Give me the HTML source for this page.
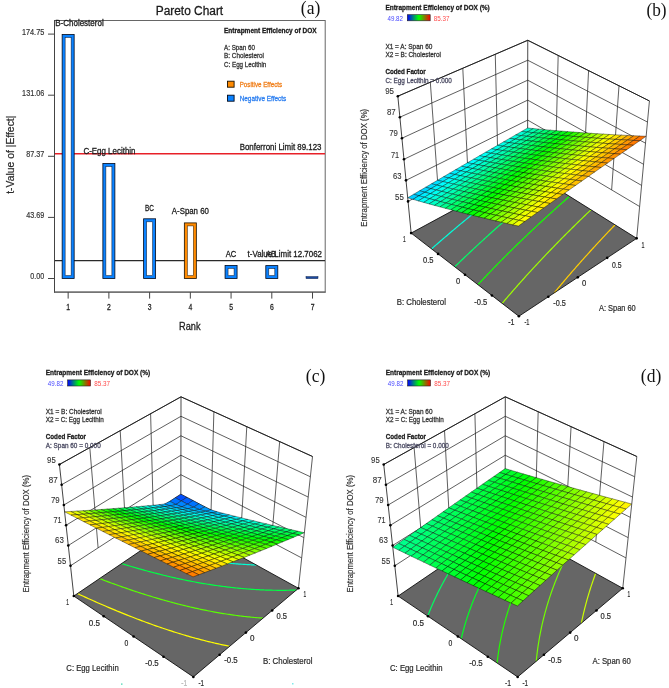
<!DOCTYPE html><html><head><meta charset="utf-8"><style>html,body{margin:0;padding:0;background:#fff;}svg{display:block} text{font-variant-ligatures:none;font-kerning:normal}</style></head><body><svg width="669" height="688" viewBox="0 0 669 688" font-family="'Liberation Sans', 'DejaVu Sans', sans-serif">
<defs><linearGradient id="cb" x1="0" x2="1" y1="0" y2="0"><stop offset="0" stop-color="#0000ff"/><stop offset="0.5" stop-color="#00ff00"/><stop offset="1" stop-color="#ff0000"/></linearGradient></defs>
<rect width="669" height="688" fill="#fff"/>
<line x1="437.94" y1="186.04" x2="430.31" y2="82.22" stroke="#1a1a1a" stroke-width="0.7"/>
<line x1="611.63" y1="189.91" x2="619.01" y2="85.78" stroke="#1a1a1a" stroke-width="0.7"/>
<line x1="467.84" y1="170.7" x2="462.79" y2="68.24" stroke="#1a1a1a" stroke-width="0.7"/>
<line x1="583.63" y1="173.28" x2="588.59" y2="70.62" stroke="#1a1a1a" stroke-width="0.7"/>
<line x1="497.74" y1="155.37" x2="495.28" y2="54.26" stroke="#1a1a1a" stroke-width="0.7"/>
<line x1="555.63" y1="156.66" x2="558.18" y2="55.45" stroke="#1a1a1a" stroke-width="0.7"/>
<line x1="527.63" y1="140.03" x2="527.76" y2="40.29" stroke="#1a1a1a" stroke-width="0.8"/>
<line x1="408.05" y1="201.38" x2="527.63" y2="140.03" stroke="#1a1a1a" stroke-width="0.7"/>
<line x1="527.63" y1="140.03" x2="639.63" y2="206.53" stroke="#1a1a1a" stroke-width="0.7"/>
<line x1="406" y1="180.34" x2="527.66" y2="120.08" stroke="#1a1a1a" stroke-width="0.7"/>
<line x1="527.66" y1="120.08" x2="641.59" y2="185.42" stroke="#1a1a1a" stroke-width="0.7"/>
<line x1="403.96" y1="159.31" x2="527.68" y2="100.13" stroke="#1a1a1a" stroke-width="0.7"/>
<line x1="527.68" y1="100.13" x2="643.55" y2="164.3" stroke="#1a1a1a" stroke-width="0.7"/>
<line x1="401.92" y1="138.27" x2="527.71" y2="80.18" stroke="#1a1a1a" stroke-width="0.7"/>
<line x1="527.71" y1="80.18" x2="645.51" y2="143.18" stroke="#1a1a1a" stroke-width="0.7"/>
<line x1="399.87" y1="117.23" x2="527.73" y2="60.23" stroke="#1a1a1a" stroke-width="0.7"/>
<line x1="527.73" y1="60.23" x2="647.47" y2="122.06" stroke="#1a1a1a" stroke-width="0.7"/>
<line x1="397.83" y1="96.2" x2="527.76" y2="40.29" stroke="#1a1a1a" stroke-width="0.7"/>
<line x1="527.76" y1="40.29" x2="649.43" y2="100.94" stroke="#1a1a1a" stroke-width="0.7"/>
<polygon points="411.13,233.09 518.86,316.28 636.68,238.37 527.59,170.11" fill="#666666"/>
<path d="M431.57,248.87 L432.58,247.99 L433.53,247.15 L434.48,246.32 L435.5,245.42 L436.39,244.64 L437.47,243.7 L438.31,242.96 L439.44,241.98 L440.25,241.28 L441.42,240.27 L442.21,239.59 L443.4,238.57 L444.19,237.89 L445.38,236.87 L446.17,236.19 L447.36,235.17 L448.15,234.49 L449.34,233.48 L450.16,232.78 L451.33,231.79 L452.18,231.07 L453.32,230.11 L454.22,229.35 L455.31,228.43 L456.27,227.62 L457.31,226.75 L458.34,225.89 L459.3,225.08 L460.42,224.15 L461.3,223.41 L462.5,222.42 L463.3,221.75 L464.5,220.76 L465.31,220.09 L466.51,219.1 L467.31,218.44 L468.51,217.45 L469.32,216.79 L470.52,215.8 L471.33,215.15 L472.53,214.16 L473.34,213.5 L474.55,212.52 L475.4,211.83 L476.56,210.89 L477.61,210.04 L478.58,209.26 L479.79,208.28 L480.6,207.63 L481.81,206.65 L482.62,206.01 L483.83,205.03 L484.64,204.39 L485.86,203.42 L486.67,202.77 L487.88,201.8 L488.86,201.03 L489.91,200.2 L491.13,199.23 L491.94,198.59 L493.16,197.63 L493.97,196.99 L495.19,196.03 L496.01,195.39 L497.23,194.43 L498.17,193.7 L499.27,192.84 L500.49,191.89 L501.31,191.25 L502.53,190.3 L503.35,189.67 L504.57,188.72 L505.39,188.09 L506.62,187.14 L507.75,186.27 L508.66,185.56 L509.89,184.62 L510.71,183.99 L511.94,183.05 L512.76,182.42 L513.99,181.48 L515.12,180.62 L516.04,179.92 L517.28,178.98 L518.1,178.36 L519.33,177.43 L520.15,176.8 L521.39,175.87 L522.62,174.94 L523.45,174.32 L524.68,173.39 L525.51,172.77 L526.74,171.85 L527.78,171.07 L528.39,170.61" fill="none" stroke="#00ffda" stroke-width="1.2"/>
<path d="M454.77,266.79 L455.53,266.05 L456.67,264.94 L457.44,264.21 L458.35,263.32 L459.34,262.36 L460.11,261.63 L461.25,260.53 L462.02,259.79 L463.17,258.7 L463.93,257.97 L464.89,257.05 L465.85,256.14 L466.62,255.42 L467.77,254.32 L468.54,253.6 L469.69,252.51 L470.46,251.79 L471.6,250.72 L472.39,249.98 L473.3,249.13 L474.32,248.18 L475.09,247.46 L476.25,246.39 L477.02,245.67 L478.18,244.6 L478.95,243.88 L480.12,242.81 L480.89,242.1 L481.98,241.1 L482.83,240.32 L483.75,239.48 L484.77,238.55 L485.55,237.84 L486.72,236.78 L487.5,236.07 L488.67,235.01 L489.45,234.31 L490.62,233.25 L491.4,232.55 L492.57,231.5 L493.35,230.8 L494.53,229.75 L495.31,229.05 L496.45,228.03 L497.27,227.31 L498.31,226.38 L499.23,225.57 L500.19,224.72 L501.19,223.83 L502.07,223.06 L503.16,222.11 L503.97,221.39 L505.12,220.38 L505.91,219.69 L507.09,218.66 L507.88,217.97 L509.07,216.94 L509.86,216.26 L511.04,215.23 L511.83,214.55 L513.02,213.52 L513.81,212.84 L515,211.82 L515.79,211.14 L516.98,210.12 L517.77,209.44 L518.96,208.43 L519.76,207.75 L520.95,206.73 L521.74,206.06 L522.94,205.05 L523.73,204.37 L524.93,203.37 L525.72,202.69 L526.92,201.69 L527.74,201 L528.91,200.01 L529.81,199.26 L530.91,198.34 L531.89,197.53 L532.91,196.68 L533.98,195.78 L534.91,195.01 L536.09,194.04 L536.91,193.36 L538.11,192.36 L538.92,191.7 L540.12,190.71 L540.92,190.05 L542.13,189.06 L542.93,188.4 L544.14,187.42 L544.94,186.76 L546.15,185.78 L546.96,185.12 L548.16,184.14 L548.97,183.49" fill="none" stroke="#00ff65" stroke-width="1.2"/>
<path d="M477.92,284.67 L479.02,283.49 L479.76,282.7 L480.5,281.91 L481.61,280.74 L482.35,279.95 L483.17,279.08 L484.19,278 L484.93,277.22 L485.98,276.12 L486.79,275.27 L487.53,274.5 L488.64,273.34 L489.39,272.56 L490.25,271.66 L491.25,270.63 L491.99,269.86 L493.11,268.7 L493.86,267.94 L494.6,267.17 L495.72,266.02 L496.47,265.25 L497.54,264.17 L498.34,263.35 L499.09,262.58 L500.22,261.44 L500.97,260.68 L502.01,259.63 L502.85,258.79 L503.6,258.03 L504.73,256.9 L505.49,256.14 L506.56,255.07 L507.37,254.26 L508.13,253.51 L509.26,252.38 L510.02,251.63 L511.15,250.51 L511.91,249.77 L512.76,248.93 L513.8,247.9 L514.56,247.16 L515.7,246.04 L516.46,245.3 L517.5,244.29 L518.36,243.45 L519.13,242.71 L520.27,241.6 L521.03,240.87 L522.18,239.76 L522.94,239.03 L523.95,238.06 L524.85,237.19 L525.62,236.46 L526.77,235.37 L527.53,234.64 L528.68,233.54 L529.45,232.81 L530.56,231.76 L531.37,231 L532.23,230.18 L533.29,229.19 L534.06,228.46 L535.22,227.38 L535.99,226.66 L537.15,225.58 L537.92,224.86 L539.04,223.81 L539.85,223.06 L540.77,222.21 L541.78,221.27 L542.56,220.56 L543.72,219.48 L544.49,218.77 L545.66,217.7 L546.43,216.99 L547.6,215.93 L548.38,215.22 L549.54,214.15 L550.32,213.45 L551.35,212.51 L552.27,211.68 L553.15,210.88 L554.22,209.92 L555,209.22 L556.17,208.16 L556.95,207.46 L558.12,206.41 L558.9,205.71 L560.08,204.66 L560.86,203.96 L562.03,202.92 L562.82,202.22 L563.99,201.18 L564.78,200.48 L565.96,199.44 L566.74,198.75 L567.92,197.71 L568.71,197.02 L569.5,196.33" fill="none" stroke="#13ff00" stroke-width="1.2"/>
<path d="M502.14,303.37 L503.05,302.3 L503.92,301.28 L504.63,300.44 L505.43,299.51 L506.41,298.36 L507.13,297.53 L507.84,296.7 L508.91,295.45 L509.63,294.62 L510.34,293.8 L511.42,292.56 L512.13,291.74 L512.85,290.91 L513.93,289.68 L514.65,288.86 L515.37,288.04 L516.44,286.82 L517.17,286 L517.89,285.18 L518.96,283.98 L519.7,283.15 L520.42,282.34 L521.51,281.12 L522.23,280.31 L522.96,279.5 L524.05,278.29 L524.78,277.48 L525.5,276.68 L526.59,275.47 L527.32,274.67 L528.05,273.87 L529.15,272.67 L529.88,271.87 L530.64,271.04 L531.7,269.88 L532.44,269.08 L533.31,268.13 L534.27,267.1 L535,266.31 L536.02,265.22 L536.84,264.33 L537.58,263.54 L538.68,262.36 L539.42,261.57 L540.15,260.79 L541.26,259.61 L542,258.83 L542.9,257.88 L543.85,256.87 L544.59,256.09 L545.7,254.92 L546.44,254.15 L547.18,253.37 L548.3,252.21 L549.04,251.43 L549.97,250.46 L550.9,249.5 L551.64,248.73 L552.76,247.57 L553.51,246.8 L554.31,245.98 L555.37,244.88 L556.12,244.12 L557.24,242.97 L557.99,242.21 L558.74,241.44 L559.87,240.3 L560.62,239.54 L561.7,238.44 L562.49,237.64 L563.25,236.88 L564.37,235.75 L565.13,234.99 L566.23,233.89 L567.01,233.11 L567.77,232.35 L568.9,231.22 L569.65,230.47 L570.79,229.35 L571.54,228.6 L572.39,227.77 L573.44,226.73 L574.19,225.99 L575.33,224.87 L576.09,224.12 L577.1,223.14 L577.99,222.27 L578.75,221.53 L579.89,220.42 L580.65,219.68 L581.8,218.57 L582.56,217.83 L583.5,216.92 L584.47,215.99 L585.23,215.26 L586.38,214.16 L587.14,213.42 L588.29,212.33 L589.06,211.6 L590.05,210.65 L590.97,209.77 L590.97,209.77" fill="none" stroke="#9fff00" stroke-width="1.2"/>
<path d="M554.19,292.92 L554.9,292.05 L555.61,291.2 L556.46,290.16 L557.37,289.08 L558.07,288.23 L558.78,287.38 L559.84,286.12 L560.54,285.27 L561.25,284.43 L562.25,283.24 L563.02,282.33 L563.73,281.49 L564.61,280.46 L565.51,279.4 L566.22,278.56 L566.99,277.67 L568,276.48 L568.72,275.65 L569.43,274.82 L570.5,273.58 L571.22,272.75 L571.93,271.92 L573.01,270.68 L573.73,269.86 L574.44,269.04 L575.51,267.82 L576.24,266.98 L576.96,266.16 L578,264.98 L578.76,264.12 L579.48,263.3 L580.52,262.14 L581.29,261.27 L582.01,260.45 L583.06,259.28 L583.82,258.43 L584.55,257.62 L585.63,256.42 L586.36,255.6 L587.09,254.79 L588.18,253.59 L588.91,252.78 L589.63,251.98 L590.73,250.78 L591.46,249.98 L592.19,249.18 L593.28,247.98 L594.02,247.18 L594.82,246.31 L595.85,245.19 L596.58,244.4 L597.51,243.4 L598.41,242.42 L599.15,241.63 L600.22,240.48 L600.99,239.66 L601.72,238.87 L602.83,237.69 L603.57,236.9 L604.34,236.08 L605.41,234.94 L606.15,234.16 L607.13,233.13 L608,232.21 L608.74,231.43 L609.85,230.26 L610.59,229.49 L611.36,228.68 L612.45,227.55 L613.19,226.77 L614.22,225.71 L615.05,224.84 L615.05,224.84" fill="none" stroke="#ffcf00" stroke-width="1.2"/>
<polyline points="527.59,170.11 411.13,233.09 518.86,316.28 636.68,238.37 527.59,170.11" fill="none" stroke="#111" stroke-width="0.9"/>
<g stroke="#000" stroke-opacity="0.78" stroke-width="0.5" stroke-linejoin="round">
<polygon points="527.26,132.09 533.32,128.58 527.65,128.01 521.61,131.48" fill="#00ffd2"/>
<polygon points="521.21,135.61 527.26,132.09 521.61,131.48 515.57,134.95" fill="#00ffd7"/>
<polygon points="532.94,132.69 539.02,129.13 533.32,128.58 527.26,132.09" fill="#00ffb3"/>
<polygon points="515.16,139.13 521.21,135.61 515.57,134.95 509.54,138.42" fill="#00ffdc"/>
<polygon points="538.65,133.27 544.75,129.66 539.02,129.13 532.94,132.69" fill="#00ff94"/>
<polygon points="526.87,136.26 532.94,132.69 527.26,132.09 521.21,135.61" fill="#00ffb8"/>
<polygon points="509.11,142.65 515.16,139.13 509.54,138.42 503.51,141.89" fill="#00ffe1"/>
<polygon points="520.8,139.82 526.87,136.26 521.21,135.61 515.16,139.13" fill="#00ffbd"/>
<polygon points="532.56,136.89 538.65,133.27 532.94,132.69 526.87,136.26" fill="#00ff99"/>
<polygon points="544.39,133.84 550.51,130.18 544.75,129.66 538.65,133.27" fill="#00ff74"/>
<polygon points="526.47,140.5 532.56,136.89 526.87,136.26 520.8,139.82" fill="#00ff9f"/>
<polygon points="503.07,146.18 509.11,142.65 503.51,141.89 497.49,145.37" fill="#00ffe6"/>
<polygon points="514.74,143.4 520.8,139.82 515.16,139.13 509.11,142.65" fill="#00ffc3"/>
<polygon points="538.27,137.5 544.39,133.84 538.65,133.27 532.56,136.89" fill="#00ff7a"/>
<polygon points="550.15,134.39 556.29,130.68 550.51,130.18 544.39,133.84" fill="#00ff55"/>
<polygon points="497.03,149.71 503.07,146.18 497.49,145.37 491.47,148.85" fill="#00ffeb"/>
<polygon points="520.38,144.12 526.47,140.5 520.8,139.82 514.74,143.4" fill="#00ffa4"/>
<polygon points="532.16,141.17 538.27,137.5 532.56,136.89 526.47,140.5" fill="#00ff80"/>
<polygon points="555.93,134.92 562.09,131.16 556.29,130.68 550.15,134.39" fill="#00ff36"/>
<polygon points="508.68,146.97 514.74,143.4 509.11,142.65 503.07,146.18" fill="#00ffc8"/>
<polygon points="544.01,138.1 550.15,134.39 544.39,133.84 538.27,137.5" fill="#00ff5b"/>
<polygon points="491,153.24 497.03,149.71 491.47,148.85 485.46,152.33" fill="#00fff0"/>
<polygon points="502.62,150.55 508.68,146.97 503.07,146.18 497.03,149.71" fill="#00ffcd"/>
<polygon points="514.31,147.75 520.38,144.12 514.74,143.4 508.68,146.97" fill="#00ffa9"/>
<polygon points="526.06,144.83 532.16,141.17 526.47,140.5 520.38,144.12" fill="#00ff85"/>
<polygon points="537.88,141.81 544.01,138.1 538.27,137.5 532.16,141.17" fill="#00ff61"/>
<polygon points="549.78,138.68 555.93,134.92 550.15,134.39 544.01,138.1" fill="#00ff3c"/>
<polygon points="561.74,135.44 567.92,131.63 562.09,131.16 555.93,134.92" fill="#00ff17"/>
<polygon points="484.98,156.77 491,153.24 485.46,152.33 479.45,155.81" fill="#00fff5"/>
<polygon points="508.23,151.37 514.31,147.75 508.68,146.97 502.62,150.55" fill="#00ffaf"/>
<polygon points="543.63,142.45 549.78,138.68 544.01,138.1 537.88,141.81" fill="#00ff42"/>
<polygon points="567.58,135.94 573.78,132.09 567.92,131.63 561.74,135.44" fill="#09ff00"/>
<polygon points="496.57,154.12 502.62,150.55 497.03,149.71 491,153.24" fill="#00ffd2"/>
<polygon points="519.96,148.51 526.06,144.83 520.38,144.12 514.31,147.75" fill="#00ff8b"/>
<polygon points="531.76,145.53 537.88,141.81 532.16,141.17 526.06,144.83" fill="#00ff67"/>
<polygon points="555.57,139.25 561.74,135.44 555.93,134.92 549.78,138.68" fill="#00ff1d"/>
<polygon points="478.95,160.3 484.98,156.77 479.45,155.81 473.45,159.3" fill="#00fffa"/>
<polygon points="490.52,157.71 496.57,154.12 491,153.24 484.98,156.77" fill="#00ffd8"/>
<polygon points="502.16,155 508.23,151.37 502.62,150.55 496.57,154.12" fill="#00ffb4"/>
<polygon points="513.87,152.18 519.96,148.51 514.31,147.75 508.23,151.37" fill="#00ff91"/>
<polygon points="537.49,146.21 543.63,142.45 537.88,141.81 531.76,145.53" fill="#00ff48"/>
<polygon points="549.4,143.06 555.57,139.25 549.78,138.68 543.63,142.45" fill="#00ff23"/>
<polygon points="561.39,139.8 567.58,135.94 561.74,135.44 555.57,139.25" fill="#02ff00"/>
<polygon points="573.45,136.43 579.67,132.53 573.78,132.09 567.58,135.94" fill="#2dff00"/>
<polygon points="525.64,149.25 531.76,145.53 526.06,144.83 519.96,148.51" fill="#00ff6d"/>
<polygon points="496.1,158.63 502.16,155 496.57,154.12 490.52,157.71" fill="#00ffba"/>
<polygon points="555.2,143.66 561.39,139.8 555.57,139.25 549.4,143.06" fill="#00ff05"/>
<polygon points="472.94,163.84 478.95,160.3 473.45,159.3 467.45,162.79" fill="#00feff"/>
<polygon points="484.48,161.29 490.52,157.71 484.98,156.77 478.95,160.3" fill="#00ffdd"/>
<polygon points="507.78,155.86 513.87,152.18 508.23,151.37 502.16,155" fill="#00ff96"/>
<polygon points="519.53,152.97 525.64,149.25 519.96,148.51 513.87,152.18" fill="#00ff73"/>
<polygon points="531.35,149.98 537.49,146.21 531.76,145.53 525.64,149.25" fill="#00ff4e"/>
<polygon points="543.24,146.88 549.4,143.06 543.63,142.45 537.49,146.21" fill="#00ff2a"/>
<polygon points="567.23,140.34 573.45,136.43 567.58,135.94 561.39,139.8" fill="#25ff00"/>
<polygon points="579.34,136.9 585.58,132.95 579.67,132.53 573.45,136.43" fill="#50ff00"/>
<polygon points="490.04,162.26 496.1,158.63 490.52,157.71 484.48,161.29" fill="#00ffbf"/>
<polygon points="501.7,159.54 507.78,155.86 502.16,155 496.1,158.63" fill="#00ff9c"/>
<polygon points="525.22,153.75 531.35,149.98 525.64,149.25 519.53,152.97" fill="#00ff54"/>
<polygon points="549.01,147.53 555.2,143.66 549.4,143.06 543.24,146.88" fill="#00ff0b"/>
<polygon points="561.02,144.25 567.23,140.34 561.39,139.8 555.2,143.66" fill="#1eff00"/>
<polygon points="466.92,167.38 472.94,163.84 467.45,162.79 461.45,166.28" fill="#00f9ff"/>
<polygon points="585.26,137.36 591.52,133.35 585.58,132.95 579.34,136.9" fill="#74ff00"/>
<polygon points="478.45,164.88 484.48,161.29 478.95,160.3 472.94,163.84" fill="#00ffe2"/>
<polygon points="513.42,156.7 519.53,152.97 513.87,152.18 507.78,155.86" fill="#00ff78"/>
<polygon points="537.08,150.69 543.24,146.88 537.49,146.21 531.35,149.98" fill="#00ff30"/>
<polygon points="573.1,140.86 579.34,136.9 573.45,136.43 567.23,140.34" fill="#48ff00"/>
<polygon points="460.91,170.92 466.92,167.38 461.45,166.28 455.46,169.77" fill="#00f4ff"/>
<polygon points="483.98,165.9 490.04,162.26 484.48,161.29 478.45,164.88" fill="#00ffc5"/>
<polygon points="495.62,163.22 501.7,159.54 496.1,158.63 490.04,162.26" fill="#00ffa2"/>
<polygon points="507.32,160.43 513.42,156.7 507.78,155.86 501.7,159.54" fill="#00ff7e"/>
<polygon points="519.09,157.53 525.22,153.75 519.53,152.97 513.42,156.7" fill="#00ff5a"/>
<polygon points="530.93,154.52 537.08,150.69 531.35,149.98 525.22,153.75" fill="#00ff36"/>
<polygon points="542.84,151.39 549.01,147.53 543.24,146.88 537.08,150.69" fill="#00ff12"/>
<polygon points="554.82,148.16 561.02,144.25 555.2,143.66 549.01,147.53" fill="#16ff00"/>
<polygon points="566.87,144.82 573.1,140.86 567.23,140.34 561.02,144.25" fill="#41ff00"/>
<polygon points="591.2,137.79 597.48,133.74 591.52,133.35 585.26,137.36" fill="#97ff00"/>
<polygon points="472.42,168.46 478.45,164.88 472.94,163.84 466.92,167.38" fill="#00ffe7"/>
<polygon points="579,141.36 585.26,137.36 579.34,136.9 573.1,140.86" fill="#6cff00"/>
<polygon points="512.97,161.31 519.09,157.53 513.42,156.7 507.32,160.43" fill="#00ff60"/>
<polygon points="536.67,155.26 542.84,151.39 537.08,150.69 530.93,154.52" fill="#00ff18"/>
<polygon points="454.91,174.47 460.91,170.92 455.46,169.77 449.48,173.27" fill="#00efff"/>
<polygon points="477.94,169.53 483.98,165.9 478.45,164.88 472.42,168.46" fill="#00ffca"/>
<polygon points="572.75,145.37 579,141.36 573.1,140.86 566.87,144.82" fill="#64ff00"/>
<polygon points="597.17,138.22 603.48,134.12 597.48,133.74 591.2,137.79" fill="#baff00"/>
<polygon points="466.39,172.06 472.42,168.46 466.92,167.38 460.91,170.92" fill="#00ffed"/>
<polygon points="489.55,166.9 495.62,163.22 490.04,162.26 483.98,165.9" fill="#00ffa7"/>
<polygon points="501.22,164.16 507.32,160.43 501.7,159.54 495.62,163.22" fill="#00ff84"/>
<polygon points="524.78,158.34 530.93,154.52 525.22,153.75 519.09,157.53" fill="#00ff3c"/>
<polygon points="548.62,152.08 554.82,148.16 549.01,147.53 542.84,151.39" fill="#0fff00"/>
<polygon points="560.65,148.78 566.87,144.82 561.02,144.25 554.82,148.16" fill="#39ff00"/>
<polygon points="584.92,141.85 591.2,137.79 585.26,137.36 579,141.36" fill="#8fff00"/>
<polygon points="448.91,178.01 454.91,174.47 449.48,173.27 443.49,176.77" fill="#00eaff"/>
<polygon points="471.89,173.18 477.94,169.53 472.42,168.46 466.39,172.06" fill="#00ffd0"/>
<polygon points="506.85,165.09 512.97,161.31 507.32,160.43 501.22,164.16" fill="#00ff66"/>
<polygon points="518.64,162.17 524.78,158.34 519.09,157.53 512.97,161.31" fill="#00ff43"/>
<polygon points="530.5,159.14 536.67,155.26 530.93,154.52 524.78,158.34" fill="#00ff1e"/>
<polygon points="542.43,156 548.62,152.08 542.84,151.39 536.67,155.26" fill="#07ff00"/>
<polygon points="578.65,145.91 584.92,141.85 579,141.36 572.75,145.37" fill="#87ff00"/>
<polygon points="603.16,138.63 609.49,134.48 603.48,134.12 597.17,138.22" fill="#deff00"/>
<polygon points="460.37,175.65 466.39,172.06 460.91,170.92 454.91,174.47" fill="#00fff2"/>
<polygon points="483.48,170.59 489.55,166.9 483.98,165.9 477.94,169.53" fill="#00ffad"/>
<polygon points="566.5,149.38 572.75,145.37 566.87,144.82 560.65,148.78" fill="#5cff00"/>
<polygon points="590.87,142.32 597.17,138.22 591.2,137.79 584.92,141.85" fill="#b2ff00"/>
<polygon points="495.13,167.89 501.22,164.16 495.62,163.22 489.55,166.9" fill="#00ff8a"/>
<polygon points="554.43,152.75 560.65,148.78 554.82,148.16 548.62,152.08" fill="#31ff00"/>
<polygon points="524.34,163.01 530.5,159.14 524.78,158.34 518.64,162.17" fill="#00ff25"/>
<polygon points="465.85,176.82 471.89,173.18 466.39,172.06 460.37,175.65" fill="#00ffd5"/>
<polygon points="584.57,146.43 590.87,142.32 584.92,141.85 578.65,145.91" fill="#aaff00"/>
<polygon points="442.92,181.56 448.91,178.01 443.49,176.77 437.52,180.27" fill="#00e5ff"/>
<polygon points="454.35,179.25 460.37,175.65 454.91,174.47 448.91,178.01" fill="#00fff7"/>
<polygon points="477.42,174.28 483.48,170.59 477.94,169.53 471.89,173.18" fill="#00ffb3"/>
<polygon points="500.74,168.87 506.85,165.09 501.22,164.16 495.13,167.89" fill="#00ff6c"/>
<polygon points="512.51,166 518.64,162.17 512.97,161.31 506.85,165.09" fill="#00ff49"/>
<polygon points="536.24,159.92 542.43,156 536.67,155.26 530.5,159.14" fill="#00ff00"/>
<polygon points="548.22,156.71 554.43,152.75 548.62,152.08 542.43,156" fill="#29ff00"/>
<polygon points="572.38,149.97 578.65,145.91 572.75,145.37 566.5,149.38" fill="#7eff00"/>
<polygon points="596.84,142.78 603.16,138.63 597.17,138.22 590.87,142.32" fill="#d5ff00"/>
<polygon points="609.19,139.02 615.54,134.82 609.49,134.48 603.16,138.63" fill="#fffd00"/>
<polygon points="489.05,171.63 495.13,167.89 489.55,166.9 483.48,170.59" fill="#00ff90"/>
<polygon points="560.26,153.4 566.5,149.38 560.65,148.78 554.43,152.75" fill="#54ff00"/>
<polygon points="459.82,180.46 465.85,176.82 460.37,175.65 454.35,179.25" fill="#00ffdb"/>
<polygon points="518.19,166.89 524.34,163.01 518.64,162.17 512.51,166" fill="#00ff2b"/>
<polygon points="530.06,163.85 536.24,159.92 530.5,159.14 524.34,163.01" fill="#00ff07"/>
<polygon points="590.53,146.94 596.84,142.78 590.87,142.32 584.57,146.43" fill="#ccff00"/>
<polygon points="436.93,185.11 442.92,181.56 437.52,180.27 431.54,183.77" fill="#00e0ff"/>
<polygon points="471.36,177.97 477.42,174.28 471.89,173.18 465.85,176.82" fill="#00ffb8"/>
<polygon points="494.64,172.66 500.74,168.87 495.13,167.89 489.05,171.63" fill="#00ff72"/>
<polygon points="554.03,157.42 560.26,153.4 554.43,152.75 548.22,156.71" fill="#4cff00"/>
<polygon points="578.29,150.54 584.57,146.43 578.65,145.91 572.38,149.97" fill="#a1ff00"/>
<polygon points="615.23,139.39 621.61,135.14 615.54,134.82 609.19,139.02" fill="#ffe100"/>
<polygon points="448.34,182.84 454.35,179.25 448.91,178.01 442.92,181.56" fill="#00fffc"/>
<polygon points="482.96,175.37 489.05,171.63 483.48,170.59 477.42,174.28" fill="#00ff96"/>
<polygon points="506.38,169.83 512.51,166 506.85,165.09 500.74,168.87" fill="#00ff4f"/>
<polygon points="542.01,160.69 548.22,156.71 542.43,156 536.24,159.92" fill="#22ff00"/>
<polygon points="566.12,154.04 572.38,149.97 566.5,149.38 560.26,153.4" fill="#76ff00"/>
<polygon points="602.84,143.22 609.19,139.02 603.16,138.63 596.84,142.78" fill="#f8ff00"/>
<polygon points="430.94,188.67 436.93,185.11 431.54,183.77 425.58,187.27" fill="#00dbff"/>
<polygon points="453.79,184.11 459.82,180.46 454.35,179.25 448.34,182.84" fill="#00ffe0"/>
<polygon points="465.31,181.67 471.36,177.97 465.85,176.82 459.82,180.46" fill="#00ffbe"/>
<polygon points="488.54,176.45 494.64,172.66 489.05,171.63 482.96,175.37" fill="#00ff79"/>
<polygon points="512.04,170.78 518.19,166.89 512.51,166 506.38,169.83" fill="#00ff32"/>
<polygon points="523.89,167.78 530.06,163.85 524.34,163.01 518.19,166.89" fill="#00ff0e"/>
<polygon points="535.81,164.66 542.01,160.69 536.24,159.92 530.06,163.85" fill="#1aff00"/>
<polygon points="559.87,158.1 566.12,154.04 560.26,153.4 554.03,157.42" fill="#6eff00"/>
<polygon points="584.22,151.1 590.53,146.94 584.57,146.43 578.29,150.54" fill="#c4ff00"/>
<polygon points="596.5,147.43 602.84,143.22 596.84,142.78 590.53,146.94" fill="#efff00"/>
<polygon points="621.31,139.75 627.7,135.45 621.61,135.14 615.23,139.39" fill="#ffc600"/>
<polygon points="442.33,186.45 448.34,182.84 442.92,181.56 436.93,185.11" fill="#00fcff"/>
<polygon points="476.89,179.11 482.96,175.37 477.42,174.28 471.36,177.97" fill="#00ff9b"/>
<polygon points="500.25,173.67 506.38,169.83 500.74,168.87 494.64,172.66" fill="#00ff55"/>
<polygon points="547.8,161.44 554.03,157.42 548.22,156.71 542.01,160.69" fill="#44ff00"/>
<polygon points="572.01,154.66 578.29,150.54 572.38,149.97 566.12,154.04" fill="#99ff00"/>
<polygon points="608.87,143.65 615.23,139.39 609.19,139.02 602.84,143.22" fill="#ffe900"/>
<polygon points="447.76,187.76 453.79,184.11 448.34,182.84 442.33,186.45" fill="#00ffe5"/>
<polygon points="482.44,180.24 488.54,176.45 482.96,175.37 476.89,179.11" fill="#00ff7f"/>
<polygon points="505.89,174.66 512.04,170.78 506.38,169.83 500.25,173.67" fill="#00ff38"/>
<polygon points="541.58,165.47 547.8,161.44 542.01,160.69 535.81,164.66" fill="#3cff00"/>
<polygon points="565.73,158.78 572.01,154.66 566.12,154.04 559.87,158.1" fill="#90ff00"/>
<polygon points="602.51,147.9 608.87,143.65 602.84,143.22 596.5,147.43" fill="#fff000"/>
<polygon points="424.96,192.23 430.94,188.67 425.58,187.27 419.61,190.78" fill="#00d6ff"/>
<polygon points="436.33,190.05 442.33,186.45 436.93,185.11 430.94,188.67" fill="#00f7ff"/>
<polygon points="459.26,185.37 465.31,181.67 459.82,180.46 453.79,184.11" fill="#00ffc4"/>
<polygon points="470.82,182.86 476.89,179.11 471.36,177.97 465.31,181.67" fill="#00ffa1"/>
<polygon points="494.14,177.51 500.25,173.67 494.64,172.66 488.54,176.45" fill="#00ff5c"/>
<polygon points="517.72,171.71 523.89,167.78 518.19,166.89 512.04,170.78" fill="#00ff14"/>
<polygon points="529.62,168.64 535.81,164.66 530.06,163.85 523.89,167.78" fill="#12ff00"/>
<polygon points="553.62,162.18 559.87,158.1 554.03,157.42 547.8,161.44" fill="#66ff00"/>
<polygon points="577.92,155.26 584.22,151.1 578.29,150.54 572.01,154.66" fill="#bbff00"/>
<polygon points="590.18,151.64 596.5,147.43 590.53,146.94 584.22,151.1" fill="#e7ff00"/>
<polygon points="614.92,144.06 621.31,139.75 615.23,139.39 608.87,143.65" fill="#ffcd00"/>
<polygon points="627.41,140.1 633.82,135.75 627.7,135.45 621.31,139.75" fill="#ffaa00"/>
<polygon points="441.74,191.42 447.76,187.76 442.33,186.45 436.33,190.05" fill="#00ffeb"/>
<polygon points="476.36,184.03 482.44,180.24 476.89,179.11 470.82,182.86" fill="#00ff85"/>
<polygon points="499.76,178.55 505.89,174.66 500.25,173.67 494.14,177.51" fill="#00ff3e"/>
<polygon points="547.38,166.25 553.62,162.18 547.8,161.44 541.58,165.47" fill="#5eff00"/>
<polygon points="571.62,159.43 577.92,155.26 572.01,154.66 565.73,158.78" fill="#b3ff00"/>
<polygon points="608.54,148.36 614.92,144.06 608.87,143.65 602.51,147.9" fill="#ffd400"/>
<polygon points="418.99,195.78 424.96,192.23 419.61,190.78 413.65,194.29" fill="#00d1ff"/>
<polygon points="453.22,189.07 459.26,185.37 453.79,184.11 447.76,187.76" fill="#00ffc9"/>
<polygon points="488.02,181.35 494.14,177.51 488.54,176.45 482.44,180.24" fill="#00ff62"/>
<polygon points="511.56,175.64 517.72,171.71 512.04,170.78 505.89,174.66" fill="#00ff1b"/>
<polygon points="535.37,169.49 541.58,165.47 535.81,164.66 529.62,168.64" fill="#34ff00"/>
<polygon points="559.47,162.9 565.73,158.78 559.87,158.1 553.62,162.18" fill="#88ff00"/>
<polygon points="596.16,152.16 602.51,147.9 596.5,147.43 590.18,151.64" fill="#fff700"/>
<polygon points="633.53,140.43 639.97,136.03 633.82,135.75 627.41,140.1" fill="#ff8e00"/>
<polygon points="430.33,193.66 436.33,190.05 430.94,188.67 424.96,192.23" fill="#00f2ff"/>
<polygon points="464.75,186.61 470.82,182.86 465.31,181.67 459.26,185.37" fill="#00ffa7"/>
<polygon points="523.43,172.63 529.62,168.64 523.89,167.78 517.72,171.71" fill="#0aff00"/>
<polygon points="583.85,155.85 590.18,151.64 584.22,151.1 577.92,155.26" fill="#deff00"/>
<polygon points="621,144.45 627.41,140.1 621.31,139.75 614.92,144.06" fill="#ffb100"/>
<polygon points="493.63,182.44 499.76,178.55 494.14,177.51 488.02,181.35" fill="#00ff45"/>
<polygon points="553.21,167.02 559.47,162.9 553.62,162.18 547.38,166.25" fill="#80ff00"/>
<polygon points="413.01,199.35 418.99,195.78 413.65,194.29 407.7,197.8" fill="#00ccff"/>
<polygon points="435.73,195.07 441.74,191.42 436.33,190.05 430.33,193.66" fill="#00fff0"/>
<polygon points="447.18,192.77 453.22,189.07 447.76,187.76 441.74,191.42" fill="#00ffcf"/>
<polygon points="470.27,187.83 476.36,184.03 470.82,182.86 464.75,186.61" fill="#00ff8b"/>
<polygon points="481.92,185.19 488.02,181.35 482.44,180.24 476.36,184.03" fill="#00ff68"/>
<polygon points="505.4,179.58 511.56,175.64 505.89,174.66 499.76,178.55" fill="#00ff21"/>
<polygon points="541.15,170.33 547.38,166.25 541.58,165.47 535.37,169.49" fill="#55ff00"/>
<polygon points="565.34,163.6 571.62,159.43 565.73,158.78 559.47,162.9" fill="#aaff00"/>
<polygon points="577.54,160.07 583.85,155.85 577.92,155.26 571.62,159.43" fill="#d5ff00"/>
<polygon points="602.17,152.67 608.54,148.36 602.51,147.9 596.16,152.16" fill="#ffdc00"/>
<polygon points="614.6,148.81 621,144.45 614.92,144.06 608.54,148.36" fill="#ffb900"/>
<polygon points="639.69,140.74 646.15,136.29 639.97,136.03 633.53,140.43" fill="#ff7200"/>
<polygon points="424.34,197.27 430.33,193.66 424.96,192.23 418.99,195.78" fill="#00edff"/>
<polygon points="458.7,190.36 464.75,186.61 459.26,185.37 453.22,189.07" fill="#00ffad"/>
<polygon points="517.25,176.61 523.43,172.63 517.72,171.71 511.56,175.64" fill="#03ff00"/>
<polygon points="529.16,173.53 535.37,169.49 529.62,168.64 523.43,172.63" fill="#2cff00"/>
<polygon points="589.81,156.43 596.16,152.16 590.18,151.64 583.85,155.85" fill="#fffe00"/>
<polygon points="627.1,144.83 633.53,140.43 627.41,140.1 621,144.45" fill="#ff9600"/>
<polygon points="487.5,186.34 493.63,182.44 488.02,181.35 481.92,185.19" fill="#00ff4b"/>
<polygon points="559.05,167.78 565.34,163.6 559.47,162.9 553.21,167.02" fill="#a1ff00"/>
<polygon points="429.72,198.73 435.73,195.07 430.33,193.66 424.34,197.27" fill="#00fff6"/>
<polygon points="464.2,191.63 470.27,187.83 464.75,186.61 458.7,190.36" fill="#00ff91"/>
<polygon points="499.25,183.53 505.4,179.58 499.76,178.55 493.63,182.44" fill="#00ff28"/>
<polygon points="546.95,171.15 553.21,167.02 547.38,166.25 541.15,170.33" fill="#77ff00"/>
<polygon points="583.48,160.7 589.81,156.43 583.85,155.85 577.54,160.07" fill="#f7ff00"/>
<polygon points="620.68,149.24 627.1,144.83 621,144.45 614.6,148.81" fill="#ff9d00"/>
<polygon points="418.35,200.88 424.34,197.27 418.99,195.78 413.01,199.35" fill="#00e7ff"/>
<polygon points="441.15,196.48 447.18,192.77 441.74,191.42 435.73,195.07" fill="#00ffd4"/>
<polygon points="452.64,194.11 458.7,190.36 453.22,189.07 447.18,192.77" fill="#00ffb3"/>
<polygon points="475.82,189.04 481.92,185.19 476.36,184.03 470.27,187.83" fill="#00ff6e"/>
<polygon points="511.08,180.6 517.25,176.61 511.56,175.64 505.4,179.58" fill="#00ff04"/>
<polygon points="522.96,177.56 529.16,173.53 523.43,172.63 517.25,176.61" fill="#24ff00"/>
<polygon points="534.92,174.41 541.15,170.33 535.37,169.49 529.16,173.53" fill="#4dff00"/>
<polygon points="571.23,164.29 577.54,160.07 571.62,159.43 565.34,163.6" fill="#ccff00"/>
<polygon points="595.8,156.99 602.17,152.67 596.16,152.16 589.81,156.43" fill="#ffe300"/>
<polygon points="608.2,153.17 614.6,148.81 608.54,148.36 602.17,152.67" fill="#ffc000"/>
<polygon points="633.23,145.19 639.69,140.74 633.53,140.43 627.1,144.83" fill="#ff7a00"/>
<polygon points="423.72,202.4 429.72,198.73 424.34,197.27 418.35,200.88" fill="#00fffb"/>
<polygon points="458.13,195.44 464.2,191.63 458.7,190.36 452.64,194.11" fill="#00ff97"/>
<polygon points="481.38,190.24 487.5,186.34 481.92,185.19 475.82,189.04" fill="#00ff52"/>
<polygon points="493.11,187.47 499.25,183.53 493.63,182.44 487.5,186.34" fill="#00ff2f"/>
<polygon points="552.78,171.96 559.05,167.78 553.21,167.02 546.95,171.15" fill="#99ff00"/>
<polygon points="564.93,168.52 571.23,164.29 565.34,163.6 559.05,167.78" fill="#c3ff00"/>
<polygon points="589.44,161.31 595.8,156.99 589.81,156.43 583.48,160.7" fill="#ffea00"/>
<polygon points="626.78,149.65 633.23,145.19 627.1,144.83 620.68,149.24" fill="#ff8200"/>
<polygon points="435.12,200.19 441.15,196.48 435.73,195.07 429.72,198.73" fill="#00ffda"/>
<polygon points="469.72,192.89 475.82,189.04 470.27,187.83 464.2,191.63" fill="#00ff74"/>
<polygon points="504.91,184.59 511.08,180.6 505.4,179.58 499.25,183.53" fill="#00ff0b"/>
<polygon points="516.77,181.6 522.96,177.56 517.25,176.61 511.08,180.6" fill="#1cff00"/>
<polygon points="528.7,178.5 534.92,174.41 529.16,173.53 522.96,177.56" fill="#45ff00"/>
<polygon points="540.71,175.28 546.95,171.15 541.15,170.33 534.92,174.41" fill="#6fff00"/>
<polygon points="577.15,164.97 583.48,160.7 577.54,160.07 571.23,164.29" fill="#eeff00"/>
<polygon points="614.26,153.65 620.68,149.24 614.6,148.81 608.2,153.17" fill="#ffa500"/>
<polygon points="446.59,197.87 452.64,194.11 447.18,192.77 441.15,196.48" fill="#00ffb9"/>
<polygon points="601.81,157.53 608.2,153.17 602.17,152.67 595.8,156.99" fill="#ffc800"/>
<polygon points="475.27,194.14 481.38,190.24 475.82,189.04 469.72,192.89" fill="#00ff58"/>
<polygon points="570.83,169.25 577.15,164.97 571.23,164.29 564.93,168.52" fill="#e5ff00"/>
<polygon points="429.1,203.9 435.12,200.19 429.72,198.73 423.72,202.4" fill="#00ffe0"/>
<polygon points="452.06,199.24 458.13,195.44 452.64,194.11 446.59,197.87" fill="#00ff9d"/>
<polygon points="463.63,196.75 469.72,192.89 464.2,191.63 458.13,195.44" fill="#00ff7b"/>
<polygon points="486.97,191.42 493.11,187.47 487.5,186.34 481.38,190.24" fill="#00ff35"/>
<polygon points="498.74,188.59 504.91,184.59 499.25,183.53 493.11,187.47" fill="#00ff12"/>
<polygon points="510.58,185.64 516.77,181.6 511.08,180.6 504.91,184.59" fill="#14ff00"/>
<polygon points="522.49,182.59 528.7,178.5 522.96,177.56 516.77,181.6" fill="#3dff00"/>
<polygon points="534.47,179.42 540.71,175.28 534.92,174.41 528.7,178.5" fill="#66ff00"/>
<polygon points="546.51,176.14 552.78,171.96 546.95,171.15 540.71,175.28" fill="#90ff00"/>
<polygon points="558.63,172.75 564.93,168.52 559.05,167.78 552.78,171.96" fill="#baff00"/>
<polygon points="583.09,165.63 589.44,161.31 583.48,160.7 577.15,164.97" fill="#fff100"/>
<polygon points="595.43,161.9 601.81,157.53 595.8,156.99 589.44,161.31" fill="#ffcf00"/>
<polygon points="620.35,154.11 626.78,149.65 620.68,149.24 614.26,153.65" fill="#ff8a00"/>
<polygon points="440.55,201.63 446.59,197.87 441.15,196.48 435.12,200.19" fill="#00ffbe"/>
<polygon points="607.85,158.06 614.26,153.65 608.2,153.17 601.81,157.53" fill="#ffad00"/>
<polygon points="469.16,198.04 475.27,194.14 469.72,192.89 463.63,196.75" fill="#00ff5f"/>
<polygon points="576.75,169.96 583.09,165.63 577.15,164.97 570.83,169.25" fill="#fff900"/>
<polygon points="446,203.05 452.06,199.24 446.59,197.87 440.55,201.63" fill="#00ffa3"/>
<polygon points="480.84,195.37 486.97,191.42 481.38,190.24 475.27,194.14" fill="#00ff3c"/>
<polygon points="504.4,189.69 510.58,185.64 504.91,184.59 498.74,188.59" fill="#0cff00"/>
<polygon points="516.28,186.68 522.49,182.59 516.77,181.6 510.58,185.64" fill="#35ff00"/>
<polygon points="528.23,183.56 534.47,179.42 528.7,178.5 522.49,182.59" fill="#5eff00"/>
<polygon points="540.25,180.33 546.51,176.14 540.71,175.28 534.47,179.42" fill="#88ff00"/>
<polygon points="564.51,173.53 570.83,169.25 564.93,168.52 558.63,172.75" fill="#dcff00"/>
<polygon points="601.45,162.48 607.85,158.06 601.81,157.53 595.43,161.9" fill="#ffb400"/>
<polygon points="434.51,205.39 440.55,201.63 435.12,200.19 429.1,203.9" fill="#00ffc4"/>
<polygon points="457.55,200.6 463.63,196.75 458.13,195.44 452.06,199.24" fill="#00ff81"/>
<polygon points="492.59,192.59 498.74,188.59 493.11,187.47 486.97,191.42" fill="#00ff19"/>
<polygon points="552.35,176.98 558.63,172.75 552.78,171.96 546.51,176.14" fill="#b2ff00"/>
<polygon points="589.06,166.28 595.43,161.9 589.44,161.31 583.09,165.63" fill="#ffd700"/>
<polygon points="613.92,158.58 620.35,154.11 614.26,153.65 607.85,158.06" fill="#ff9100"/>
<polygon points="439.94,206.87 446,203.05 440.55,201.63 434.51,205.39" fill="#00ffa9"/>
<polygon points="463.06,201.95 469.16,198.04 463.63,196.75 457.55,200.6" fill="#00ff65"/>
<polygon points="474.72,199.33 480.84,195.37 475.27,194.14 469.16,198.04" fill="#00ff43"/>
<polygon points="510.08,190.78 516.28,186.68 510.58,185.64 504.4,189.69" fill="#2dff00"/>
<polygon points="522.01,187.7 528.23,183.56 522.49,182.59 516.28,186.68" fill="#56ff00"/>
<polygon points="534,184.52 540.25,180.33 534.47,179.42 528.23,183.56" fill="#7fff00"/>
<polygon points="570.41,174.29 576.75,169.96 570.83,169.25 564.51,173.53" fill="#feff00"/>
<polygon points="582.7,170.65 589.06,166.28 583.09,165.63 576.75,169.96" fill="#ffde00"/>
<polygon points="607.49,163.05 613.92,158.58 607.85,158.06 601.45,162.48" fill="#ff9900"/>
<polygon points="451.47,204.46 457.55,200.6 452.06,199.24 446,203.05" fill="#00ff87"/>
<polygon points="486.44,196.59 492.59,192.59 486.97,191.42 480.84,195.37" fill="#00ff20"/>
<polygon points="498.23,193.74 504.4,189.69 498.74,188.59 492.59,192.59" fill="#04ff00"/>
<polygon points="546.07,181.22 552.35,176.98 546.51,176.14 540.25,180.33" fill="#a9ff00"/>
<polygon points="558.2,177.81 564.51,173.53 558.63,172.75 552.35,176.98" fill="#d3ff00"/>
<polygon points="595.06,166.91 601.45,162.48 595.43,161.9 589.06,166.28" fill="#ffbc00"/>
<polygon points="456.97,205.86 463.06,201.95 457.55,200.6 451.47,204.46" fill="#00ff6b"/>
<polygon points="515.79,191.85 522.01,187.7 516.28,186.68 510.08,190.78" fill="#4dff00"/>
<polygon points="527.76,188.71 534,184.52 528.23,183.56 522.01,187.7" fill="#76ff00"/>
<polygon points="588.67,171.33 595.06,166.91 589.06,166.28 582.7,170.65" fill="#ffc400"/>
<polygon points="445.4,208.33 451.47,204.46 446,203.05 439.94,206.87" fill="#00ff8d"/>
<polygon points="468.6,203.28 474.72,199.33 469.16,198.04 463.06,201.95" fill="#00ff49"/>
<polygon points="480.3,200.59 486.44,196.59 480.84,195.37 474.72,199.33" fill="#00ff26"/>
<polygon points="492.06,197.79 498.23,193.74 492.59,192.59 486.44,196.59" fill="#00ff03"/>
<polygon points="503.89,194.88 510.08,190.78 504.4,189.69 498.23,193.74" fill="#24ff00"/>
<polygon points="539.79,185.46 546.07,181.22 540.25,180.33 534,184.52" fill="#a0ff00"/>
<polygon points="551.9,182.1 558.2,177.81 552.35,176.98 546.07,181.22" fill="#caff00"/>
<polygon points="564.09,178.62 570.41,174.29 564.51,173.53 558.2,177.81" fill="#f4ff00"/>
<polygon points="576.34,175.03 582.7,170.65 576.75,169.96 570.41,174.29" fill="#ffe600"/>
<polygon points="601.08,167.52 607.49,163.05 601.45,162.48 595.06,166.91" fill="#ffa100"/>
<polygon points="450.88,209.78 456.97,205.86 451.47,204.46 445.4,208.33" fill="#00ff72"/>
<polygon points="521.52,192.91 527.76,188.71 522.01,187.7 515.79,191.85" fill="#6eff00"/>
<polygon points="594.67,172 601.08,167.52 595.06,166.91 588.67,171.33" fill="#ffa900"/>
<polygon points="462.48,207.25 468.6,203.28 463.06,201.95 456.97,205.86" fill="#00ff50"/>
<polygon points="485.9,201.85 492.06,197.79 486.44,196.59 480.3,200.59" fill="#00ff0a"/>
<polygon points="497.7,198.98 503.89,194.88 498.23,193.74 492.06,197.79" fill="#1cff00"/>
<polygon points="509.58,196 515.79,191.85 510.08,190.78 503.89,194.88" fill="#45ff00"/>
<polygon points="533.53,189.71 539.79,185.46 534,184.52 527.76,188.71" fill="#97ff00"/>
<polygon points="545.61,186.39 551.9,182.1 546.07,181.22 539.79,185.46" fill="#c1ff00"/>
<polygon points="557.77,182.96 564.09,178.62 558.2,177.81 551.9,182.1" fill="#ebff00"/>
<polygon points="582.29,175.77 588.67,171.33 582.7,170.65 576.34,175.03" fill="#ffcb00"/>
<polygon points="474.16,204.6 480.3,200.59 474.72,199.33 468.6,203.28" fill="#00ff2d"/>
<polygon points="569.99,179.42 576.34,175.03 570.41,174.29 564.09,178.62" fill="#ffed00"/>
<polygon points="456.38,211.21 462.48,207.25 456.97,205.86 450.88,209.78" fill="#00ff56"/>
<polygon points="491.52,203.09 497.7,198.98 492.06,197.79 485.9,201.85" fill="#14ff00"/>
<polygon points="503.37,200.16 509.58,196 503.89,194.88 497.7,198.98" fill="#3cff00"/>
<polygon points="515.29,197.11 521.52,192.91 515.79,191.85 509.58,196" fill="#65ff00"/>
<polygon points="527.27,193.95 533.53,189.71 527.76,188.71 521.52,192.91" fill="#8eff00"/>
<polygon points="539.33,190.68 545.61,186.39 539.79,185.46 533.53,189.71" fill="#b8ff00"/>
<polygon points="551.45,187.3 557.77,182.96 551.9,182.1 545.61,186.39" fill="#e2ff00"/>
<polygon points="588.27,176.48 594.67,172 588.67,171.33 582.29,175.77" fill="#ffb100"/>
<polygon points="468.03,208.61 474.16,204.6 468.6,203.28 462.48,207.25" fill="#00ff34"/>
<polygon points="479.74,205.91 485.9,201.85 480.3,200.59 474.16,204.6" fill="#00ff11"/>
<polygon points="563.65,183.81 569.99,179.42 564.09,178.62 557.77,182.96" fill="#fff500"/>
<polygon points="575.92,180.2 582.29,175.77 576.34,175.03 569.99,179.42" fill="#ffd300"/>
<polygon points="497.17,204.31 503.37,200.16 497.7,198.98 491.52,203.09" fill="#34ff00"/>
<polygon points="509.06,201.32 515.29,197.11 509.58,196 503.37,200.16" fill="#5cff00"/>
<polygon points="533.05,194.98 539.33,190.68 533.53,189.71 527.27,193.95" fill="#afff00"/>
<polygon points="545.15,191.65 551.45,187.3 545.61,186.39 539.33,190.68" fill="#d9ff00"/>
<polygon points="461.9,212.63 468.03,208.61 462.48,207.25 456.38,211.21" fill="#00ff3b"/>
<polygon points="473.59,209.97 479.74,205.91 474.16,204.6 468.03,208.61" fill="#00ff18"/>
<polygon points="485.35,207.2 491.52,203.09 485.9,201.85 479.74,205.91" fill="#0cff00"/>
<polygon points="521.02,198.21 527.27,193.95 521.52,192.91 515.29,197.11" fill="#85ff00"/>
<polygon points="557.32,188.2 563.65,183.81 557.77,182.96 551.45,187.3" fill="#fffc00"/>
<polygon points="569.56,184.64 575.92,180.2 569.99,179.42 563.65,183.81" fill="#ffda00"/>
<polygon points="581.88,180.97 588.27,176.48 582.29,175.77 575.92,180.2" fill="#ffb900"/>
<polygon points="502.84,205.52 509.06,201.32 503.37,200.16 497.17,204.31" fill="#54ff00"/>
<polygon points="538.85,196 545.15,191.65 539.33,190.68 533.05,194.98" fill="#cfff00"/>
<polygon points="467.45,214.04 473.59,209.97 468.03,208.61 461.9,212.63" fill="#00ff1f"/>
<polygon points="479.18,211.31 485.35,207.2 479.74,205.91 473.59,209.97" fill="#04ff00"/>
<polygon points="490.98,208.47 497.17,204.31 491.52,203.09 485.35,207.2" fill="#2cff00"/>
<polygon points="514.77,202.46 521.02,198.21 515.29,197.11 509.06,201.32" fill="#7dff00"/>
<polygon points="526.78,199.29 533.05,194.98 527.27,193.95 521.02,198.21" fill="#a6ff00"/>
<polygon points="550.99,192.6 557.32,188.2 551.45,187.3 545.15,191.65" fill="#f9ff00"/>
<polygon points="563.21,189.09 569.56,184.64 563.65,183.81 557.32,188.2" fill="#ffe200"/>
<polygon points="575.5,185.46 581.88,180.97 575.92,180.2 569.56,184.64" fill="#ffc000"/>
<polygon points="473.02,215.43 479.18,211.31 473.59,209.97 467.45,214.04" fill="#00ff04"/>
<polygon points="484.79,212.64 490.98,208.47 485.35,207.2 479.18,211.31" fill="#23ff00"/>
<polygon points="496.63,209.74 502.84,205.52 497.17,204.31 490.98,208.47" fill="#4bff00"/>
<polygon points="508.54,206.72 514.77,202.46 509.06,201.32 502.84,205.52" fill="#74ff00"/>
<polygon points="520.51,203.59 526.78,199.29 521.02,198.21 514.77,202.46" fill="#9dff00"/>
<polygon points="532.56,200.35 538.85,196 533.05,194.98 526.78,199.29" fill="#c6ff00"/>
<polygon points="544.67,197 550.99,192.6 545.15,191.65 538.85,196" fill="#f0ff00"/>
<polygon points="556.86,193.53 563.21,189.09 557.32,188.2 550.99,192.6" fill="#ffea00"/>
<polygon points="569.12,189.95 575.5,185.46 569.56,184.64 563.21,189.09" fill="#ffc800"/>
<polygon points="478.61,216.81 484.79,212.64 479.18,211.31 473.02,215.43" fill="#1bff00"/>
<polygon points="490.43,213.95 496.63,209.74 490.98,208.47 484.79,212.64" fill="#43ff00"/>
<polygon points="514.26,207.9 520.51,203.59 514.77,202.46 508.54,206.72" fill="#94ff00"/>
<polygon points="526.28,204.71 532.56,200.35 526.78,199.29 520.51,203.59" fill="#bdff00"/>
<polygon points="550.52,197.99 556.86,193.53 550.99,192.6 544.67,197" fill="#fff100"/>
<polygon points="562.76,194.45 569.12,189.95 563.21,189.09 556.86,193.53" fill="#ffd000"/>
<polygon points="502.31,210.98 508.54,206.72 502.84,205.52 496.63,209.74" fill="#6bff00"/>
<polygon points="538.36,201.4 544.67,197 538.85,196 532.56,200.35" fill="#e6ff00"/>
<polygon points="484.23,218.17 490.43,213.95 484.79,212.64 478.61,216.81" fill="#3aff00"/>
<polygon points="496.08,215.25 502.31,210.98 496.63,209.74 490.43,213.95" fill="#62ff00"/>
<polygon points="508.01,212.22 514.26,207.9 508.54,206.72 502.31,210.98" fill="#8aff00"/>
<polygon points="520,209.07 526.28,204.71 520.51,203.59 514.26,207.9" fill="#b3ff00"/>
<polygon points="532.06,205.81 538.36,201.4 532.56,200.35 526.28,204.71" fill="#ddff00"/>
<polygon points="544.19,202.44 550.52,197.99 544.67,197 538.36,201.4" fill="#fff900"/>
<polygon points="556.4,198.96 562.76,194.45 556.86,193.53 550.52,197.99" fill="#ffd800"/>
<polygon points="489.87,219.52 496.08,215.25 490.43,213.95 484.23,218.17" fill="#59ff00"/>
<polygon points="501.77,216.54 508.01,212.22 502.31,210.98 496.08,215.25" fill="#81ff00"/>
<polygon points="513.73,213.44 520,209.07 514.26,207.9 508.01,212.22" fill="#aaff00"/>
<polygon points="525.77,210.23 532.06,205.81 526.28,204.71 520,209.07" fill="#d3ff00"/>
<polygon points="537.87,206.9 544.19,202.44 538.36,201.4 532.06,205.81" fill="#fdff00"/>
<polygon points="550.05,203.46 556.4,198.96 550.52,197.99 544.19,202.44" fill="#ffe000"/>
<polygon points="495.53,220.86 501.77,216.54 496.08,215.25 489.87,219.52" fill="#78ff00"/>
<polygon points="507.47,217.81 513.73,213.44 508.01,212.22 501.77,216.54" fill="#a1ff00"/>
<polygon points="519.48,214.64 525.77,210.23 520,209.07 513.73,213.44" fill="#caff00"/>
<polygon points="531.56,211.37 537.87,206.9 532.06,205.81 525.77,210.23" fill="#f3ff00"/>
<polygon points="543.7,207.98 550.05,203.46 544.19,202.44 537.87,206.9" fill="#ffe700"/>
<polygon points="501.22,222.18 507.47,217.81 501.77,216.54 495.53,220.86" fill="#98ff00"/>
<polygon points="537.37,212.49 543.7,207.98 537.87,206.9 531.56,211.37" fill="#ffef00"/>
<polygon points="513.2,219.06 519.48,214.64 513.73,213.44 507.47,217.81" fill="#c0ff00"/>
<polygon points="525.25,215.84 531.56,211.37 525.77,210.23 519.48,214.64" fill="#e9ff00"/>
<polygon points="506.92,223.49 513.2,219.06 507.47,217.81 501.22,222.18" fill="#b7ff00"/>
<polygon points="518.95,220.31 525.25,215.84 519.48,214.64 513.2,219.06" fill="#e0ff00"/>
<polygon points="531.04,217.01 537.37,212.49 531.56,211.37 525.25,215.84" fill="#fff700"/>
<polygon points="512.66,224.78 518.95,220.31 513.2,219.06 506.92,223.49" fill="#d6ff00"/>
<polygon points="524.72,221.54 531.04,217.01 525.25,215.84 518.95,220.31" fill="#ffff00"/>
<polygon points="518.41,226.07 524.72,221.54 518.95,220.31 512.66,224.78" fill="#f5ff00"/>
</g>
<line x1="411.13" y1="233.09" x2="397.83" y2="96.2" stroke="#222" stroke-width="0.85"/>
<line x1="636.68" y1="238.37" x2="649.43" y2="100.94" stroke="#333" stroke-width="0.8"/>
<line x1="397.83" y1="96.2" x2="527.76" y2="40.29" stroke="#1a1a1a" stroke-width="0.9"/>
<line x1="527.76" y1="40.29" x2="649.43" y2="100.94" stroke="#1a1a1a" stroke-width="0.9"/>
<circle cx="408.05" cy="201.38" r="1.3" fill="#000"/>
<circle cx="406" cy="180.34" r="1.3" fill="#000"/>
<circle cx="403.96" cy="159.31" r="1.3" fill="#000"/>
<circle cx="401.92" cy="138.27" r="1.3" fill="#000"/>
<circle cx="399.87" cy="117.23" r="1.3" fill="#000"/>
<circle cx="397.83" cy="96.2" r="1.3" fill="#000"/>
<circle cx="411.13" cy="233.09" r="1.3" fill="#000"/>
<circle cx="438.06" cy="253.89" r="1.3" fill="#000"/>
<circle cx="464.99" cy="274.68" r="1.3" fill="#000"/>
<circle cx="491.92" cy="295.48" r="1.3" fill="#000"/>
<circle cx="518.86" cy="316.28" r="1.3" fill="#000"/>
<circle cx="548.31" cy="296.8" r="1.3" fill="#000"/>
<circle cx="577.77" cy="277.33" r="1.3" fill="#000"/>
<circle cx="607.22" cy="257.85" r="1.3" fill="#000"/>
<circle cx="636.68" cy="238.37" r="1.3" fill="#000"/>
<line x1="98.1" y1="547.87" x2="89.81" y2="447.57" stroke="#1a1a1a" stroke-width="0.7"/>
<line x1="271.48" y1="542" x2="279.65" y2="441.57" stroke="#1a1a1a" stroke-width="0.7"/>
<line x1="125.69" y1="529.98" x2="120.21" y2="430.65" stroke="#1a1a1a" stroke-width="0.7"/>
<line x1="241.28" y1="526.06" x2="246.77" y2="426.65" stroke="#1a1a1a" stroke-width="0.7"/>
<line x1="153.28" y1="512.09" x2="150.6" y2="413.74" stroke="#1a1a1a" stroke-width="0.7"/>
<line x1="211.07" y1="510.13" x2="213.88" y2="411.73" stroke="#1a1a1a" stroke-width="0.7"/>
<line x1="180.86" y1="494.2" x2="181" y2="396.82" stroke="#1a1a1a" stroke-width="0.8"/>
<line x1="70.51" y1="565.76" x2="180.86" y2="494.2" stroke="#1a1a1a" stroke-width="0.7"/>
<line x1="180.86" y1="494.2" x2="301.69" y2="557.93" stroke="#1a1a1a" stroke-width="0.7"/>
<line x1="68.29" y1="545.5" x2="180.89" y2="474.73" stroke="#1a1a1a" stroke-width="0.7"/>
<line x1="180.89" y1="474.73" x2="303.86" y2="537.64" stroke="#1a1a1a" stroke-width="0.7"/>
<line x1="66.07" y1="525.25" x2="180.92" y2="455.25" stroke="#1a1a1a" stroke-width="0.7"/>
<line x1="180.92" y1="455.25" x2="306.03" y2="517.35" stroke="#1a1a1a" stroke-width="0.7"/>
<line x1="63.86" y1="505" x2="180.94" y2="435.77" stroke="#1a1a1a" stroke-width="0.7"/>
<line x1="180.94" y1="435.77" x2="308.2" y2="497.06" stroke="#1a1a1a" stroke-width="0.7"/>
<line x1="61.64" y1="484.74" x2="180.97" y2="416.29" stroke="#1a1a1a" stroke-width="0.7"/>
<line x1="180.97" y1="416.29" x2="310.37" y2="476.78" stroke="#1a1a1a" stroke-width="0.7"/>
<line x1="59.42" y1="464.49" x2="181" y2="396.82" stroke="#1a1a1a" stroke-width="0.7"/>
<line x1="181" y1="396.82" x2="312.53" y2="456.49" stroke="#1a1a1a" stroke-width="0.7"/>
<polygon points="73.82,596.05 193.37,676.93 298.45,588.26 180.83,523.33" fill="#666666"/>
<path d="M167.34,532.49 L168.76,532.75 L170.19,533 L171.62,533.25 L173.06,533.5 L174.49,533.74 L175.93,533.99 L177.37,534.23 L178.81,534.46 L180.26,534.7 L181.7,534.93 L183.15,535.15 L184.52,535.36 L185.88,535.57 L187.23,535.77 L188.59,535.96 L189.94,536.16 L191.28,536.35 L192.65,536.54 L194.13,536.74 L195.61,536.94 L197.09,537.13 L198.57,537.32 L200.06,537.51 L201.54,537.69 L203.02,537.88 L204.44,538.05 L205.72,538.2 L207.01,538.34 L208.29,538.49 L208.29,538.49" fill="none" stroke="#0097ff" stroke-width="1.2"/>
<path d="M143.71,548.55 L145.07,548.88 L146.44,549.21 L147.8,549.54 L149.17,549.86 L150.54,550.18 L152.1,550.55 L153.67,550.91 L155.24,551.27 L156.73,551.6 L158.11,551.91 L159.49,552.22 L160.88,552.52 L162.26,552.82 L163.65,553.12 L165.05,553.41 L166.44,553.7 L167.84,553.99 L169.24,554.28 L170.64,554.56 L172.05,554.84 L173.47,555.12 L174.94,555.41 L176.41,555.69 L177.87,555.97 L179.32,556.24 L180.77,556.51 L182.21,556.77 L183.64,557.03 L185.07,557.28 L186.49,557.53 L187.9,557.77 L189.31,558.01 L190.71,558.24 L192.11,558.47 L193.5,558.7 L194.88,558.92 L196.32,559.14 L197.78,559.37 L199.23,559.59 L200.69,559.81 L202.15,560.02 L203.62,560.23 L205.09,560.44 L206.56,560.64 L208.03,560.84 L209.51,561.03 L210.99,561.23 L212.34,561.4 L213.65,561.56 L214.95,561.72 L216.24,561.87 L217.7,562.04 L219.19,562.21 L220.7,562.38 L222.2,562.54 L223.71,562.7 L225.16,562.85 L226.42,562.97 L227.67,563.1 L229.02,563.22 L230.55,563.36 L232.08,563.5 L233.61,563.63 L235.07,563.75 L236.29,563.85 L237.5,563.94 L239,564.05 L240.55,564.16 L242.11,564.27 L243.5,564.36 L244.69,564.44 L246.01,564.52 L247.58,564.61 L249.15,564.69 L250.56,564.76 L251.72,564.82 L253.1,564.88 L254.69,564.95 L256.28,565.01 L256.33,565.01" fill="none" stroke="#00ffd5" stroke-width="1.2"/>
<path d="M121.63,563.56 L123.07,564 L124.88,564.56 L126.18,564.96 L127.49,565.36 L128.8,565.75 L130.42,566.24 L132.07,566.73 L133.39,567.11 L134.7,567.5 L136.02,567.88 L137.59,568.33 L139.32,568.83 L140.65,569.2 L141.97,569.57 L143.3,569.94 L144.63,570.31 L146.31,570.77 L147.96,571.22 L149.3,571.58 L150.64,571.94 L151.98,572.29 L153.32,572.64 L154.77,573.02 L156.43,573.45 L158.04,573.86 L159.39,574.2 L160.75,574.54 L162.11,574.87 L163.47,575.21 L164.83,575.54 L166.21,575.87 L167.8,576.25 L169.39,576.62 L170.97,576.99 L172.36,577.3 L173.74,577.62 L175.12,577.93 L176.5,578.23 L177.89,578.54 L179.27,578.84 L180.66,579.14 L182.05,579.43 L183.45,579.72 L184.85,580.01 L186.31,580.31 L187.8,580.61 L189.29,580.9 L190.76,581.19 L192.23,581.48 L193.69,581.75 L195.14,582.03 L196.59,582.29 L198.03,582.55 L199.46,582.81 L200.88,583.06 L202.3,583.31 L203.71,583.55 L205.11,583.78 L206.51,584.01 L207.9,584.24 L209.29,584.46 L210.66,584.67 L212.03,584.89 L213.4,585.09 L214.86,585.31 L216.32,585.52 L217.78,585.73 L219.25,585.93 L220.73,586.13 L222.2,586.33 L223.68,586.52 L225.17,586.71 L226.65,586.9 L228,587.06 L229.29,587.21 L230.58,587.36 L231.89,587.51 L233.39,587.67 L234.9,587.83 L236.41,587.99 L237.93,588.14 L239.43,588.29 L240.68,588.4 L241.92,588.52 L243.26,588.64 L244.79,588.77 L246.33,588.89 L247.87,589.01 L249.24,589.11 L250.45,589.2 L251.75,589.29 L253.3,589.39 L254.86,589.49 L256.39,589.58 L257.57,589.65 L258.79,589.71 L260.36,589.79 L261.95,589.87 L263.38,589.93 L264.53,589.98 L265.92,590.03 L267.52,590.08 L269.08,590.13 L270.21,590.16 L271.54,590.19 L273.16,590.23 L274.68,590.25 L275.79,590.27 L277.22,590.28 L278.85,590.3 L280.18,590.3 L281.32,590.3 L282.96,590.3 L284.51,590.29 L285.59,590.28 L287.11,590.26 L288.78,590.23 L289.84,590.21 L291.29,590.18 L292.97,590.14 L294.05,590.11 L295.51,590.06 L296.36,590.03" fill="none" stroke="#00ff43" stroke-width="1.2"/>
<path d="M99.54,578.57 L100.78,579.04 L102.47,579.68 L103.88,580.22 L105.13,580.69 L106.88,581.35 L108.24,581.85 L109.49,582.32 L111.22,582.96 L112.62,583.47 L113.87,583.93 L115.49,584.51 L117.01,585.06 L118.27,585.51 L119.69,586.02 L121.42,586.63 L122.68,587.08 L123.95,587.52 L125.85,588.18 L127.12,588.62 L128.39,589.05 L129.9,589.57 L131.58,590.13 L132.86,590.56 L134.13,590.99 L135.84,591.56 L137.34,592.05 L138.62,592.47 L139.91,592.89 L141.64,593.45 L143.14,593.92 L144.43,594.33 L145.73,594.74 L147.32,595.24 L148.97,595.75 L150.27,596.15 L151.58,596.55 L152.88,596.95 L154.69,597.49 L156.16,597.93 L157.47,598.31 L158.79,598.7 L160.1,599.08 L161.87,599.59 L163.4,600.03 L164.73,600.4 L166.06,600.77 L167.38,601.14 L168.84,601.54 L170.56,602.01 L172.05,602.41 L173.39,602.77 L174.74,603.12 L176.08,603.47 L177.43,603.82 L178.96,604.22 L180.61,604.63 L182.16,605.02 L183.51,605.36 L184.87,605.69 L186.24,606.02 L187.6,606.34 L188.97,606.67 L190.34,606.99 L191.86,607.34 L193.42,607.7 L194.98,608.05 L196.53,608.39 L197.93,608.69 L199.32,608.99 L200.71,609.29 L202.1,609.58 L203.5,609.87 L204.9,610.16 L206.3,610.44 L207.71,610.72 L209.12,610.99 L210.53,611.27 L211.95,611.53 L213.36,611.8 L214.79,612.06 L216.21,612.31 L217.64,612.57 L219.07,612.82 L220.51,613.06 L221.95,613.3 L223.39,613.54 L224.83,613.77 L226.28,614 L227.74,614.22 L229.19,614.44 L230.65,614.66 L232.12,614.87 L233.58,615.08 L235.06,615.28 L236.49,615.47 L237.81,615.65 L239.13,615.81 L240.43,615.98 L241.73,616.14 L243.22,616.31 L244.72,616.48 L246.22,616.65 L247.73,616.81 L249.24,616.97 L250.66,617.11 L251.91,617.24 L253.15,617.35 L254.56,617.48 L256.09,617.62 L257.62,617.74 L259.16,617.87 L260.5,617.97 L261.71,618.06 L263.03,618.15 L263.03,618.15" fill="none" stroke="#5aff00" stroke-width="1.2"/>
<path d="M77.46,593.57 L79.23,594.39 L80.4,594.94 L82.17,595.75 L83.36,596.29 L85.13,597.1 L86.31,597.64 L88.09,598.44 L89.28,598.98 L91.06,599.78 L92.25,600.31 L93.82,601.01 L95.23,601.64 L96.51,602.2 L98.21,602.95 L99.41,603.47 L101.2,604.26 L102.4,604.78 L104.2,605.56 L105.41,606.07 L106.96,606.74 L108.42,607.36 L109.62,607.87 L111.44,608.63 L112.65,609.14 L114.46,609.9 L115.68,610.41 L116.96,610.94 L118.71,611.66 L119.93,612.16 L121.76,612.9 L122.98,613.4 L124.21,613.89 L126.04,614.63 L127.27,615.12 L128.87,615.75 L130.34,616.33 L131.57,616.81 L133.42,617.53 L134.66,618.01 L135.89,618.49 L137.75,619.2 L138.99,619.67 L140.24,620.14 L142.1,620.84 L143.35,621.31 L144.6,621.77 L146.47,622.46 L147.73,622.92 L148.98,623.37 L150.86,624.05 L152.12,624.5 L153.38,624.95 L155.13,625.57 L156.54,626.07 L157.81,626.51 L159.22,626.99 L160.99,627.6 L162.26,628.03 L163.54,628.46 L165.22,629.03 L166.73,629.53 L168.02,629.95 L169.3,630.37 L171.06,630.94 L172.52,631.41 L173.81,631.83 L175.11,632.24 L176.75,632.75 L178.35,633.25 L179.66,633.65 L180.96,634.05 L182.29,634.45 L184.11,634.99 L185.55,635.41 L186.86,635.8 L188.18,636.18 L189.5,636.56 L191.24,637.05 L192.81,637.5 L194.14,637.87 L195.47,638.23 L196.8,638.59 L198.14,638.95 L199.83,639.4 L201.49,639.84 L202.84,640.19 L204.19,640.53 L205.54,640.87 L206.9,641.21 L208.25,641.55 L209.72,641.9 L211.32,642.29 L212.92,642.67 L214.4,643.01 L215.78,643.33 L217.16,643.64 L218.54,643.95 L219.92,644.25 L221.31,644.55 L222.7,644.85 L224.09,645.14 L225.49,645.43 L226.89,645.71 L228.3,646 L229.71,646.27" fill="none" stroke="#fffe00" stroke-width="1.2"/>
<polyline points="180.83,523.33 73.82,596.05 193.37,676.93 298.45,588.26 180.83,523.33" fill="none" stroke="#111" stroke-width="0.9"/>
<g stroke="#000" stroke-opacity="0.78" stroke-width="0.5" stroke-linejoin="round">
<polygon points="181.39,501.01 186.91,497.39 180.86,494.2 175.35,497.78" fill="#004eff"/>
<polygon points="175.88,504.47 181.39,501.01 175.35,497.78 169.83,501.34" fill="#0071ff"/>
<polygon points="187.44,504.21 192.95,500.58 186.91,497.39 181.39,501.01" fill="#0061ff"/>
<polygon points="170.34,505.99 175.88,504.47 169.83,501.34 164.3,504.03" fill="#0094ff"/>
<polygon points="193.49,507.25 198.99,503.76 192.95,500.58 187.44,504.21" fill="#0074ff"/>
<polygon points="181.93,506.95 187.44,504.21 181.39,501.01 175.88,504.47" fill="#0084ff"/>
<polygon points="164.77,506.64 170.34,505.99 164.3,504.03 158.71,504.73" fill="#00b8ff"/>
<polygon points="176.4,507.83 181.93,506.95 175.88,504.47 170.34,505.99" fill="#00a6ff"/>
<polygon points="188,508.82 193.49,507.25 187.44,504.21 181.93,506.95" fill="#0096ff"/>
<polygon points="199.55,509.55 205.03,506.92 198.99,503.76 193.49,507.25" fill="#0087ff"/>
<polygon points="182.48,509.64 188,508.82 181.93,506.95 176.4,507.83" fill="#00b8ff"/>
<polygon points="159.16,507.25 164.77,506.64 158.71,504.73 153.09,505.26" fill="#00dbff"/>
<polygon points="170.84,508.54 176.4,507.83 170.34,505.99 164.77,506.64" fill="#00c9ff"/>
<polygon points="194.08,510.56 199.55,509.55 193.49,507.25 188,508.82" fill="#00a8ff"/>
<polygon points="205.64,511.28 211.08,509.78 205.03,506.92 199.55,509.55" fill="#009aff"/>
<polygon points="153.52,507.86 159.16,507.25 153.09,505.26 147.43,505.78" fill="#00feff"/>
<polygon points="176.93,510.44 182.48,509.64 176.4,507.83 170.84,508.54" fill="#00daff"/>
<polygon points="188.57,511.45 194.08,510.56 188,508.82 182.48,509.64" fill="#00c9ff"/>
<polygon points="211.74,512.91 217.17,511.78 211.08,509.78 205.64,511.28" fill="#00acff"/>
<polygon points="165.25,509.24 170.84,508.54 164.77,506.64 159.16,507.25" fill="#00ebff"/>
<polygon points="200.18,512.27 205.64,511.28 199.55,509.55 194.08,510.56" fill="#00baff"/>
<polygon points="147.84,508.45 153.52,507.86 147.43,505.78 141.74,506.29" fill="#00ffdd"/>
<polygon points="159.62,509.93 165.25,509.24 159.16,507.25 153.52,507.86" fill="#00fff0"/>
<polygon points="171.35,511.22 176.93,510.44 170.84,508.54 165.25,509.24" fill="#00fcff"/>
<polygon points="183.04,512.33 188.57,511.45 182.48,509.64 176.93,510.44" fill="#00ebff"/>
<polygon points="194.68,513.25 200.18,512.27 194.08,510.56 188.57,511.45" fill="#00dbff"/>
<polygon points="206.29,513.98 211.74,512.91 205.64,511.28 200.18,512.27" fill="#00ccff"/>
<polygon points="217.87,514.53 223.28,513.36 217.17,511.78 211.74,512.91" fill="#00bfff"/>
<polygon points="142.14,509.03 147.84,508.45 141.74,506.29 136.02,506.79" fill="#00ffba"/>
<polygon points="165.74,512 171.35,511.22 165.25,509.24 159.62,509.93" fill="#00ffe1"/>
<polygon points="200.81,515.04 206.29,513.98 200.18,512.27 194.68,513.25" fill="#00edff"/>
<polygon points="224.01,516.14 229.41,514.89 223.28,513.36 217.87,514.53" fill="#00d2ff"/>
<polygon points="153.96,510.61 159.62,509.93 153.52,507.86 147.84,508.45" fill="#00ffce"/>
<polygon points="177.47,513.2 183.04,512.33 176.93,510.44 171.35,511.22" fill="#00fff2"/>
<polygon points="189.16,514.21 194.68,513.25 188.57,511.45 183.04,512.33" fill="#00fcff"/>
<polygon points="212.42,515.69 217.87,514.53 211.74,512.91 206.29,513.98" fill="#00dfff"/>
<polygon points="136.39,509.6 142.14,509.03 136.02,506.79 130.25,507.27" fill="#00ff97"/>
<polygon points="148.27,511.27 153.96,510.61 147.84,508.45 142.14,509.03" fill="#00ffab"/>
<polygon points="160.09,512.76 165.74,512 159.62,509.93 153.96,510.61" fill="#00ffbf"/>
<polygon points="171.87,514.06 177.47,513.2 171.35,511.22 165.74,512" fill="#00ffd1"/>
<polygon points="195.3,516.09 200.81,515.04 194.68,513.25 189.16,514.21" fill="#00fff1"/>
<polygon points="206.95,516.83 212.42,515.69 206.29,513.98 200.81,515.04" fill="#00feff"/>
<polygon points="218.57,517.38 224.01,516.14 217.87,514.53 212.42,515.69" fill="#00f1ff"/>
<polygon points="230.16,517.75 235.56,516.41 229.41,514.89 224.01,516.14" fill="#00e5ff"/>
<polygon points="183.6,515.17 189.16,514.21 183.04,512.33 177.47,513.2" fill="#00ffe2"/>
<polygon points="154.41,513.51 160.09,512.76 153.96,510.61 148.27,511.27" fill="#00ff9d"/>
<polygon points="213.11,518.61 218.57,517.38 212.42,515.69 206.95,516.83" fill="#00ffee"/>
<polygon points="130.61,510.16 136.39,509.6 130.25,507.27 124.46,507.74" fill="#00ff74"/>
<polygon points="142.54,511.93 148.27,511.27 142.14,509.03 136.39,509.6" fill="#00ff89"/>
<polygon points="166.24,514.9 171.87,514.06 165.74,512 160.09,512.76" fill="#00ffb0"/>
<polygon points="178.02,516.11 183.6,515.17 177.47,513.2 171.87,514.06" fill="#00ffc1"/>
<polygon points="189.75,517.13 195.3,516.09 189.16,514.21 183.6,515.17" fill="#00ffd1"/>
<polygon points="201.45,517.97 206.95,516.83 200.81,515.04 195.3,516.09" fill="#00ffe0"/>
<polygon points="224.74,519.07 230.16,517.75 224.01,516.14 218.57,517.38" fill="#00fffb"/>
<polygon points="236.34,519.35 241.73,517.93 235.56,516.41 230.16,517.75" fill="#00f8ff"/>
<polygon points="148.7,514.25 154.41,513.51 148.27,511.27 142.54,511.93" fill="#00ff7b"/>
<polygon points="160.57,515.74 166.24,514.9 160.09,512.76 154.41,513.51" fill="#00ff8e"/>
<polygon points="184.18,518.16 189.75,517.13 183.6,515.17 178.02,516.11" fill="#00ffb1"/>
<polygon points="207.61,519.83 213.11,518.61 206.95,516.83 201.45,517.97" fill="#00ffcf"/>
<polygon points="219.28,520.39 224.74,519.07 218.57,517.38 213.11,518.61" fill="#00ffdd"/>
<polygon points="124.8,510.7 130.61,510.16 124.46,507.74 118.63,508.2" fill="#00ff50"/>
<polygon points="242.53,520.94 247.91,519.43 241.73,517.93 236.34,519.35" fill="#00fff3"/>
<polygon points="136.78,512.57 142.54,511.93 136.39,509.6 130.61,510.16" fill="#00ff66"/>
<polygon points="172.4,517.04 178.02,516.11 171.87,514.06 166.24,514.9" fill="#00ffa0"/>
<polygon points="195.91,519.09 201.45,517.97 195.3,516.09 189.75,517.13" fill="#00ffc1"/>
<polygon points="230.92,520.76 236.34,519.35 230.16,517.75 224.74,519.07" fill="#00ffe9"/>
<polygon points="118.96,511.24 124.8,510.7 118.63,508.2 112.77,508.65" fill="#00ff2d"/>
<polygon points="142.96,514.98 148.7,514.25 142.54,511.93 136.78,512.57" fill="#00ff59"/>
<polygon points="154.88,516.56 160.57,515.74 154.41,513.51 148.7,514.25" fill="#00ff6d"/>
<polygon points="166.75,517.97 172.4,517.04 166.24,514.9 160.57,515.74" fill="#00ff80"/>
<polygon points="178.57,519.18 184.18,518.16 178.02,516.11 172.4,517.04" fill="#00ff91"/>
<polygon points="190.35,520.2 195.91,519.09 189.75,517.13 184.18,518.16" fill="#00ffa2"/>
<polygon points="202.09,521.04 207.61,519.83 201.45,517.97 195.91,519.09" fill="#00ffb1"/>
<polygon points="213.8,521.7 219.28,520.39 213.11,518.61 207.61,519.83" fill="#00ffbe"/>
<polygon points="225.47,522.16 230.92,520.76 224.74,519.07 219.28,520.39" fill="#00ffcb"/>
<polygon points="248.74,522.52 254.12,520.93 247.91,519.43 242.53,520.94" fill="#00ffe1"/>
<polygon points="130.98,513.2 136.78,512.57 130.61,510.16 124.8,510.7" fill="#00ff44"/>
<polygon points="237.12,522.44 242.53,520.94 236.34,519.35 230.92,520.76" fill="#00ffd6"/>
<polygon points="172.93,520.19 178.57,519.18 172.4,517.04 166.75,517.97" fill="#00ff71"/>
<polygon points="196.54,522.24 202.09,521.04 195.91,519.09 190.35,520.2" fill="#00ff92"/>
<polygon points="113.08,511.76 118.96,511.24 112.77,508.65 106.87,509.09" fill="#00ff0a"/>
<polygon points="137.18,515.69 142.96,514.98 136.78,512.57 130.98,513.2" fill="#00ff37"/>
<polygon points="231.68,523.92 237.12,522.44 230.92,520.76 225.47,522.16" fill="#00ffb9"/>
<polygon points="254.96,524.1 260.34,522.43 254.12,520.93 248.74,522.52" fill="#00ffce"/>
<polygon points="125.16,513.82 130.98,513.2 124.8,510.7 118.96,511.24" fill="#00ff21"/>
<polygon points="149.15,517.38 154.88,516.56 148.7,514.25 142.96,514.98" fill="#00ff4c"/>
<polygon points="161.06,518.88 166.75,517.97 160.57,515.74 154.88,516.56" fill="#00ff5f"/>
<polygon points="184.76,521.31 190.35,520.2 184.18,518.16 178.57,519.18" fill="#00ff82"/>
<polygon points="208.28,522.99 213.8,521.7 207.61,519.83 202.09,521.04" fill="#00ffa0"/>
<polygon points="220,523.55 225.47,522.16 219.28,520.39 213.8,521.7" fill="#00ffad"/>
<polygon points="243.33,524.11 248.74,522.52 242.53,520.94 237.12,522.44" fill="#00ffc4"/>
<polygon points="107.16,512.27 113.08,511.76 106.87,509.09 100.93,509.51" fill="#1cff00"/>
<polygon points="131.37,516.4 137.18,515.69 130.98,513.2 125.16,513.82" fill="#00ff15"/>
<polygon points="167.26,521.18 172.93,520.19 166.75,517.97 161.06,518.88" fill="#00ff51"/>
<polygon points="179.13,522.4 184.76,521.31 178.57,519.18 172.93,520.19" fill="#00ff63"/>
<polygon points="190.96,523.43 196.54,522.24 190.35,520.2 184.76,521.31" fill="#00ff73"/>
<polygon points="202.74,524.28 208.28,522.99 202.09,521.04 196.54,522.24" fill="#00ff82"/>
<polygon points="237.9,525.68 243.33,524.11 237.12,522.44 231.68,523.92" fill="#00ffa8"/>
<polygon points="261.21,525.68 266.58,523.91 260.34,522.43 254.96,524.1" fill="#00ffbb"/>
<polygon points="119.3,514.43 125.16,513.82 118.96,511.24 113.08,511.76" fill="#01ff00"/>
<polygon points="143.39,518.18 149.15,517.38 142.96,514.98 137.18,515.69" fill="#00ff2a"/>
<polygon points="226.21,525.4 231.68,523.92 225.47,522.16 220,523.55" fill="#00ff9d"/>
<polygon points="249.56,525.77 254.96,524.1 248.74,522.52 243.33,524.11" fill="#00ffb2"/>
<polygon points="155.35,519.78 161.06,518.88 154.88,516.56 149.15,517.38" fill="#00ff3e"/>
<polygon points="214.49,524.93 220,523.55 213.8,521.7 208.28,522.99" fill="#00ff90"/>
<polygon points="185.34,524.61 190.96,523.43 184.76,521.31 179.13,522.4" fill="#00ff54"/>
<polygon points="125.53,517.09 131.37,516.4 125.16,513.82 119.3,514.43" fill="#0eff00"/>
<polygon points="244.14,527.43 249.56,525.77 243.33,524.11 237.9,525.68" fill="#00ff96"/>
<polygon points="101.21,512.77 107.16,512.27 100.93,509.51 94.96,509.93" fill="#44ff00"/>
<polygon points="113.4,515.02 119.3,514.43 113.08,511.76 107.16,512.27" fill="#29ff00"/>
<polygon points="137.59,518.97 143.39,518.18 137.18,515.69 131.37,516.4" fill="#00ff09"/>
<polygon points="161.56,522.17 167.26,521.18 161.06,518.88 155.35,519.78" fill="#00ff31"/>
<polygon points="173.48,523.48 179.13,522.4 172.93,520.19 167.26,521.18" fill="#00ff43"/>
<polygon points="197.17,525.55 202.74,524.28 196.54,522.24 190.96,523.43" fill="#00ff64"/>
<polygon points="208.96,526.3 214.49,524.93 208.28,522.99 202.74,524.28" fill="#00ff72"/>
<polygon points="232.44,527.24 237.9,525.68 231.68,523.92 226.21,525.4" fill="#00ff8c"/>
<polygon points="255.81,527.43 261.21,525.68 254.96,524.1 249.56,525.77" fill="#00ffa0"/>
<polygon points="267.47,527.24 272.83,525.39 266.58,523.91 261.21,525.68" fill="#00ffa8"/>
<polygon points="149.6,520.66 155.35,519.78 149.15,517.38 143.39,518.18" fill="#00ff1e"/>
<polygon points="220.71,526.87 226.21,525.4 220,523.55 214.49,524.93" fill="#00ff80"/>
<polygon points="119.65,517.77 125.53,517.09 119.3,514.43 113.4,515.02" fill="#35ff00"/>
<polygon points="179.7,525.78 185.34,524.61 179.13,522.4 173.48,523.48" fill="#00ff35"/>
<polygon points="191.57,526.82 197.17,525.55 190.96,523.43 185.34,524.61" fill="#00ff46"/>
<polygon points="250.39,529.18 255.81,527.43 249.56,525.77 244.14,527.43" fill="#00ff85"/>
<polygon points="95.23,513.26 101.21,512.77 94.96,509.93 88.96,510.33" fill="#6cff00"/>
<polygon points="131.77,519.75 137.59,518.97 131.37,516.4 125.53,517.09" fill="#1bff00"/>
<polygon points="155.83,523.14 161.56,522.17 155.35,519.78 149.6,520.66" fill="#00ff11"/>
<polygon points="215.19,528.33 220.71,526.87 214.49,524.93 208.96,526.3" fill="#00ff63"/>
<polygon points="238.68,529.08 244.14,527.43 237.9,525.68 232.44,527.24" fill="#00ff7b"/>
<polygon points="273.75,528.8 279.11,526.87 272.83,525.39 267.47,527.24" fill="#00ff95"/>
<polygon points="107.47,515.61 113.4,515.02 107.16,512.27 101.21,512.77" fill="#50ff00"/>
<polygon points="143.83,521.54 149.6,520.66 143.39,518.18 137.59,518.97" fill="#03ff00"/>
<polygon points="167.79,524.56 173.48,523.48 167.26,521.18 161.56,522.17" fill="#00ff24"/>
<polygon points="203.4,527.67 208.96,526.3 202.74,524.28 197.17,525.55" fill="#00ff55"/>
<polygon points="226.95,528.8 232.44,527.24 226.21,525.4 220.71,526.87" fill="#00ff6f"/>
<polygon points="262.08,529.08 267.47,527.24 261.21,525.68 255.81,527.43" fill="#00ff8e"/>
<polygon points="89.21,513.73 95.23,513.26 88.96,510.33 82.92,510.71" fill="#94ff00"/>
<polygon points="113.74,518.45 119.65,517.77 113.4,515.02 107.47,515.61" fill="#5cff00"/>
<polygon points="125.91,520.52 131.77,519.75 125.53,517.09 119.65,517.77" fill="#41ff00"/>
<polygon points="150.07,524.11 155.83,523.14 149.6,520.66 143.83,521.54" fill="#11ff00"/>
<polygon points="174.03,526.94 179.7,525.78 173.48,523.48 167.79,524.56" fill="#00ff17"/>
<polygon points="185.94,528.07 191.57,526.82 185.34,524.61 179.7,525.78" fill="#00ff28"/>
<polygon points="197.81,529.02 203.4,527.67 197.17,525.55 191.57,526.82" fill="#00ff37"/>
<polygon points="221.44,530.34 226.95,528.8 220.71,526.87 215.19,528.33" fill="#00ff53"/>
<polygon points="244.95,530.91 250.39,529.18 244.14,527.43 238.68,529.08" fill="#00ff6a"/>
<polygon points="256.66,530.92 262.08,529.08 255.81,527.43 250.39,529.18" fill="#00ff73"/>
<polygon points="280.04,530.36 285.4,528.33 279.11,526.87 273.75,528.8" fill="#00ff82"/>
<polygon points="101.51,516.18 107.47,515.61 101.21,512.77 95.23,513.26" fill="#77ff00"/>
<polygon points="138.02,522.41 143.83,521.54 137.59,518.97 131.77,519.75" fill="#28ff00"/>
<polygon points="162.07,525.62 167.79,524.56 161.56,522.17 155.83,523.14" fill="#00ff04"/>
<polygon points="209.64,529.77 215.19,528.33 208.96,526.3 203.4,527.67" fill="#00ff46"/>
<polygon points="233.2,530.72 238.68,529.08 232.44,527.24 226.95,528.8" fill="#00ff5f"/>
<polygon points="268.36,530.73 273.75,528.8 267.47,527.24 262.08,529.08" fill="#00ff7b"/>
<polygon points="107.8,519.11 113.74,518.45 107.47,515.61 101.51,516.18" fill="#82ff00"/>
<polygon points="144.28,525.06 150.07,524.11 143.83,521.54 138.02,522.41" fill="#35ff00"/>
<polygon points="168.33,528.09 174.03,526.94 167.79,524.56 162.07,525.62" fill="#09ff00"/>
<polygon points="204.06,531.21 209.64,529.77 203.4,527.67 197.81,529.02" fill="#00ff29"/>
<polygon points="227.7,532.35 233.2,530.72 226.95,528.8 221.44,530.34" fill="#00ff43"/>
<polygon points="262.95,532.65 268.36,530.73 262.08,529.08 256.66,530.92" fill="#00ff61"/>
<polygon points="83.16,514.19 89.21,513.73 82.92,510.71 76.85,511.09" fill="#bcff00"/>
<polygon points="95.52,516.74 101.51,516.18 95.23,513.26 89.21,513.73" fill="#9eff00"/>
<polygon points="120.02,521.28 125.91,520.52 119.65,517.77 113.74,518.45" fill="#67ff00"/>
<polygon points="132.18,523.26 138.02,522.41 131.77,519.75 125.91,520.52" fill="#4eff00"/>
<polygon points="156.33,526.67 162.07,525.62 155.83,523.14 150.07,524.11" fill="#1fff00"/>
<polygon points="180.28,529.32 185.94,528.07 179.7,525.78 174.03,526.94" fill="#00ff09"/>
<polygon points="192.19,530.36 197.81,529.02 191.57,526.82 185.94,528.07" fill="#00ff1a"/>
<polygon points="215.89,531.88 221.44,530.34 215.19,528.33 209.64,529.77" fill="#00ff37"/>
<polygon points="239.47,532.64 244.95,530.91 238.68,529.08 233.2,530.72" fill="#00ff4e"/>
<polygon points="251.22,532.74 256.66,530.92 250.39,529.18 244.95,530.91" fill="#00ff59"/>
<polygon points="274.66,532.37 280.04,530.36 273.75,528.8 268.36,530.73" fill="#00ff69"/>
<polygon points="286.36,531.9 291.71,529.79 285.4,528.33 280.04,530.36" fill="#00ff6f"/>
<polygon points="101.82,519.75 107.8,519.11 101.51,516.18 95.52,516.74" fill="#a9ff00"/>
<polygon points="138.45,526 144.28,525.06 138.02,522.41 132.18,523.26" fill="#5aff00"/>
<polygon points="162.59,529.23 168.33,528.09 162.07,525.62 156.33,526.67" fill="#2cff00"/>
<polygon points="210.32,533.4 215.89,531.88 209.64,529.77 204.06,531.21" fill="#00ff1a"/>
<polygon points="233.97,534.36 239.47,532.64 233.2,530.72 227.7,532.35" fill="#00ff33"/>
<polygon points="269.25,534.38 274.66,532.37 268.36,530.73 262.95,532.65" fill="#00ff50"/>
<polygon points="77.08,514.65 83.16,514.19 76.85,511.09 70.74,511.46" fill="#e4ff00"/>
<polygon points="114.09,522.03 120.02,521.28 113.74,518.45 107.8,519.11" fill="#8dff00"/>
<polygon points="150.55,527.71 156.33,526.67 150.07,524.11 144.28,525.06" fill="#42ff00"/>
<polygon points="174.59,530.55 180.28,529.32 174.03,526.94 168.33,528.09" fill="#18ff00"/>
<polygon points="198.45,532.64 204.06,531.21 197.81,529.02 192.19,530.36" fill="#00ff0c"/>
<polygon points="222.16,533.98 227.7,532.35 221.44,530.34 215.89,531.88" fill="#00ff27"/>
<polygon points="257.51,534.56 262.95,532.65 256.66,530.92 251.22,532.74" fill="#00ff48"/>
<polygon points="292.69,533.44 298.04,531.25 291.71,529.79 286.36,531.9" fill="#00ff5d"/>
<polygon points="89.49,517.29 95.52,516.74 89.21,513.73 83.16,514.19" fill="#c6ff00"/>
<polygon points="126.3,524.11 132.18,523.26 125.91,520.52 120.02,521.28" fill="#73ff00"/>
<polygon points="186.54,531.69 192.19,530.36 185.94,528.07 180.28,529.32" fill="#04ff00"/>
<polygon points="245.75,534.56 251.22,532.74 244.95,530.91 239.47,532.64" fill="#00ff3e"/>
<polygon points="280.98,534.01 286.36,531.9 280.04,530.36 274.66,532.37" fill="#00ff57"/>
<polygon points="156.83,530.35 162.59,529.23 156.33,526.67 150.55,527.71" fill="#4fff00"/>
<polygon points="216.6,535.59 222.16,533.98 215.89,531.88 210.32,533.4" fill="#00ff0c"/>
<polygon points="70.96,515.08 77.08,514.65 70.74,511.46 64.6,511.81" fill="#fff500"/>
<polygon points="95.82,520.39 101.82,519.75 95.52,516.74 89.49,517.29" fill="#cfff00"/>
<polygon points="108.14,522.76 114.09,522.03 107.8,519.11 101.82,519.75" fill="#b3ff00"/>
<polygon points="132.6,526.93 138.45,526 132.18,523.26 126.3,524.11" fill="#7eff00"/>
<polygon points="144.74,528.74 150.55,527.71 144.28,525.06 138.45,526" fill="#66ff00"/>
<polygon points="168.87,531.78 174.59,530.55 168.33,528.09 162.59,529.23" fill="#3aff00"/>
<polygon points="204.73,534.92 210.32,533.4 204.06,531.21 198.45,532.64" fill="#02ff00"/>
<polygon points="228.45,536.07 233.97,534.36 227.7,532.35 222.16,533.98" fill="#00ff18"/>
<polygon points="240.26,536.36 245.75,534.56 239.47,532.64 233.97,534.36" fill="#00ff24"/>
<polygon points="263.82,536.38 269.25,534.38 262.95,532.65 257.51,534.56" fill="#00ff37"/>
<polygon points="275.57,536.1 280.98,534.01 274.66,532.37 269.25,534.38" fill="#00ff3e"/>
<polygon points="299.03,534.98 304.39,532.69 298.04,531.25 292.69,533.44" fill="#00ff4a"/>
<polygon points="83.42,517.83 89.49,517.29 83.16,514.19 77.08,514.65" fill="#edff00"/>
<polygon points="120.4,524.94 126.3,524.11 120.02,521.28 114.09,522.03" fill="#98ff00"/>
<polygon points="180.86,533.01 186.54,531.69 180.28,529.32 174.59,530.55" fill="#26ff00"/>
<polygon points="192.82,534.06 198.45,532.64 192.19,530.36 186.54,531.69" fill="#14ff00"/>
<polygon points="252.05,536.46 257.51,534.56 251.22,532.74 245.75,534.56" fill="#00ff2e"/>
<polygon points="287.31,535.63 292.69,533.44 286.36,531.9 280.98,534.01" fill="#00ff45"/>
<polygon points="151.04,531.47 156.83,530.35 150.55,527.71 144.74,528.74" fill="#72ff00"/>
<polygon points="222.89,537.77 228.45,536.07 222.16,533.98 216.6,535.59" fill="#03ff00"/>
<polygon points="89.78,521.02 95.82,520.39 89.49,517.29 83.42,517.83" fill="#f6ff00"/>
<polygon points="126.71,527.86 132.6,526.93 126.3,524.11 120.4,524.94" fill="#a3ff00"/>
<polygon points="163.12,532.99 168.87,531.78 162.59,529.23 156.83,530.35" fill="#5cff00"/>
<polygon points="211.02,537.19 216.6,535.59 210.32,533.4 204.73,534.92" fill="#12ff00"/>
<polygon points="246.57,538.36 252.05,536.46 245.75,534.56 240.26,536.36" fill="#00ff14"/>
<polygon points="281.91,537.81 287.31,535.63 280.98,534.01 275.57,536.1" fill="#00ff2d"/>
<polygon points="77.33,518.36 83.42,517.83 77.08,514.65 70.96,515.08" fill="#ffee00"/>
<polygon points="102.15,523.49 108.14,522.76 101.82,519.75 95.82,520.39" fill="#d9ff00"/>
<polygon points="114.46,525.77 120.4,524.94 114.09,522.03 108.14,522.76" fill="#bdff00"/>
<polygon points="138.9,529.76 144.74,528.74 138.45,526 132.6,526.93" fill="#8aff00"/>
<polygon points="175.16,534.33 180.86,533.01 174.59,530.55 168.87,531.78" fill="#48ff00"/>
<polygon points="187.15,535.47 192.82,534.06 186.54,531.69 180.86,533.01" fill="#34ff00"/>
<polygon points="199.1,536.43 204.73,534.92 198.45,532.64 192.82,534.06" fill="#23ff00"/>
<polygon points="234.74,538.16 240.26,536.36 233.97,534.36 228.45,536.07" fill="#00ff09"/>
<polygon points="258.36,538.36 263.82,536.38 257.51,534.56 252.05,536.46" fill="#00ff1d"/>
<polygon points="270.14,538.18 275.57,536.1 269.25,534.38 263.82,536.38" fill="#00ff26"/>
<polygon points="293.66,537.25 299.03,534.98 292.69,533.44 287.31,535.63" fill="#00ff32"/>
<polygon points="83.7,521.63 89.78,521.02 83.42,517.83 77.33,518.36" fill="#ffe800"/>
<polygon points="120.8,528.77 126.71,527.86 120.4,524.94 114.46,525.77" fill="#c7ff00"/>
<polygon points="145.22,532.58 151.04,531.47 144.74,528.74 138.9,529.76" fill="#95ff00"/>
<polygon points="157.35,534.2 163.12,532.99 156.83,530.35 151.04,531.47" fill="#7fff00"/>
<polygon points="217.32,539.46 222.89,537.77 216.6,535.59 211.02,537.19" fill="#22ff00"/>
<polygon points="229.2,539.95 234.74,538.16 228.45,536.07 222.89,537.77" fill="#14ff00"/>
<polygon points="252.88,540.35 258.36,538.36 252.05,536.46 246.57,538.36" fill="#00ff04"/>
<polygon points="288.26,539.52 293.66,537.25 287.31,535.63 281.91,537.81" fill="#00ff1b"/>
<polygon points="96.13,524.2 102.15,523.49 95.82,520.39 89.78,521.02" fill="#feff00"/>
<polygon points="133.04,530.77 138.9,529.76 132.6,526.93 126.71,527.86" fill="#adff00"/>
<polygon points="169.43,535.63 175.16,534.33 168.87,531.78 163.12,532.99" fill="#69ff00"/>
<polygon points="181.46,536.87 187.15,535.47 180.86,533.01 175.16,534.33" fill="#55ff00"/>
<polygon points="193.45,537.92 199.1,536.43 192.82,534.06 187.15,535.47" fill="#43ff00"/>
<polygon points="205.4,538.79 211.02,537.19 204.73,534.92 199.1,536.43" fill="#32ff00"/>
<polygon points="241.05,540.24 246.57,538.36 240.26,536.36 234.74,538.16" fill="#07ff00"/>
<polygon points="276.48,539.99 281.91,537.81 275.57,536.1 270.14,538.18" fill="#00ff15"/>
<polygon points="108.5,526.58 114.46,525.77 108.14,522.76 102.15,523.49" fill="#e2ff00"/>
<polygon points="264.69,540.26 270.14,538.18 263.82,536.38 258.36,538.36" fill="#00ff0d"/>
<polygon points="139.37,533.67 145.22,532.58 138.9,529.76 133.04,530.77" fill="#b8ff00"/>
<polygon points="235.52,542.12 241.05,540.24 234.74,538.16 229.2,539.95" fill="#24ff00"/>
<polygon points="90.08,524.9 96.13,524.2 89.78,521.02 83.7,521.63" fill="#ffe200"/>
<polygon points="114.85,529.67 120.8,528.77 114.46,525.77 108.5,526.58" fill="#ebff00"/>
<polygon points="127.14,531.76 133.04,530.77 126.71,527.86 120.8,528.77" fill="#d1ff00"/>
<polygon points="151.54,535.39 157.35,534.2 151.04,531.47 145.22,532.58" fill="#a1ff00"/>
<polygon points="163.67,536.92 169.43,535.63 163.12,532.99 157.35,534.2" fill="#8bff00"/>
<polygon points="175.74,538.26 181.46,536.87 175.16,534.33 169.43,535.63" fill="#76ff00"/>
<polygon points="187.77,539.41 193.45,537.92 187.15,535.47 181.46,536.87" fill="#63ff00"/>
<polygon points="199.76,540.37 205.4,538.79 199.1,536.43 193.45,537.92" fill="#51ff00"/>
<polygon points="211.71,541.14 217.32,539.46 211.02,537.19 205.4,538.79" fill="#41ff00"/>
<polygon points="223.63,541.72 229.2,539.95 222.89,537.77 217.32,539.46" fill="#32ff00"/>
<polygon points="247.38,542.32 252.88,540.35 246.57,538.36 241.05,540.24" fill="#18ff00"/>
<polygon points="259.22,542.33 264.69,540.26 258.36,538.36 252.88,540.35" fill="#0dff00"/>
<polygon points="282.84,541.78 288.26,539.52 281.91,537.81 276.48,539.99" fill="#00ff04"/>
<polygon points="102.5,527.38 108.5,526.58 102.15,523.49 96.13,524.2" fill="#fff900"/>
<polygon points="271.03,542.15 276.48,539.99 270.14,538.18 264.69,540.26" fill="#04ff00"/>
<polygon points="133.49,534.76 139.37,533.67 133.04,530.77 127.14,531.76" fill="#dbff00"/>
<polygon points="241.85,544.28 247.38,542.32 241.05,540.24 235.52,542.12" fill="#35ff00"/>
<polygon points="108.87,530.56 114.85,529.67 108.5,526.58 102.5,527.38" fill="#fff200"/>
<polygon points="145.71,536.58 151.54,535.39 145.22,532.58 139.37,533.67" fill="#c3ff00"/>
<polygon points="169.99,539.64 175.74,538.26 169.43,535.63 163.67,536.92" fill="#97ff00"/>
<polygon points="182.06,540.89 187.77,539.41 181.46,536.87 175.74,538.26" fill="#83ff00"/>
<polygon points="194.09,541.95 199.76,540.37 193.45,537.92 187.77,539.41" fill="#71ff00"/>
<polygon points="206.08,542.82 211.71,541.14 205.4,538.79 199.76,540.37" fill="#60ff00"/>
<polygon points="229.96,543.98 235.52,542.12 229.2,539.95 223.63,541.72" fill="#42ff00"/>
<polygon points="265.56,544.31 271.03,542.15 264.69,540.26 259.22,542.33" fill="#1fff00"/>
<polygon points="96.47,528.17 102.5,527.38 96.13,524.2 90.08,524.9" fill="#ffdb00"/>
<polygon points="121.21,532.75 127.14,531.76 120.8,528.77 114.85,529.67" fill="#f5ff00"/>
<polygon points="157.87,538.2 163.67,536.92 157.35,534.2 151.54,535.39" fill="#acff00"/>
<polygon points="218.03,543.5 223.63,541.72 217.32,539.46 211.71,541.14" fill="#50ff00"/>
<polygon points="253.72,544.39 259.22,542.33 252.88,540.35 247.38,542.32" fill="#29ff00"/>
<polygon points="277.39,544.04 282.84,541.78 276.48,539.99 271.03,542.15" fill="#16ff00"/>
<polygon points="102.86,531.43 108.87,530.56 102.5,527.38 96.47,528.17" fill="#ffd500"/>
<polygon points="127.58,535.84 133.49,534.76 127.14,531.76 121.21,532.75" fill="#feff00"/>
<polygon points="139.84,537.75 145.71,536.58 139.37,533.67 133.49,534.76" fill="#e5ff00"/>
<polygon points="176.33,542.36 182.06,540.89 175.74,538.26 169.99,539.64" fill="#a3ff00"/>
<polygon points="188.4,543.52 194.09,541.95 187.77,539.41 182.06,540.89" fill="#90ff00"/>
<polygon points="200.42,544.48 206.08,542.82 199.76,540.37 194.09,541.95" fill="#7eff00"/>
<polygon points="236.3,546.24 241.85,544.28 235.52,542.12 229.96,543.98" fill="#51ff00"/>
<polygon points="248.19,546.44 253.72,544.39 247.38,542.32 241.85,544.28" fill="#45ff00"/>
<polygon points="271.92,546.28 277.39,544.04 271.03,542.15 265.56,544.31" fill="#31ff00"/>
<polygon points="115.25,533.73 121.21,532.75 114.85,529.67 108.87,530.56" fill="#ffeb00"/>
<polygon points="152.06,539.48 157.87,538.2 151.54,535.39 145.71,536.58" fill="#ceff00"/>
<polygon points="164.22,541.01 169.99,539.64 163.67,536.92 157.87,538.2" fill="#b8ff00"/>
<polygon points="212.41,545.26 218.03,543.5 211.71,541.14 206.08,542.82" fill="#6eff00"/>
<polygon points="224.37,545.84 229.96,543.98 223.63,541.72 218.03,543.5" fill="#5fff00"/>
<polygon points="260.07,546.46 265.56,544.31 259.22,542.33 253.72,544.39" fill="#3aff00"/>
<polygon points="121.64,536.9 127.58,535.84 121.21,532.75 115.25,533.73" fill="#ffe400"/>
<polygon points="182.68,545.07 188.4,543.52 182.06,540.89 176.33,542.36" fill="#b0ff00"/>
<polygon points="194.74,546.14 200.42,544.48 194.09,541.95 188.4,543.52" fill="#9dff00"/>
<polygon points="254.55,548.6 260.07,546.46 253.72,544.39 248.19,546.44" fill="#56ff00"/>
<polygon points="109.26,534.7 115.25,533.73 108.87,530.56 102.86,531.43" fill="#ffcf00"/>
<polygon points="133.95,538.92 139.84,537.75 133.49,534.76 127.58,535.84" fill="#fff800"/>
<polygon points="146.21,540.74 152.06,539.48 145.71,536.58 139.84,537.75" fill="#f0ff00"/>
<polygon points="158.41,542.37 164.22,541.01 157.87,538.2 152.06,539.48" fill="#d9ff00"/>
<polygon points="170.57,543.82 176.33,542.36 169.99,539.64 164.22,541.01" fill="#c4ff00"/>
<polygon points="206.77,547.01 212.41,545.26 206.08,542.82 200.42,544.48" fill="#8cff00"/>
<polygon points="218.76,547.69 224.37,545.84 218.03,543.5 212.41,545.26" fill="#7cff00"/>
<polygon points="230.72,548.18 236.3,546.24 229.96,543.98 224.37,545.84" fill="#6eff00"/>
<polygon points="242.65,548.49 248.19,546.44 241.85,544.28 236.3,546.24" fill="#61ff00"/>
<polygon points="266.44,548.52 271.92,546.28 265.56,544.31 260.07,546.46" fill="#4cff00"/>
<polygon points="115.66,537.96 121.64,536.9 115.25,533.73 109.26,534.7" fill="#ffc900"/>
<polygon points="189.03,547.78 194.74,546.14 188.4,543.52 182.68,545.07" fill="#bcff00"/>
<polygon points="260.92,550.75 266.44,548.52 260.07,546.46 254.55,548.6" fill="#66ff00"/>
<polygon points="128.03,540.07 133.95,538.92 127.58,535.84 121.64,536.9" fill="#ffdd00"/>
<polygon points="152.58,543.73 158.41,542.37 152.06,539.48 146.21,540.74" fill="#faff00"/>
<polygon points="164.78,545.27 170.57,543.82 164.22,541.01 158.41,542.37" fill="#e4ff00"/>
<polygon points="176.93,546.62 182.68,545.07 176.33,542.36 170.57,543.82" fill="#cfff00"/>
<polygon points="201.1,548.75 206.77,547.01 200.42,544.48 194.74,546.14" fill="#aaff00"/>
<polygon points="213.12,549.53 218.76,547.69 212.41,545.26 206.77,547.01" fill="#9aff00"/>
<polygon points="225.11,550.12 230.72,548.18 224.37,545.84 218.76,547.69" fill="#8bff00"/>
<polygon points="249.01,550.73 254.55,548.6 248.19,546.44 242.65,548.49" fill="#71ff00"/>
<polygon points="140.33,541.99 146.21,540.74 139.84,537.75 133.95,538.92" fill="#fff100"/>
<polygon points="237.08,550.52 242.65,548.49 236.3,546.24 230.72,548.18" fill="#7dff00"/>
<polygon points="122.08,541.21 128.03,540.07 121.64,536.9 115.66,537.96" fill="#ffc200"/>
<polygon points="158.96,546.71 164.78,545.27 158.41,542.37 152.58,543.73" fill="#fffb00"/>
<polygon points="171.15,548.16 176.93,546.62 170.57,543.82 164.78,545.27" fill="#efff00"/>
<polygon points="183.3,549.42 189.03,547.78 182.68,545.07 176.93,546.62" fill="#dbff00"/>
<polygon points="195.4,550.49 201.1,548.75 194.74,546.14 189.03,547.78" fill="#c8ff00"/>
<polygon points="207.46,551.37 213.12,549.53 206.77,547.01 201.1,548.75" fill="#b7ff00"/>
<polygon points="219.49,552.05 225.11,550.12 218.76,547.69 213.12,549.53" fill="#a7ff00"/>
<polygon points="255.39,552.97 260.92,550.75 254.55,548.6 249.01,550.73" fill="#81ff00"/>
<polygon points="134.43,543.24 140.33,541.99 133.95,538.92 128.03,540.07" fill="#ffd600"/>
<polygon points="146.72,545.07 152.58,543.73 146.21,540.74 140.33,541.99" fill="#ffe900"/>
<polygon points="231.48,552.55 237.08,550.52 230.72,548.18 225.11,550.12" fill="#99ff00"/>
<polygon points="243.45,552.85 249.01,550.73 242.65,548.49 237.08,550.52" fill="#8cff00"/>
<polygon points="165.35,549.69 171.15,548.16 164.78,545.27 158.96,546.71" fill="#fff300"/>
<polygon points="177.54,551.05 183.3,549.42 176.93,546.62 171.15,548.16" fill="#f9ff00"/>
<polygon points="201.78,553.19 207.46,551.37 201.1,548.75 195.4,550.49" fill="#d4ff00"/>
<polygon points="213.84,553.97 219.49,552.05 213.12,549.53 207.46,551.37" fill="#c4ff00"/>
<polygon points="128.49,544.47 134.43,543.24 128.03,540.07 122.08,541.21" fill="#ffbc00"/>
<polygon points="140.83,546.4 146.72,545.07 140.33,541.99 134.43,543.24" fill="#ffcf00"/>
<polygon points="153.12,548.14 158.96,546.71 152.58,543.73 146.72,545.07" fill="#ffe200"/>
<polygon points="189.68,552.21 195.4,550.49 189.03,547.78 183.3,549.42" fill="#e6ff00"/>
<polygon points="225.86,554.57 231.48,552.55 225.11,550.12 219.49,552.05" fill="#b5ff00"/>
<polygon points="237.86,554.97 243.45,552.85 237.08,550.52 231.48,552.55" fill="#a7ff00"/>
<polygon points="249.83,555.18 255.39,552.97 249.01,550.73 243.45,552.85" fill="#9bff00"/>
<polygon points="171.75,552.67 177.54,551.05 171.15,548.16 165.35,549.69" fill="#ffeb00"/>
<polygon points="208.16,555.89 213.84,553.97 207.46,551.37 201.78,553.19" fill="#e1ff00"/>
<polygon points="134.92,547.72 140.83,546.4 134.43,543.24 128.49,544.47" fill="#ffb600"/>
<polygon points="147.25,549.56 153.12,548.14 146.72,545.07 140.83,546.4" fill="#ffc900"/>
<polygon points="159.52,551.21 165.35,549.69 158.96,546.71 153.12,548.14" fill="#ffda00"/>
<polygon points="183.93,553.93 189.68,552.21 183.3,549.42 177.54,551.05" fill="#fffb00"/>
<polygon points="196.06,555.01 201.78,553.19 195.4,550.49 189.68,552.21" fill="#f2ff00"/>
<polygon points="220.22,556.58 225.86,554.57 219.49,552.05 213.84,553.97" fill="#d1ff00"/>
<polygon points="232.25,557.08 237.86,554.97 231.48,552.55 225.86,554.57" fill="#c3ff00"/>
<polygon points="244.25,557.39 249.83,555.18 243.45,552.85 237.86,554.97" fill="#b6ff00"/>
<polygon points="141.35,550.97 147.25,549.56 140.83,546.4 134.92,547.72" fill="#ffaf00"/>
<polygon points="153.67,552.72 159.52,551.21 153.12,548.14 147.25,549.56" fill="#ffc200"/>
<polygon points="165.93,554.28 171.75,552.67 165.35,549.69 159.52,551.21" fill="#ffd300"/>
<polygon points="178.15,555.64 183.93,553.93 177.54,551.05 171.75,552.67" fill="#ffe300"/>
<polygon points="190.33,556.81 196.06,555.01 189.68,552.21 183.93,553.93" fill="#fff200"/>
<polygon points="202.46,557.79 208.16,555.89 201.78,553.19 196.06,555.01" fill="#fdff00"/>
<polygon points="214.56,558.58 220.22,556.58 213.84,553.97 208.16,555.89" fill="#edff00"/>
<polygon points="226.62,559.18 232.25,557.08 225.86,554.57 220.22,556.58" fill="#deff00"/>
<polygon points="238.65,559.59 244.25,557.39 237.86,554.97 232.25,557.08" fill="#d0ff00"/>
<polygon points="147.79,554.22 153.67,552.72 147.25,549.56 141.35,550.97" fill="#ffa900"/>
<polygon points="160.09,555.88 165.93,554.28 159.52,551.21 153.67,552.72" fill="#ffbb00"/>
<polygon points="184.57,558.61 190.33,556.81 183.93,553.93 178.15,555.64" fill="#ffdb00"/>
<polygon points="196.74,559.69 202.46,557.79 196.06,555.01 190.33,556.81" fill="#ffea00"/>
<polygon points="220.96,561.27 226.62,559.18 220.22,556.58 214.56,558.58" fill="#f9ff00"/>
<polygon points="233.02,561.78 238.65,559.59 232.25,557.08 226.62,559.18" fill="#ebff00"/>
<polygon points="172.35,557.34 178.15,555.64 171.75,552.67 165.93,554.28" fill="#ffcc00"/>
<polygon points="208.87,560.58 214.56,558.58 208.16,555.89 202.46,557.79" fill="#fff700"/>
<polygon points="154.23,557.47 160.09,555.88 153.67,552.72 147.79,554.22" fill="#ffa300"/>
<polygon points="166.53,559.03 172.35,557.34 165.93,554.28 160.09,555.88" fill="#ffb400"/>
<polygon points="178.78,560.4 184.57,558.61 178.15,555.64 172.35,557.34" fill="#ffc400"/>
<polygon points="190.99,561.58 196.74,559.69 190.33,556.81 184.57,558.61" fill="#ffd300"/>
<polygon points="203.15,562.56 208.87,560.58 202.46,557.79 196.74,559.69" fill="#ffe100"/>
<polygon points="215.28,563.36 220.96,561.27 214.56,558.58 208.87,560.58" fill="#ffee00"/>
<polygon points="227.38,563.96 233.02,561.78 226.62,559.18 220.96,561.27" fill="#fffa00"/>
<polygon points="160.68,560.71 166.53,559.03 160.09,555.88 154.23,557.47" fill="#ff9c00"/>
<polygon points="172.97,562.18 178.78,560.4 172.35,557.34 166.53,559.03" fill="#ffad00"/>
<polygon points="185.21,563.46 190.99,561.58 184.57,558.61 178.78,560.4" fill="#ffbd00"/>
<polygon points="197.42,564.54 203.15,562.56 196.74,559.69 190.99,561.58" fill="#ffcb00"/>
<polygon points="209.58,565.43 215.28,563.36 208.87,560.58 203.15,562.56" fill="#ffd900"/>
<polygon points="221.71,566.14 227.38,563.96 220.96,561.27 215.28,563.36" fill="#ffe500"/>
<polygon points="167.13,563.95 172.97,562.18 166.53,559.03 160.68,560.71" fill="#ff9600"/>
<polygon points="179.42,565.33 185.21,563.46 178.78,560.4 172.97,562.18" fill="#ffa600"/>
<polygon points="191.66,566.51 197.42,564.54 190.99,561.58 185.21,563.46" fill="#ffb500"/>
<polygon points="203.85,567.5 209.58,565.43 203.15,562.56 197.42,564.54" fill="#ffc300"/>
<polygon points="216.01,568.3 221.71,566.14 215.28,563.36 209.58,565.43" fill="#ffd000"/>
<polygon points="173.6,567.19 179.42,565.33 172.97,562.18 167.13,563.95" fill="#ff9000"/>
<polygon points="210.3,570.46 216.01,568.3 209.58,565.43 203.85,567.5" fill="#ffbb00"/>
<polygon points="185.87,568.47 191.66,566.51 185.21,563.46 179.42,565.33" fill="#ff9f00"/>
<polygon points="198.11,569.56 203.85,567.5 197.42,564.54 191.66,566.51" fill="#ffae00"/>
<polygon points="180.06,570.43 185.87,568.47 179.42,565.33 173.6,567.19" fill="#ff8900"/>
<polygon points="192.33,571.62 198.11,569.56 191.66,566.51 185.87,568.47" fill="#ff9800"/>
<polygon points="204.56,572.61 210.3,570.46 203.85,567.5 198.11,569.56" fill="#ffa600"/>
<polygon points="186.54,573.66 192.33,571.62 185.87,568.47 180.06,570.43" fill="#ff8300"/>
<polygon points="198.8,574.76 204.56,572.61 198.11,569.56 192.33,571.62" fill="#ff9200"/>
<polygon points="193.02,576.89 198.8,574.76 192.33,571.62 186.54,573.66" fill="#ff7d00"/>
</g>
<line x1="73.82" y1="596.05" x2="59.42" y2="464.49" stroke="#222" stroke-width="0.85"/>
<line x1="298.45" y1="588.26" x2="312.53" y2="456.49" stroke="#333" stroke-width="0.8"/>
<line x1="59.42" y1="464.49" x2="181" y2="396.82" stroke="#1a1a1a" stroke-width="0.9"/>
<line x1="181" y1="396.82" x2="312.53" y2="456.49" stroke="#1a1a1a" stroke-width="0.9"/>
<circle cx="70.51" cy="565.76" r="1.3" fill="#000"/>
<circle cx="68.29" cy="545.5" r="1.3" fill="#000"/>
<circle cx="66.07" cy="525.25" r="1.3" fill="#000"/>
<circle cx="63.86" cy="505" r="1.3" fill="#000"/>
<circle cx="61.64" cy="484.74" r="1.3" fill="#000"/>
<circle cx="59.42" cy="464.49" r="1.3" fill="#000"/>
<circle cx="73.82" cy="596.05" r="1.3" fill="#000"/>
<circle cx="103.71" cy="616.27" r="1.3" fill="#000"/>
<circle cx="133.6" cy="636.49" r="1.3" fill="#000"/>
<circle cx="163.49" cy="656.71" r="1.3" fill="#000"/>
<circle cx="193.37" cy="676.93" r="1.3" fill="#000"/>
<circle cx="219.64" cy="654.76" r="1.3" fill="#000"/>
<circle cx="245.91" cy="632.6" r="1.3" fill="#000"/>
<circle cx="272.18" cy="610.43" r="1.3" fill="#000"/>
<circle cx="298.45" cy="588.26" r="1.3" fill="#000"/>
<line x1="422.4" y1="547.87" x2="414.11" y2="447.57" stroke="#1a1a1a" stroke-width="0.7"/>
<line x1="595.78" y1="542" x2="603.95" y2="441.57" stroke="#1a1a1a" stroke-width="0.7"/>
<line x1="449.99" y1="529.98" x2="444.51" y2="430.65" stroke="#1a1a1a" stroke-width="0.7"/>
<line x1="565.58" y1="526.06" x2="571.07" y2="426.65" stroke="#1a1a1a" stroke-width="0.7"/>
<line x1="477.58" y1="512.09" x2="474.9" y2="413.74" stroke="#1a1a1a" stroke-width="0.7"/>
<line x1="535.37" y1="510.13" x2="538.18" y2="411.73" stroke="#1a1a1a" stroke-width="0.7"/>
<line x1="505.16" y1="494.2" x2="505.3" y2="396.82" stroke="#1a1a1a" stroke-width="0.8"/>
<line x1="394.81" y1="565.76" x2="505.16" y2="494.2" stroke="#1a1a1a" stroke-width="0.7"/>
<line x1="505.16" y1="494.2" x2="625.99" y2="557.93" stroke="#1a1a1a" stroke-width="0.7"/>
<line x1="392.59" y1="545.5" x2="505.19" y2="474.73" stroke="#1a1a1a" stroke-width="0.7"/>
<line x1="505.19" y1="474.73" x2="628.16" y2="537.64" stroke="#1a1a1a" stroke-width="0.7"/>
<line x1="390.37" y1="525.25" x2="505.22" y2="455.25" stroke="#1a1a1a" stroke-width="0.7"/>
<line x1="505.22" y1="455.25" x2="630.33" y2="517.35" stroke="#1a1a1a" stroke-width="0.7"/>
<line x1="388.16" y1="505" x2="505.24" y2="435.77" stroke="#1a1a1a" stroke-width="0.7"/>
<line x1="505.24" y1="435.77" x2="632.5" y2="497.06" stroke="#1a1a1a" stroke-width="0.7"/>
<line x1="385.94" y1="484.74" x2="505.27" y2="416.29" stroke="#1a1a1a" stroke-width="0.7"/>
<line x1="505.27" y1="416.29" x2="634.67" y2="476.78" stroke="#1a1a1a" stroke-width="0.7"/>
<line x1="383.72" y1="464.49" x2="505.3" y2="396.82" stroke="#1a1a1a" stroke-width="0.7"/>
<line x1="505.3" y1="396.82" x2="636.83" y2="456.49" stroke="#1a1a1a" stroke-width="0.7"/>
<polygon points="398.12,596.05 517.67,676.93 622.75,588.26 505.13,523.33" fill="#666666"/>
<path d="M427.74,616.08 L428.11,615.1 L428.49,614.11 L428.87,613.13 L429.25,612.16 L429.64,611.19 L430.03,610.22 L430.43,609.25 L430.82,608.29 L431.23,607.33 L431.63,606.37 L432.04,605.42 L432.45,604.47 L432.86,603.52 L433.28,602.58 L433.7,601.64 L434.12,600.7 L434.55,599.76 L434.98,598.83 L435.41,597.9 L435.87,596.94 L436.35,595.92 L436.84,594.9 L437.34,593.87 L437.84,592.84 L438.3,591.93 L438.75,591.03 L439.21,590.12 L439.67,589.22 L440.13,588.32 L440.59,587.42 L441.06,586.53 L441.59,585.53 L442.15,584.47 L442.72,583.41 L443.2,582.53 L443.68,581.65 L444.17,580.77 L444.65,579.9 L445.14,579.02 L445.7,578.03 L446.32,576.94 L446.88,575.98 L447.38,575.12 L447.88,574.26 L448.38,573.4 L448.89,572.54 L449.56,571.43 L450.17,570.41 L450.69,569.56 L451.2,568.72 L451.72,567.87 L452.3,566.94 L453.01,565.81 L453.56,564.94 L454.09,564.1 L454.62,563.27 L455.19,562.38 L455.94,561.23 L456.5,560.37 L457.04,559.55 L457.58,558.73 L458.24,557.73 L458.95,556.68 L459.5,555.86 L460.05,555.05 L460.64,554.19 L461.44,553.03 L461.46,553" fill="none" stroke="#00ff61" stroke-width="1.2"/>
<path d="M461.25,638.75 L461.51,637.66 L461.77,636.56 L462.03,635.48 L462.25,634.6 L462.48,633.72 L462.72,632.76 L463,631.69 L463.29,630.62 L463.58,629.55 L463.87,628.48 L464.15,627.47 L464.41,626.57 L464.67,625.67 L464.93,624.76 L465.24,623.74 L465.55,622.7 L465.87,621.66 L466.19,620.62 L466.52,619.59 L466.85,618.56 L467.18,617.53 L467.52,616.51 L467.83,615.58 L468.14,614.65 L468.46,613.71 L468.79,612.78 L469.12,611.84 L469.45,610.9 L469.79,609.95 L470.15,608.95 L470.52,607.96 L470.89,606.97 L471.26,605.98 L471.63,605 L472.01,604.02 L472.4,603.04 L472.78,602.06 L473.17,601.09 L473.56,600.12 L473.95,599.15 L474.35,598.19 L474.75,597.23 L475.15,596.27 L475.56,595.32 L475.97,594.37 L476.38,593.42 L476.8,592.47 L477.22,591.51 L477.67,590.51 L478.12,589.51 L478.58,588.51 L479.05,587.5 L479.52,586.49 L479.99,585.47 L480.44,584.54 L480.88,583.62 L481.32,582.7 L481.77,581.79 L482.22,580.87 L482.67,579.96 L483.12,579.05 L483.58,578.15 L484.04,577.24 L484.58,576.19 L485.12,575.14 L485.66,574.1 L486.13,573.21 L486.61,572.32 L487.08,571.43 L487.56,570.54 L488.04,569.66 L488.52,568.78 L489.11,567.7 L489.71,566.63 L490.22,565.71 L490.72,564.84 L491.21,563.97 L491.71,563.1 L492.2,562.24 L492.82,561.18 L493.46,560.09 L493.97,559.23 L494.47,558.37 L494.98,557.52 L495.5,556.67 L496.12,555.64 L496.79,554.55 L497.31,553.7 L497.83,552.86 L498.35,552.02 L498.91,551.13 L499.63,549.99 L500.2,549.09 L500.73,548.26 L501.26,547.43 L501.83,546.55 L502.59,545.39 L503.15,544.53 L503.69,543.71 L504.23,542.89 L504.9,541.89 L505.6,540.85 L506.15,540.03 L506.7,539.22 L507.3,538.35 L508.09,537.2 L508.65,536.39 L509.21,535.58 L509.78,534.77 L510.62,533.58 L511.18,532.78 L511.75,531.98 L512.35,531.14 L513.18,529.99 L513.75,529.2 L514.33,528.41 L514.33,528.41" fill="none" stroke="#00ff23" stroke-width="1.2"/>
<path d="M497.1,663.01 L497.23,661.79 L497.35,660.81 L497.44,659.97 L497.59,658.77 L497.74,657.56 L497.85,656.7 L497.98,655.77 L498.14,654.58 L498.31,653.39 L498.43,652.55 L498.57,651.63 L498.75,650.45 L498.94,649.28 L499.09,648.37 L499.23,647.53 L499.42,646.38 L499.62,645.23 L499.82,644.15 L499.97,643.3 L500.15,642.36 L500.36,641.22 L500.59,640.09 L500.8,639.03 L500.97,638.17 L501.16,637.27 L501.39,636.15 L501.63,635.04 L501.88,633.92 L502.09,632.98 L502.29,632.11 L502.51,631.16 L502.76,630.06 L503.03,628.97 L503.29,627.88 L503.55,626.84 L503.77,625.96 L504,625.07 L504.26,624.09 L504.54,623.02 L504.83,621.95 L505.12,620.88 L505.41,619.82 L505.69,618.82 L505.95,617.91 L506.21,617.01 L506.48,616.1 L506.78,615.08 L507.09,614.03 L507.41,612.99 L507.73,611.96 L508.06,610.92 L508.39,609.89 L508.72,608.86 L509.04,607.86 L509.35,606.93 L509.66,606 L509.98,605.07 L510.29,604.14 L510.62,603.2 L510.95,602.26 L511.3,601.26 L511.66,600.26 L512.02,599.26 L512.39,598.26 L512.75,597.27 L513.12,596.28 L513.5,595.29 L513.87,594.31 L514.25,593.33 L514.63,592.35 L515.02,591.38 L515.41,590.4 L515.8,589.44 L516.19,588.47 L516.59,587.5 L516.99,586.54 L517.39,585.58 L517.79,584.63 L518.2,583.67 L518.61,582.72 L519.02,581.77 L519.44,580.83 L519.86,579.88 L520.28,578.94 L520.7,578.01 L521.15,577.02 L521.61,576.01 L522.08,575 L522.55,573.99 L523.03,572.97 L523.51,571.97 L523.95,571.05 L524.4,570.13 L524.84,569.21 L525.29,568.3 L525.74,567.39 L526.2,566.48 L526.65,565.57 L527.11,564.67 L527.61,563.69 L528.15,562.65 L528.69,561.6 L529.2,560.63 L529.67,559.73 L530.14,558.84 L530.62,557.96 L531.09,557.07 L531.57,556.19 L532.09,555.23 L532.68,554.16 L533.27,553.11 L533.75,552.23 L534.24,551.36 L534.74,550.49 L535.23,549.62 L535.73,548.74 L536.36,547.65 L536.98,546.6 L537.48,545.74 L537.99,544.88 L538.49,544.02 L539,543.17 L539.51,542.31" fill="none" stroke="#23ff00" stroke-width="1.2"/>
<path d="M536.25,661.26 L536.34,660.28 L536.46,659.05 L536.57,658.01 L536.66,657.2 L536.79,656 L536.93,654.78 L537.03,653.93 L537.15,652.97 L537.3,651.77 L537.44,650.64 L537.55,649.81 L537.69,648.78 L537.86,647.59 L538.02,646.5 L538.14,645.66 L538.3,644.65 L538.48,643.47 L538.66,642.32 L538.8,641.48 L538.95,640.56 L539.15,639.4 L539.35,638.25 L539.53,637.26 L539.68,636.41 L539.87,635.38 L540.09,634.24 L540.31,633.11 L540.5,632.14 L540.67,631.29 L540.87,630.29 L541.11,629.16 L541.34,628.04 L541.57,626.97 L541.77,626.1 L541.96,625.24 L542.2,624.16 L542.46,623.06 L542.72,621.96 L542.98,620.87 L543.19,619.99 L543.41,619.11 L543.65,618.14 L543.92,617.06 L544.2,615.98 L544.48,614.9 L544.76,613.83 L545.02,612.89 L545.26,612 L545.51,611.1 L545.79,610.1 L546.09,609.04 L546.39,607.99 L546.7,606.94 L547.01,605.89 L547.32,604.84 L547.62,603.86 L547.9,602.95 L548.18,602.03 L548.47,601.11 L548.77,600.18 L549.1,599.15 L549.43,598.13 L549.77,597.1 L550.11,596.08 L550.45,595.07 L550.79,594.05 L551.14,593.04 L551.49,592.03 L551.85,591.03 L552.2,590.03 L552.56,589.03 L552.92,588.06 L553.26,587.11 L553.62,586.16 L553.97,585.2 L554.34,584.25 L554.7,583.29 L555.07,582.33 L555.45,581.37 L555.83,580.41 L556.21,579.44 L556.6,578.47 L556.99,577.5 L557.39,576.53 L557.79,575.55 L558.2,574.57 L558.61,573.59 L559.02,572.61 L559.45,571.62 L559.87,570.63 L560.3,569.64 L560.74,568.65 L561.16,567.69 L561.58,566.75 L562,565.81 L562.43,564.88 L562.85,563.94 L563.28,563.01 L563.71,562.08 L564.15,561.15 L564.58,560.23 L565.02,559.3 L565.46,558.38 L565.91,557.46 L566.13,557.01" fill="none" stroke="#72ff00" stroke-width="1.2"/>
<path d="M581.42,623.14 L581.59,622.28 L581.81,621.22 L582.04,620.1 L582.28,618.98 L582.5,617.97 L582.69,617.1 L582.89,616.2 L583.14,615.1 L583.39,613.99 L583.65,612.89 L583.89,611.86 L584.1,610.99 L584.32,610.11 L584.57,609.07 L584.84,607.98 L585.12,606.9 L585.4,605.82 L585.67,604.8 L585.9,603.91 L586.14,603.01 L586.4,602.07 L586.69,601.01 L586.99,599.94 L587.28,598.89 L587.59,597.83 L587.89,596.78 L588.17,595.81 L588.44,594.91 L588.71,594 L588.99,593.09 L589.3,592.07 L589.62,591.04 L589.95,590 L590.27,588.97 L590.6,587.94 L590.94,586.92 L591.27,585.89 L591.61,584.87 L591.95,583.87 L592.26,582.94 L592.58,582.01 L592.9,581.07 L593.23,580.13 L593.56,579.19 L593.9,578.25 L594.24,577.31 L594.6,576.31 L594.96,575.31 L595.33,574.32 L595.7,573.33 L595.7,573.33" fill="none" stroke="#caff00" stroke-width="1.2"/>
<polyline points="505.13,523.33 398.12,596.05 517.67,676.93 622.75,588.26 505.13,523.33" fill="none" stroke="#111" stroke-width="0.9"/>
<g stroke="#000" stroke-opacity="0.78" stroke-width="0.5" stroke-linejoin="round">
<polygon points="505.72,474.39 511.39,470.41 505.2,468.59 499.54,472.51" fill="#00ff36"/>
<polygon points="500.06,478.36 505.72,474.39 499.54,472.51 493.88,476.43" fill="#00ff3b"/>
<polygon points="511.92,476.26 517.6,472.23 511.39,470.41 505.72,474.39" fill="#00ff27"/>
<polygon points="494.4,482.34 500.06,478.36 493.88,476.43 488.22,480.35" fill="#00ff40"/>
<polygon points="518.14,478.13 523.82,474.04 517.6,472.23 511.92,476.26" fill="#00ff18"/>
<polygon points="506.25,480.3 511.92,476.26 505.72,474.39 500.06,478.36" fill="#00ff2c"/>
<polygon points="488.74,486.32 494.4,482.34 488.22,480.35 482.57,484.27" fill="#00ff44"/>
<polygon points="500.59,484.33 506.25,480.3 500.06,478.36 494.4,482.34" fill="#00ff31"/>
<polygon points="512.46,482.22 518.14,478.13 511.92,476.26 506.25,480.3" fill="#00ff1d"/>
<polygon points="524.37,479.99 530.05,475.85 523.82,474.04 518.14,478.13" fill="#00ff08"/>
<polygon points="506.79,486.31 512.46,482.22 506.25,480.3 500.59,484.33" fill="#00ff22"/>
<polygon points="483.09,490.31 488.74,486.32 482.57,484.27 476.93,488.2" fill="#00ff49"/>
<polygon points="494.93,488.37 500.59,484.33 494.4,482.34 488.74,486.32" fill="#00ff36"/>
<polygon points="518.69,484.14 524.37,479.99 518.14,478.13 512.46,482.22" fill="#00ff0e"/>
<polygon points="530.61,481.85 536.3,477.65 530.05,475.85 524.37,479.99" fill="#08ff00"/>
<polygon points="477.45,494.29 483.09,490.31 476.93,488.2 471.28,492.12" fill="#00ff4e"/>
<polygon points="501.13,490.41 506.79,486.31 500.59,484.33 494.93,488.37" fill="#00ff27"/>
<polygon points="513.01,488.29 518.69,484.14 512.46,482.22 506.79,486.31" fill="#00ff13"/>
<polygon points="536.87,483.71 542.56,479.45 536.3,477.65 530.61,481.85" fill="#19ff00"/>
<polygon points="489.28,492.41 494.93,488.37 488.74,486.32 483.09,490.31" fill="#00ff3b"/>
<polygon points="524.92,486.06 530.61,481.85 524.37,479.99 518.69,484.14" fill="#02ff00"/>
<polygon points="471.81,498.27 477.45,494.29 471.28,492.12 465.65,496.05" fill="#00ff52"/>
<polygon points="483.63,496.45 489.28,492.41 483.09,490.31 477.45,494.29" fill="#00ff40"/>
<polygon points="495.47,494.51 501.13,490.41 494.93,488.37 489.28,492.41" fill="#00ff2c"/>
<polygon points="507.34,492.44 513.01,488.29 506.79,486.31 501.13,490.41" fill="#00ff18"/>
<polygon points="519.25,490.27 524.92,486.06 518.69,484.14 513.01,488.29" fill="#00ff04"/>
<polygon points="531.18,487.97 536.87,483.71 530.61,481.85 524.92,486.06" fill="#13ff00"/>
<polygon points="543.14,485.55 548.84,481.24 542.56,479.45 536.87,483.71" fill="#2bff00"/>
<polygon points="466.17,502.26 471.81,498.27 465.65,496.05 460.02,499.98" fill="#00ff57"/>
<polygon points="489.82,498.6 495.47,494.51 489.28,492.41 483.63,496.45" fill="#00ff31"/>
<polygon points="525.49,492.23 531.18,487.97 524.92,486.06 519.25,490.27" fill="#0cff00"/>
<polygon points="549.42,487.4 555.13,483.02 548.84,481.24 543.14,485.55" fill="#3cff00"/>
<polygon points="477.98,500.49 483.63,496.45 477.45,494.29 471.81,498.27" fill="#00ff45"/>
<polygon points="501.68,496.6 507.34,492.44 501.13,490.41 495.47,494.51" fill="#00ff1e"/>
<polygon points="513.57,494.47 519.25,490.27 513.01,488.29 507.34,492.44" fill="#00ff0a"/>
<polygon points="537.44,489.87 543.14,485.55 536.87,483.71 531.18,487.97" fill="#24ff00"/>
<polygon points="460.54,506.25 466.17,502.26 460.02,499.98 454.39,503.91" fill="#00ff5c"/>
<polygon points="472.35,504.53 477.98,500.49 471.81,498.27 466.17,502.26" fill="#00ff49"/>
<polygon points="484.17,502.7 489.82,498.6 483.63,496.45 477.98,500.49" fill="#00ff37"/>
<polygon points="496.02,500.75 501.68,496.6 495.47,494.51 489.82,498.6" fill="#00ff23"/>
<polygon points="519.81,496.5 525.49,492.23 519.25,490.27 513.57,494.47" fill="#06ff00"/>
<polygon points="531.75,494.19 537.44,489.87 531.18,487.97 525.49,492.23" fill="#1dff00"/>
<polygon points="543.72,491.77 549.42,487.4 543.14,485.55 537.44,489.87" fill="#35ff00"/>
<polygon points="555.72,489.23 561.44,484.8 555.13,483.02 549.42,487.4" fill="#4dff00"/>
<polygon points="507.9,498.69 513.57,494.47 507.34,492.44 501.68,496.6" fill="#00ff0f"/>
<polygon points="478.53,506.8 484.17,502.7 477.98,500.49 472.35,504.53" fill="#00ff3c"/>
<polygon points="538.02,496.15 543.72,491.77 537.44,489.87 531.75,494.19" fill="#2eff00"/>
<polygon points="454.92,510.24 460.54,506.25 454.39,503.91 448.77,507.84" fill="#00ff61"/>
<polygon points="466.71,508.58 472.35,504.53 466.17,502.26 460.54,506.25" fill="#00ff4e"/>
<polygon points="490.37,504.91 496.02,500.75 489.82,498.6 484.17,502.7" fill="#00ff29"/>
<polygon points="502.24,502.9 507.9,498.69 501.68,496.6 496.02,500.75" fill="#00ff15"/>
<polygon points="514.14,500.77 519.81,496.5 513.57,494.47 507.9,498.69" fill="#00ff01"/>
<polygon points="526.07,498.52 531.75,494.19 525.49,492.23 519.81,496.5" fill="#16ff00"/>
<polygon points="550.01,493.67 555.72,489.23 549.42,487.4 543.72,491.77" fill="#46ff00"/>
<polygon points="562.04,491.06 567.76,486.57 561.44,484.8 555.72,489.23" fill="#5fff00"/>
<polygon points="472.89,510.91 478.53,506.8 472.35,504.53 466.71,508.58" fill="#00ff41"/>
<polygon points="484.73,509.07 490.37,504.91 484.17,502.7 478.53,506.8" fill="#00ff2e"/>
<polygon points="508.47,505.04 514.14,500.77 507.9,498.69 502.24,502.9" fill="#00ff07"/>
<polygon points="532.33,500.53 538.02,496.15 531.75,494.19 526.07,498.52" fill="#27ff00"/>
<polygon points="544.31,498.1 550.01,493.67 543.72,491.77 538.02,496.15" fill="#3fff00"/>
<polygon points="449.3,514.23 454.92,510.24 448.77,507.84 443.15,511.78" fill="#00ff65"/>
<polygon points="568.36,492.89 574.09,488.34 567.76,486.57 562.04,491.06" fill="#70ff00"/>
<polygon points="461.08,512.63 466.71,508.58 460.54,506.25 454.92,510.24" fill="#00ff53"/>
<polygon points="496.59,507.11 502.24,502.9 496.02,500.75 490.37,504.91" fill="#00ff1b"/>
<polygon points="520.39,502.85 526.07,498.52 519.81,496.5 514.14,500.77" fill="#0fff00"/>
<polygon points="556.32,495.56 562.04,491.06 555.72,489.23 550.01,493.67" fill="#57ff00"/>
<polygon points="443.68,518.22 449.3,514.23 443.15,511.78 437.53,515.71" fill="#00ff6a"/>
<polygon points="467.26,515.01 472.89,510.91 466.71,508.58 461.08,512.63" fill="#00ff46"/>
<polygon points="479.08,513.23 484.73,509.07 478.53,506.8 472.89,510.91" fill="#00ff33"/>
<polygon points="490.93,511.33 496.59,507.11 490.37,504.91 484.73,509.07" fill="#00ff20"/>
<polygon points="502.81,509.31 508.47,505.04 502.24,502.9 496.59,507.11" fill="#00ff0d"/>
<polygon points="514.72,507.17 520.39,502.85 514.14,500.77 508.47,505.04" fill="#08ff00"/>
<polygon points="526.65,504.92 532.33,500.53 526.07,498.52 520.39,502.85" fill="#20ff00"/>
<polygon points="538.62,502.54 544.31,498.1 538.02,496.15 532.33,500.53" fill="#37ff00"/>
<polygon points="550.61,500.05 556.32,495.56 550.01,493.67 544.31,498.1" fill="#50ff00"/>
<polygon points="574.71,494.71 580.44,490.1 574.09,488.34 568.36,492.89" fill="#82ff00"/>
<polygon points="455.46,516.68 461.08,512.63 454.92,510.24 449.3,514.23" fill="#00ff58"/>
<polygon points="562.64,497.44 568.36,492.89 562.04,491.06 556.32,495.56" fill="#68ff00"/>
<polygon points="497.16,513.59 502.81,509.31 496.59,507.11 490.93,511.33" fill="#00ff12"/>
<polygon points="520.97,509.3 526.65,504.92 520.39,502.85 514.72,507.17" fill="#19ff00"/>
<polygon points="438.07,522.22 443.68,518.22 437.53,515.71 431.92,519.65" fill="#00ff6f"/>
<polygon points="461.63,519.12 467.26,515.01 461.08,512.63 455.46,516.68" fill="#00ff4b"/>
<polygon points="556.93,501.99 562.64,497.44 556.32,495.56 550.61,500.05" fill="#61ff00"/>
<polygon points="581.06,496.52 586.81,491.86 580.44,490.1 574.71,494.71" fill="#93ff00"/>
<polygon points="449.84,520.73 455.46,516.68 449.3,514.23 443.68,518.22" fill="#00ff5d"/>
<polygon points="473.45,517.39 479.08,513.23 472.89,510.91 467.26,515.01" fill="#00ff39"/>
<polygon points="485.29,515.55 490.93,511.33 484.73,509.07 479.08,513.23" fill="#00ff26"/>
<polygon points="509.05,511.5 514.72,507.17 508.47,505.04 502.81,509.31" fill="#02ff00"/>
<polygon points="532.93,506.98 538.62,502.54 532.33,500.53 526.65,504.92" fill="#30ff00"/>
<polygon points="544.91,504.55 550.61,500.05 544.31,498.1 538.62,502.54" fill="#48ff00"/>
<polygon points="568.98,499.32 574.71,494.71 568.36,492.89 562.64,497.44" fill="#7aff00"/>
<polygon points="432.46,526.21 438.07,522.22 431.92,519.65 426.32,523.59" fill="#00ff73"/>
<polygon points="456.01,523.23 461.63,519.12 455.46,516.68 449.84,520.73" fill="#00ff50"/>
<polygon points="491.51,517.86 497.16,513.59 490.93,511.33 485.29,515.55" fill="#00ff18"/>
<polygon points="503.39,515.84 509.05,511.5 502.81,509.31 497.16,513.59" fill="#00ff05"/>
<polygon points="515.3,513.69 520.97,509.3 514.72,507.17 509.05,511.5" fill="#11ff00"/>
<polygon points="527.24,511.43 532.93,506.98 526.65,504.92 520.97,509.3" fill="#29ff00"/>
<polygon points="563.26,503.93 568.98,499.32 562.64,497.44 556.93,501.99" fill="#71ff00"/>
<polygon points="587.43,498.33 593.18,493.61 586.81,491.86 581.06,496.52" fill="#a4ff00"/>
<polygon points="444.22,524.78 449.84,520.73 443.68,518.22 438.07,522.22" fill="#00ff62"/>
<polygon points="467.82,521.56 473.45,517.39 467.26,515.01 461.63,519.12" fill="#00ff3e"/>
<polygon points="551.22,506.55 556.93,501.99 550.61,500.05 544.91,504.55" fill="#59ff00"/>
<polygon points="575.33,501.19 581.06,496.52 574.71,494.71 568.98,499.32" fill="#8bff00"/>
<polygon points="479.65,519.77 485.29,515.55 479.08,513.23 473.45,517.39" fill="#00ff2b"/>
<polygon points="539.22,509.05 544.91,504.55 538.62,502.54 532.93,506.98" fill="#40ff00"/>
<polygon points="509.64,518.08 515.3,513.69 509.05,511.5 503.39,515.84" fill="#0aff00"/>
<polygon points="450.39,527.34 456.01,523.23 449.84,520.73 444.22,524.78" fill="#00ff55"/>
<polygon points="569.6,505.86 575.33,501.19 568.98,499.32 563.26,503.93" fill="#82ff00"/>
<polygon points="426.86,530.21 432.46,526.21 426.32,523.59 420.72,527.53" fill="#00ff78"/>
<polygon points="438.61,528.83 444.22,524.78 438.07,522.22 432.46,526.21" fill="#00ff67"/>
<polygon points="462.19,525.72 467.82,521.56 461.63,519.12 456.01,523.23" fill="#00ff43"/>
<polygon points="485.86,522.14 491.51,517.86 485.29,515.55 479.65,519.77" fill="#00ff1e"/>
<polygon points="497.74,520.17 503.39,515.84 497.16,513.59 491.51,517.86" fill="#00ff0b"/>
<polygon points="521.57,515.87 527.24,511.43 520.97,509.3 515.3,513.69" fill="#21ff00"/>
<polygon points="533.53,513.55 539.22,509.05 532.93,506.98 527.24,511.43" fill="#39ff00"/>
<polygon points="557.54,508.54 563.26,503.93 556.93,501.99 551.22,506.55" fill="#69ff00"/>
<polygon points="581.69,503.06 587.43,498.33 581.06,496.52 575.33,501.19" fill="#9cff00"/>
<polygon points="593.82,500.14 599.58,495.36 593.18,493.61 587.43,498.33" fill="#b6ff00"/>
<polygon points="474.01,523.99 479.65,519.77 473.45,517.39 467.82,521.56" fill="#00ff31"/>
<polygon points="545.52,511.1 551.22,506.55 544.91,504.55 539.22,509.05" fill="#51ff00"/>
<polygon points="444.78,531.45 450.39,527.34 444.22,524.78 438.61,528.83" fill="#00ff5b"/>
<polygon points="503.98,522.47 509.64,518.08 503.39,515.84 497.74,520.17" fill="#03ff00"/>
<polygon points="515.9,520.32 521.57,515.87 515.3,513.69 509.64,518.08" fill="#1aff00"/>
<polygon points="575.95,507.78 581.69,503.06 575.33,501.19 569.6,505.86" fill="#93ff00"/>
<polygon points="421.26,534.21 426.86,530.21 420.72,527.53 415.12,531.47" fill="#00ff7d"/>
<polygon points="456.57,529.89 462.19,525.72 456.01,523.23 450.39,527.34" fill="#00ff49"/>
<polygon points="480.22,526.42 485.86,522.14 479.65,519.77 474.01,523.99" fill="#00ff24"/>
<polygon points="539.82,515.66 545.52,511.1 539.22,509.05 533.53,513.55" fill="#49ff00"/>
<polygon points="563.88,510.53 569.6,505.86 563.26,503.93 557.54,508.54" fill="#7aff00"/>
<polygon points="600.22,501.94 605.98,497.1 599.58,495.36 593.82,500.14" fill="#c7ff00"/>
<polygon points="433.01,532.89 438.61,528.83 432.46,526.21 426.86,530.21" fill="#00ff6c"/>
<polygon points="468.39,528.22 474.01,523.99 467.82,521.56 462.19,525.72" fill="#00ff37"/>
<polygon points="492.09,524.51 497.74,520.17 491.51,517.86 485.86,522.14" fill="#00ff11"/>
<polygon points="527.85,518.05 533.53,513.55 527.24,511.43 521.57,515.87" fill="#31ff00"/>
<polygon points="551.83,513.16 557.54,508.54 551.22,506.55 545.52,511.1" fill="#61ff00"/>
<polygon points="588.07,504.92 593.82,500.14 587.43,498.33 581.69,503.06" fill="#adff00"/>
<polygon points="415.67,538.21 421.26,534.21 415.12,531.47 409.53,535.41" fill="#00ff82"/>
<polygon points="439.17,535.56 444.78,531.45 438.61,528.83 433.01,532.89" fill="#00ff60"/>
<polygon points="450.96,534.06 456.57,529.89 450.39,527.34 444.78,531.45" fill="#00ff4e"/>
<polygon points="474.59,530.7 480.22,526.42 474.01,523.99 468.39,528.22" fill="#00ff2a"/>
<polygon points="498.33,526.87 503.98,522.47 497.74,520.17 492.09,524.51" fill="#00ff03"/>
<polygon points="510.23,524.77 515.9,520.32 509.64,518.08 503.98,522.47" fill="#13ff00"/>
<polygon points="522.17,522.56 527.85,518.05 521.57,515.87 515.9,520.32" fill="#2aff00"/>
<polygon points="546.13,517.77 551.83,513.16 545.52,511.1 539.82,515.66" fill="#59ff00"/>
<polygon points="570.23,512.51 575.95,507.78 569.6,505.86 563.88,510.53" fill="#8bff00"/>
<polygon points="582.32,509.71 588.07,504.92 581.69,503.06 575.95,507.78" fill="#a4ff00"/>
<polygon points="606.63,503.73 612.4,498.84 605.98,497.1 600.22,501.94" fill="#d9ff00"/>
<polygon points="427.41,536.95 433.01,532.89 426.86,530.21 421.26,534.21" fill="#00ff71"/>
<polygon points="462.76,532.44 468.39,528.22 462.19,525.72 456.57,529.89" fill="#00ff3c"/>
<polygon points="486.45,528.85 492.09,524.51 485.86,522.14 480.22,526.42" fill="#00ff17"/>
<polygon points="534.14,520.23 539.82,515.66 533.53,513.55 527.85,518.05" fill="#41ff00"/>
<polygon points="558.16,515.2 563.88,510.53 557.54,508.54 551.83,513.16" fill="#72ff00"/>
<polygon points="594.46,506.78 600.22,501.94 593.82,500.14 588.07,504.92" fill="#beff00"/>
<polygon points="433.57,539.68 439.17,535.56 433.01,532.89 427.41,536.95" fill="#00ff65"/>
<polygon points="468.97,534.99 474.59,530.7 468.39,528.22 462.76,532.44" fill="#00ff2f"/>
<polygon points="492.68,531.27 498.33,526.87 492.09,524.51 486.45,528.85" fill="#00ff0a"/>
<polygon points="528.46,524.79 534.14,520.23 527.85,518.05 522.17,522.56" fill="#39ff00"/>
<polygon points="552.46,519.88 558.16,515.2 551.83,513.16 546.13,517.77" fill="#69ff00"/>
<polygon points="588.71,511.62 594.46,506.78 588.07,504.92 582.32,509.71" fill="#b5ff00"/>
<polygon points="410.08,542.21 415.67,538.21 409.53,535.41 403.94,539.36" fill="#00ff86"/>
<polygon points="421.81,541.01 427.41,536.95 421.26,534.21 415.67,538.21" fill="#00ff76"/>
<polygon points="445.35,538.24 450.96,534.06 444.78,531.45 439.17,535.56" fill="#00ff54"/>
<polygon points="457.14,536.67 462.76,532.44 456.57,529.89 450.96,534.06" fill="#00ff42"/>
<polygon points="480.81,533.19 486.45,528.85 480.22,526.42 474.59,530.7" fill="#00ff1d"/>
<polygon points="504.58,529.23 510.23,524.77 503.98,522.47 498.33,526.87" fill="#0bff00"/>
<polygon points="516.5,527.07 522.17,522.56 515.9,520.32 510.23,524.77" fill="#22ff00"/>
<polygon points="540.44,522.39 546.13,517.77 539.82,515.66 534.14,520.23" fill="#51ff00"/>
<polygon points="564.51,517.25 570.23,512.51 563.88,510.53 558.16,515.2" fill="#82ff00"/>
<polygon points="576.59,514.49 582.32,509.71 575.95,507.78 570.23,512.51" fill="#9bff00"/>
<polygon points="600.86,508.63 606.63,503.73 600.22,501.94 594.46,506.78" fill="#cfff00"/>
<polygon points="613.06,505.52 618.84,500.57 612.4,498.84 606.63,503.73" fill="#eaff00"/>
<polygon points="427.97,543.8 433.57,539.68 427.41,536.95 421.81,541.01" fill="#00ff6a"/>
<polygon points="463.34,539.27 468.97,534.99 462.76,532.44 457.14,536.67" fill="#00ff35"/>
<polygon points="487.04,535.66 492.68,531.27 486.45,528.85 480.81,533.19" fill="#00ff10"/>
<polygon points="534.75,527.02 540.44,522.39 534.14,520.23 528.46,524.79" fill="#49ff00"/>
<polygon points="558.79,521.98 564.51,517.25 558.16,515.2 552.46,519.88" fill="#79ff00"/>
<polygon points="595.11,513.53 600.86,508.63 594.46,506.78 588.71,511.62" fill="#c6ff00"/>
<polygon points="404.49,546.22 410.08,542.21 403.94,539.36 398.36,543.3" fill="#00ff8b"/>
<polygon points="439.74,542.41 445.35,538.24 439.17,535.56 433.57,539.68" fill="#00ff59"/>
<polygon points="475.18,537.53 480.81,533.19 474.59,530.7 468.97,534.99" fill="#00ff23"/>
<polygon points="498.93,533.68 504.58,529.23 498.33,526.87 492.68,531.27" fill="#04ff00"/>
<polygon points="522.78,529.36 528.46,524.79 522.17,522.56 516.5,527.07" fill="#31ff00"/>
<polygon points="546.76,524.56 552.46,519.88 546.13,517.77 540.44,522.39" fill="#61ff00"/>
<polygon points="582.97,516.47 588.71,511.62 582.32,509.71 576.59,514.49" fill="#acff00"/>
<polygon points="619.5,507.3 625.29,502.29 618.84,500.57 613.06,505.52" fill="#fbff00"/>
<polygon points="416.22,545.07 421.81,541.01 415.67,538.21 410.08,542.21" fill="#00ff7b"/>
<polygon points="451.53,540.9 457.14,536.67 450.96,534.06 445.35,538.24" fill="#00ff47"/>
<polygon points="510.84,531.58 516.5,527.07 510.23,524.77 504.58,529.23" fill="#1aff00"/>
<polygon points="570.86,519.28 576.59,514.49 570.23,512.51 564.51,517.25" fill="#92ff00"/>
<polygon points="607.28,510.48 613.06,505.52 606.63,503.73 600.86,508.63" fill="#e0ff00"/>
<polygon points="481.41,540.07 487.04,535.66 480.81,533.19 475.18,537.53" fill="#00ff16"/>
<polygon points="541.07,529.24 546.76,524.56 540.44,522.39 534.75,527.02" fill="#58ff00"/>
<polygon points="398.92,550.23 404.49,546.22 398.36,543.3 392.78,547.25" fill="#00ff90"/>
<polygon points="422.38,547.92 427.97,543.8 421.81,541.01 416.22,545.07" fill="#00ff6f"/>
<polygon points="434.14,546.58 439.74,542.41 433.57,539.68 427.97,543.8" fill="#00ff5e"/>
<polygon points="457.73,543.56 463.34,539.27 457.14,536.67 451.53,540.9" fill="#00ff3b"/>
<polygon points="469.56,541.87 475.18,537.53 468.97,534.99 463.34,539.27" fill="#00ff29"/>
<polygon points="493.28,538.14 498.93,533.68 492.68,531.27 487.04,535.66" fill="#00ff03"/>
<polygon points="529.08,531.64 534.75,527.02 528.46,524.79 522.78,529.36" fill="#41ff00"/>
<polygon points="553.09,526.72 558.79,521.98 552.46,519.88 546.76,524.56" fill="#71ff00"/>
<polygon points="565.14,524.07 570.86,519.28 564.51,517.25 558.79,521.98" fill="#89ff00"/>
<polygon points="589.36,518.43 595.11,513.53 588.71,511.62 582.97,516.47" fill="#bcff00"/>
<polygon points="601.52,515.44 607.28,510.48 600.86,508.63 595.11,513.53" fill="#d7ff00"/>
<polygon points="625.95,509.08 631.75,504.01 625.29,502.29 619.5,507.3" fill="#fff400"/>
<polygon points="410.64,549.13 416.22,545.07 410.08,542.21 404.49,546.22" fill="#00ff80"/>
<polygon points="445.93,545.13 451.53,540.9 445.35,538.24 439.74,542.41" fill="#00ff4d"/>
<polygon points="505.19,536.09 510.84,531.58 504.58,529.23 498.93,533.68" fill="#13ff00"/>
<polygon points="517.12,533.93 522.78,529.36 516.5,527.07 510.84,531.58" fill="#2aff00"/>
<polygon points="577.23,521.31 582.97,516.47 576.59,514.49 570.86,519.28" fill="#a3ff00"/>
<polygon points="613.72,512.32 619.5,507.3 613.06,505.52 607.28,510.48" fill="#f1ff00"/>
<polygon points="475.78,544.47 481.41,540.07 475.18,537.53 469.56,541.87" fill="#00ff1c"/>
<polygon points="547.39,531.46 553.09,526.72 546.76,524.56 541.07,529.24" fill="#68ff00"/>
<polygon points="416.8,552.04 422.38,547.92 416.22,545.07 410.64,549.13" fill="#00ff74"/>
<polygon points="452.12,547.85 457.73,543.56 451.53,540.9 445.93,545.13" fill="#00ff41"/>
<polygon points="487.65,542.6 493.28,538.14 487.04,535.66 481.41,540.07" fill="#00ff0a"/>
<polygon points="535.38,533.92 541.07,529.24 534.75,527.02 529.08,531.64" fill="#50ff00"/>
<polygon points="571.5,526.16 577.23,521.31 570.86,519.28 565.14,524.07" fill="#9aff00"/>
<polygon points="607.94,517.34 613.72,512.32 607.28,510.48 601.52,515.44" fill="#e8ff00"/>
<polygon points="405.06,553.2 410.64,549.13 404.49,546.22 398.92,550.23" fill="#00ff85"/>
<polygon points="428.55,550.76 434.14,546.58 427.97,543.8 422.38,547.92" fill="#00ff64"/>
<polygon points="440.33,549.37 445.93,545.13 439.74,542.41 434.14,546.58" fill="#00ff53"/>
<polygon points="463.94,546.22 469.56,541.87 463.34,539.27 457.73,543.56" fill="#00ff2f"/>
<polygon points="499.54,540.61 505.19,536.09 498.93,533.68 493.28,538.14" fill="#0bff00"/>
<polygon points="511.46,538.5 517.12,533.93 510.84,531.58 505.19,536.09" fill="#22ff00"/>
<polygon points="523.4,536.27 529.08,531.64 522.78,529.36 517.12,533.93" fill="#39ff00"/>
<polygon points="559.43,528.87 565.14,524.07 558.79,521.98 553.09,526.72" fill="#81ff00"/>
<polygon points="583.61,523.34 589.36,518.43 582.97,516.47 577.23,521.31" fill="#b3ff00"/>
<polygon points="595.76,520.4 601.52,515.44 595.11,513.53 589.36,518.43" fill="#cdff00"/>
<polygon points="620.16,514.15 625.95,509.08 619.5,507.3 613.72,512.32" fill="#fffc00"/>
<polygon points="411.22,556.16 416.8,552.04 410.64,549.13 405.06,553.2" fill="#00ff7a"/>
<polygon points="446.52,552.15 452.12,547.85 445.93,545.13 440.33,549.37" fill="#00ff47"/>
<polygon points="470.16,548.87 475.78,544.47 469.56,541.87 463.94,546.22" fill="#00ff23"/>
<polygon points="482.01,547.06 487.65,542.6 481.41,540.07 475.78,544.47" fill="#00ff10"/>
<polygon points="541.7,536.2 547.39,531.46 541.07,529.24 535.38,533.92" fill="#60ff00"/>
<polygon points="553.73,533.67 559.43,528.87 553.09,526.72 547.39,531.46" fill="#78ff00"/>
<polygon points="577.88,528.25 583.61,523.34 577.23,521.31 571.5,526.16" fill="#aaff00"/>
<polygon points="614.38,519.23 620.16,514.15 613.72,512.32 607.94,517.34" fill="#f8ff00"/>
<polygon points="422.96,554.94 428.55,550.76 422.38,547.92 416.8,552.04" fill="#00ff69"/>
<polygon points="458.33,550.57 463.94,546.22 457.73,543.56 452.12,547.85" fill="#00ff35"/>
<polygon points="493.9,545.12 499.54,540.61 493.28,538.14 487.65,542.6" fill="#04ff00"/>
<polygon points="505.8,543.07 511.46,538.5 505.19,536.09 499.54,540.61" fill="#1aff00"/>
<polygon points="517.74,540.9 523.4,536.27 517.12,533.93 511.46,538.5" fill="#31ff00"/>
<polygon points="529.7,538.61 535.38,533.92 529.08,531.64 523.4,536.27" fill="#48ff00"/>
<polygon points="565.79,531.02 571.5,526.16 565.14,524.07 559.43,528.87" fill="#91ff00"/>
<polygon points="602.18,522.36 607.94,517.34 601.52,515.44 595.76,520.4" fill="#deff00"/>
<polygon points="434.73,553.6 440.33,549.37 434.14,546.58 428.55,550.76" fill="#00ff58"/>
<polygon points="590.01,525.36 595.76,520.4 589.36,518.43 583.61,523.34" fill="#c3ff00"/>
<polygon points="464.54,553.28 470.16,548.87 463.94,546.22 458.33,550.57" fill="#00ff29"/>
<polygon points="560.08,535.87 565.79,531.02 559.43,528.87 553.73,533.67" fill="#87ff00"/>
<polygon points="417.38,559.12 422.96,554.94 416.8,552.04 411.22,556.16" fill="#00ff6e"/>
<polygon points="440.92,556.44 446.52,552.15 440.33,549.37 434.73,553.6" fill="#00ff4d"/>
<polygon points="452.72,554.92 458.33,550.57 452.12,547.85 446.52,552.15" fill="#00ff3b"/>
<polygon points="476.39,551.52 482.01,547.06 475.78,544.47 470.16,548.87" fill="#00ff16"/>
<polygon points="488.26,549.65 493.9,545.12 487.65,542.6 482.01,547.06" fill="#00ff04"/>
<polygon points="500.16,547.65 505.8,543.07 499.54,540.61 493.9,545.12" fill="#12ff00"/>
<polygon points="512.08,545.53 517.74,540.9 511.46,538.5 505.8,543.07" fill="#28ff00"/>
<polygon points="524.03,543.3 529.7,538.61 523.4,536.27 517.74,540.9" fill="#3fff00"/>
<polygon points="536.02,540.94 541.7,536.2 535.38,533.92 529.7,538.61" fill="#57ff00"/>
<polygon points="548.03,538.47 553.73,533.67 547.39,531.46 541.7,536.2" fill="#6fff00"/>
<polygon points="572.15,533.16 577.88,528.25 571.5,526.16 565.79,531.02" fill="#a0ff00"/>
<polygon points="584.27,530.33 590.01,525.36 583.61,523.34 577.88,528.25" fill="#baff00"/>
<polygon points="608.61,524.31 614.38,519.23 607.94,517.34 602.18,522.36" fill="#eeff00"/>
<polygon points="429.14,557.84 434.73,553.6 428.55,550.76 422.96,554.94" fill="#00ff5e"/>
<polygon points="596.42,527.38 602.18,522.36 595.76,520.4 590.01,525.36" fill="#d4ff00"/>
<polygon points="458.93,557.69 464.54,553.28 458.33,550.57 452.72,554.92" fill="#00ff2f"/>
<polygon points="566.44,538.08 572.15,533.16 565.79,531.02 560.08,535.87" fill="#97ff00"/>
<polygon points="435.33,560.74 440.92,556.44 434.73,553.6 429.14,557.84" fill="#00ff52"/>
<polygon points="470.77,555.99 476.39,551.52 470.16,548.87 464.54,553.28" fill="#00ff1d"/>
<polygon points="494.52,552.23 500.16,547.65 493.9,545.12 488.26,549.65" fill="#0aff00"/>
<polygon points="506.43,550.17 512.08,545.53 505.8,543.07 500.16,547.65" fill="#20ff00"/>
<polygon points="518.37,547.99 524.03,543.3 517.74,540.9 512.08,545.53" fill="#37ff00"/>
<polygon points="530.34,545.69 536.02,540.94 529.7,538.61 524.03,543.3" fill="#4eff00"/>
<polygon points="554.37,540.73 560.08,535.87 553.73,533.67 548.03,538.47" fill="#7eff00"/>
<polygon points="590.67,532.41 596.42,527.38 590.01,525.36 584.27,530.33" fill="#caff00"/>
<polygon points="423.56,562.08 429.14,557.84 422.96,554.94 417.38,559.12" fill="#00ff63"/>
<polygon points="447.12,559.27 452.72,554.92 446.52,552.15 440.92,556.44" fill="#00ff41"/>
<polygon points="482.63,554.17 488.26,549.65 482.01,547.06 476.39,551.52" fill="#00ff0a"/>
<polygon points="542.34,543.27 548.03,538.47 541.7,536.2 536.02,540.94" fill="#66ff00"/>
<polygon points="578.54,535.3 584.27,530.33 577.88,528.25 572.15,533.16" fill="#b0ff00"/>
<polygon points="602.84,529.39 608.61,524.31 602.18,522.36 596.42,527.38" fill="#e4ff00"/>
<polygon points="429.74,565.04 435.33,560.74 429.14,557.84 423.56,562.08" fill="#00ff58"/>
<polygon points="453.33,562.1 458.93,557.69 452.72,554.92 447.12,559.27" fill="#00ff35"/>
<polygon points="465.16,560.46 470.77,555.99 464.54,553.28 458.93,557.69" fill="#00ff23"/>
<polygon points="500.79,554.8 506.43,550.17 500.16,547.65 494.52,552.23" fill="#18ff00"/>
<polygon points="512.72,552.68 518.37,547.99 512.08,545.53 506.43,550.17" fill="#2fff00"/>
<polygon points="524.67,550.44 530.34,545.69 524.03,543.3 518.37,547.99" fill="#46ff00"/>
<polygon points="560.73,543 566.44,538.08 560.08,535.87 554.37,540.73" fill="#8eff00"/>
<polygon points="572.81,540.27 578.54,535.3 572.15,533.16 566.44,538.08" fill="#a7ff00"/>
<polygon points="597.09,534.48 602.84,529.39 596.42,527.38 590.67,532.41" fill="#daff00"/>
<polygon points="441.53,563.63 447.12,559.27 440.92,556.44 435.33,560.74" fill="#00ff47"/>
<polygon points="477.01,558.69 482.63,554.17 476.39,551.52 470.77,555.99" fill="#00ff11"/>
<polygon points="488.88,556.81 494.52,552.23 488.26,549.65 482.63,554.17" fill="#02ff00"/>
<polygon points="536.66,548.08 542.34,543.27 536.02,540.94 530.34,545.69" fill="#5dff00"/>
<polygon points="548.68,545.6 554.37,540.73 548.03,538.47 542.34,543.27" fill="#75ff00"/>
<polygon points="584.93,537.44 590.67,532.41 584.27,530.33 578.54,535.3" fill="#c0ff00"/>
<polygon points="447.73,566.52 453.33,562.1 447.12,559.27 441.53,563.63" fill="#00ff3c"/>
<polygon points="507.07,557.38 512.72,552.68 506.43,550.17 500.79,554.8" fill="#26ff00"/>
<polygon points="519.01,555.19 524.67,550.44 518.37,547.99 512.72,552.68" fill="#3dff00"/>
<polygon points="579.2,542.47 584.93,537.44 578.54,535.3 572.81,540.27" fill="#b6ff00"/>
<polygon points="435.94,567.99 441.53,563.63 435.33,560.74 429.74,565.04" fill="#00ff4d"/>
<polygon points="459.55,564.93 465.16,560.46 458.93,557.69 453.33,562.1" fill="#00ff2a"/>
<polygon points="471.39,563.22 477.01,558.69 470.77,555.99 465.16,560.46" fill="#00ff18"/>
<polygon points="483.26,561.39 488.88,556.81 482.63,554.17 477.01,558.69" fill="#00ff05"/>
<polygon points="495.15,559.44 500.79,554.8 494.52,552.23 488.88,556.81" fill="#10ff00"/>
<polygon points="530.99,552.89 536.66,548.08 530.34,545.69 524.67,550.44" fill="#54ff00"/>
<polygon points="542.99,550.46 548.68,545.6 542.34,543.27 536.66,548.08" fill="#6cff00"/>
<polygon points="555.03,547.92 560.73,543 554.37,540.73 548.68,545.6" fill="#84ff00"/>
<polygon points="567.1,545.25 572.81,540.27 566.44,538.08 560.73,543" fill="#9dff00"/>
<polygon points="591.34,539.56 597.09,534.48 590.67,532.41 584.93,537.44" fill="#d0ff00"/>
<polygon points="442.14,570.93 447.73,566.52 441.53,563.63 435.94,567.99" fill="#00ff42"/>
<polygon points="513.36,559.95 519.01,555.19 512.72,552.68 507.07,557.38" fill="#34ff00"/>
<polygon points="585.6,544.66 591.34,539.56 584.93,537.44 579.2,542.47" fill="#c6ff00"/>
<polygon points="453.95,569.4 459.55,564.93 453.33,562.1 447.73,566.52" fill="#00ff30"/>
<polygon points="477.64,565.98 483.26,561.39 477.01,558.69 471.39,563.22" fill="#00ff0c"/>
<polygon points="489.52,564.09 495.15,559.44 488.88,556.81 483.26,561.39" fill="#08ff00"/>
<polygon points="501.43,562.08 507.07,557.38 500.79,554.8 495.15,559.44" fill="#1eff00"/>
<polygon points="525.32,557.7 530.99,552.89 524.67,550.44 519.01,555.19" fill="#4bff00"/>
<polygon points="537.31,555.33 542.99,550.46 536.66,548.08 530.99,552.89" fill="#63ff00"/>
<polygon points="549.33,552.84 555.03,547.92 548.68,545.6 542.99,550.46" fill="#7bff00"/>
<polygon points="573.48,547.5 579.2,542.47 572.81,540.27 567.1,545.25" fill="#acff00"/>
<polygon points="465.79,567.75 471.39,563.22 465.16,560.46 459.55,564.93" fill="#00ff1e"/>
<polygon points="561.39,550.23 567.1,545.25 560.73,543 555.03,547.92" fill="#93ff00"/>
<polygon points="448.36,573.88 453.95,569.4 447.73,566.52 442.14,570.93" fill="#00ff37"/>
<polygon points="483.9,568.73 489.52,564.09 483.26,561.39 477.64,565.98" fill="#00ff00"/>
<polygon points="495.79,566.78 501.43,562.08 495.15,559.44 489.52,564.09" fill="#16ff00"/>
<polygon points="507.71,564.7 513.36,559.95 507.07,557.38 501.43,562.08" fill="#2cff00"/>
<polygon points="519.66,562.51 525.32,557.7 519.01,555.19 513.36,559.95" fill="#43ff00"/>
<polygon points="531.64,560.2 537.31,555.33 530.99,552.89 525.32,557.7" fill="#5aff00"/>
<polygon points="543.65,557.77 549.33,552.84 542.99,550.46 537.31,555.33" fill="#72ff00"/>
<polygon points="579.87,549.75 585.6,544.66 579.2,542.47 573.48,547.5" fill="#bcff00"/>
<polygon points="460.18,572.28 465.79,567.75 459.55,564.93 453.95,569.4" fill="#00ff25"/>
<polygon points="472.03,570.57 477.64,565.98 471.39,563.22 465.79,567.75" fill="#00ff13"/>
<polygon points="555.69,555.21 561.39,550.23 555.03,547.92 549.33,552.84" fill="#8aff00"/>
<polygon points="567.76,552.54 573.48,547.5 567.1,545.25 561.39,550.23" fill="#a3ff00"/>
<polygon points="490.17,571.48 495.79,566.78 489.52,564.09 483.9,568.73" fill="#0dff00"/>
<polygon points="502.08,569.46 507.71,564.7 501.43,562.08 495.79,566.78" fill="#23ff00"/>
<polygon points="525.98,565.07 531.64,560.2 525.32,557.7 519.66,562.51" fill="#51ff00"/>
<polygon points="537.97,562.69 543.65,557.77 537.31,555.33 531.64,560.2" fill="#68ff00"/>
<polygon points="454.59,576.81 460.18,572.28 453.95,569.4 448.36,573.88" fill="#00ff2c"/>
<polygon points="466.42,575.16 472.03,570.57 465.79,567.75 460.18,572.28" fill="#00ff1a"/>
<polygon points="478.28,573.38 483.9,568.73 477.64,565.98 472.03,570.57" fill="#00ff07"/>
<polygon points="514.01,567.33 519.66,562.51 513.36,559.95 507.71,564.7" fill="#3aff00"/>
<polygon points="550,560.2 555.69,555.21 549.33,552.84 543.65,557.77" fill="#80ff00"/>
<polygon points="562.06,557.58 567.76,552.54 561.39,550.23 555.69,555.21" fill="#99ff00"/>
<polygon points="574.15,554.85 579.87,549.75 573.48,547.5 567.76,552.54" fill="#b2ff00"/>
<polygon points="496.45,574.23 502.08,569.46 495.79,566.78 490.17,571.48" fill="#1bff00"/>
<polygon points="532.3,567.63 537.97,562.69 531.64,560.2 525.98,565.07" fill="#5fff00"/>
<polygon points="460.83,579.75 466.42,575.16 460.18,572.28 454.59,576.81" fill="#00ff21"/>
<polygon points="472.67,578.03 478.28,573.38 472.03,570.57 466.42,575.16" fill="#00ff0e"/>
<polygon points="484.55,576.19 490.17,571.48 483.9,568.73 478.28,573.38" fill="#05ff00"/>
<polygon points="508.37,572.15 514.01,567.33 507.71,564.7 502.08,569.46" fill="#31ff00"/>
<polygon points="520.32,569.95 525.98,565.07 519.66,562.51 514.01,567.33" fill="#48ff00"/>
<polygon points="544.32,565.19 550,560.2 543.65,557.77 537.97,562.69" fill="#77ff00"/>
<polygon points="556.36,562.63 562.06,557.58 555.69,555.21 550,560.2" fill="#8fff00"/>
<polygon points="568.44,559.95 574.15,554.85 567.76,552.54 562.06,557.58" fill="#a8ff00"/>
<polygon points="467.07,582.68 472.67,578.03 466.42,575.16 460.83,579.75" fill="#00ff16"/>
<polygon points="478.94,580.9 484.55,576.19 478.28,573.38 472.67,578.03" fill="#00ff03"/>
<polygon points="490.82,578.99 496.45,574.23 490.17,571.48 484.55,576.19" fill="#12ff00"/>
<polygon points="502.74,576.97 508.37,572.15 502.08,569.46 496.45,574.23" fill="#28ff00"/>
<polygon points="514.68,574.82 520.32,569.95 514.01,567.33 508.37,572.15" fill="#3eff00"/>
<polygon points="526.64,572.56 532.3,567.63 525.98,565.07 520.32,569.95" fill="#55ff00"/>
<polygon points="538.64,570.18 544.32,565.19 537.97,562.69 532.3,567.63" fill="#6dff00"/>
<polygon points="550.67,567.67 556.36,562.63 550,560.2 544.32,565.19" fill="#85ff00"/>
<polygon points="562.73,565.05 568.44,559.95 562.06,557.58 556.36,562.63" fill="#9dff00"/>
<polygon points="473.33,585.61 478.94,580.9 472.67,578.03 467.07,582.68" fill="#00ff0a"/>
<polygon points="485.21,583.76 490.82,578.99 484.55,576.19 478.94,580.9" fill="#09ff00"/>
<polygon points="509.04,579.71 514.68,574.82 508.37,572.15 502.74,576.97" fill="#35ff00"/>
<polygon points="520.99,577.5 526.64,572.56 520.32,569.95 514.68,574.82" fill="#4cff00"/>
<polygon points="544.99,572.72 550.67,567.67 544.32,565.19 538.64,570.18" fill="#7bff00"/>
<polygon points="557.04,570.16 562.73,565.05 556.36,562.63 550.67,567.67" fill="#93ff00"/>
<polygon points="497.11,581.79 502.74,576.97 496.45,574.23 490.82,578.99" fill="#1fff00"/>
<polygon points="532.98,575.17 538.64,570.18 532.3,567.63 526.64,572.56" fill="#63ff00"/>
<polygon points="479.6,588.53 485.21,583.76 478.94,580.9 473.33,585.61" fill="#01ff00"/>
<polygon points="491.49,586.62 497.11,581.79 490.82,578.99 485.21,583.76" fill="#16ff00"/>
<polygon points="503.4,584.59 509.04,579.71 502.74,576.97 497.11,581.79" fill="#2cff00"/>
<polygon points="515.35,582.44 520.99,577.5 514.68,574.82 509.04,579.71" fill="#43ff00"/>
<polygon points="527.32,580.17 532.98,575.17 526.64,572.56 520.99,577.5" fill="#5aff00"/>
<polygon points="539.32,577.78 544.99,572.72 538.64,570.18 532.98,575.17" fill="#71ff00"/>
<polygon points="551.35,575.27 557.04,570.16 550.67,567.67 544.99,572.72" fill="#89ff00"/>
<polygon points="485.88,591.45 491.49,586.62 485.21,583.76 479.6,588.53" fill="#0dff00"/>
<polygon points="497.78,589.48 503.4,584.59 497.11,581.79 491.49,586.62" fill="#23ff00"/>
<polygon points="509.71,587.38 515.35,582.44 509.04,579.71 503.4,584.59" fill="#39ff00"/>
<polygon points="521.67,585.17 527.32,580.17 520.99,577.5 515.35,582.44" fill="#50ff00"/>
<polygon points="533.66,582.83 539.32,577.78 532.98,575.17 527.32,580.17" fill="#67ff00"/>
<polygon points="545.68,580.38 551.35,575.27 544.99,572.72 539.32,577.78" fill="#7fff00"/>
<polygon points="492.17,594.37 497.78,589.48 491.49,586.62 485.88,591.45" fill="#1aff00"/>
<polygon points="504.08,592.33 509.71,587.38 503.4,584.59 497.78,589.48" fill="#30ff00"/>
<polygon points="516.03,590.17 521.67,585.17 515.35,582.44 509.71,587.38" fill="#47ff00"/>
<polygon points="528,587.89 533.66,582.83 527.32,580.17 521.67,585.17" fill="#5eff00"/>
<polygon points="540.01,585.5 545.68,580.38 539.32,577.78 533.66,582.83" fill="#75ff00"/>
<polygon points="498.46,597.28 504.08,592.33 497.78,589.48 492.17,594.37" fill="#27ff00"/>
<polygon points="534.35,590.61 540.01,585.5 533.66,582.83 528,587.89" fill="#6bff00"/>
<polygon points="510.4,595.18 516.03,590.17 509.71,587.38 504.08,592.33" fill="#3dff00"/>
<polygon points="522.36,592.95 528,587.89 521.67,585.17 516.03,590.17" fill="#54ff00"/>
<polygon points="504.77,600.18 510.4,595.18 504.08,592.33 498.46,597.28" fill="#33ff00"/>
<polygon points="516.72,598.02 522.36,592.95 516.03,590.17 510.4,595.18" fill="#4aff00"/>
<polygon points="528.7,595.74 534.35,590.61 528,587.89 522.36,592.95" fill="#61ff00"/>
<polygon points="511.09,603.09 516.72,598.02 510.4,595.18 504.77,600.18" fill="#40ff00"/>
<polygon points="523.06,600.86 528.7,595.74 522.36,592.95 516.72,598.02" fill="#57ff00"/>
<polygon points="517.42,605.99 523.06,600.86 516.72,598.02 511.09,603.09" fill="#4dff00"/>
</g>
<line x1="398.12" y1="596.05" x2="383.72" y2="464.49" stroke="#222" stroke-width="0.85"/>
<line x1="622.75" y1="588.26" x2="636.83" y2="456.49" stroke="#333" stroke-width="0.8"/>
<line x1="383.72" y1="464.49" x2="505.3" y2="396.82" stroke="#1a1a1a" stroke-width="0.9"/>
<line x1="505.3" y1="396.82" x2="636.83" y2="456.49" stroke="#1a1a1a" stroke-width="0.9"/>
<circle cx="394.81" cy="565.76" r="1.3" fill="#000"/>
<circle cx="392.59" cy="545.5" r="1.3" fill="#000"/>
<circle cx="390.37" cy="525.25" r="1.3" fill="#000"/>
<circle cx="388.16" cy="505" r="1.3" fill="#000"/>
<circle cx="385.94" cy="484.74" r="1.3" fill="#000"/>
<circle cx="383.72" cy="464.49" r="1.3" fill="#000"/>
<circle cx="398.12" cy="596.05" r="1.3" fill="#000"/>
<circle cx="428.01" cy="616.27" r="1.3" fill="#000"/>
<circle cx="457.9" cy="636.49" r="1.3" fill="#000"/>
<circle cx="487.79" cy="656.71" r="1.3" fill="#000"/>
<circle cx="517.67" cy="676.93" r="1.3" fill="#000"/>
<circle cx="543.94" cy="654.76" r="1.3" fill="#000"/>
<circle cx="570.21" cy="632.6" r="1.3" fill="#000"/>
<circle cx="596.48" cy="610.43" r="1.3" fill="#000"/>
<circle cx="622.75" cy="588.26" r="1.3" fill="#000"/>
<text x="385.4" y="9.9" font-size="7.6" fill="#1a1a1a" stroke="#1a1a1a" stroke-width="0.28" font-weight="bold" textLength="104.4" lengthAdjust="spacingAndGlyphs">Entrapment Efficiency of DOX (%)</text>
<text x="387.5" y="20.6" font-size="7" fill="#4848ff" textLength="15.5" lengthAdjust="spacingAndGlyphs">49.82</text>
<rect x="407.3" y="14.7" width="22.9" height="6.1" fill="url(#cb)" stroke="#222" stroke-width="0.6"/>
<text x="433.8" y="20.6" font-size="7" fill="#ff4a4a" textLength="15.8" lengthAdjust="spacingAndGlyphs">85.37</text>
<text x="385.4" y="48.8" font-size="7" fill="#333" stroke="#333" stroke-width="0.28" textLength="47" lengthAdjust="spacingAndGlyphs">X1 = A: Span 60</text>
<text x="385.4" y="57" font-size="7" fill="#333" stroke="#333" stroke-width="0.28" textLength="55.6" lengthAdjust="spacingAndGlyphs">X2 = B: Cholesterol</text>
<text x="385.4" y="74" font-size="7" fill="#1a1a1a" stroke="#1a1a1a" stroke-width="0.28" font-weight="bold" textLength="40.3" lengthAdjust="spacingAndGlyphs">Coded Factor</text>
<text x="385.4" y="82.7" font-size="7" fill="#4a4a62" stroke="#4a4a62" stroke-width="0.28" textLength="66.4" lengthAdjust="spacingAndGlyphs">C: Egg Lecithin = 0.000</text>
<text x="45.75" y="375.1" font-size="7.6" fill="#1a1a1a" stroke="#1a1a1a" stroke-width="0.28" font-weight="bold" textLength="104.4" lengthAdjust="spacingAndGlyphs">Entrapment Efficiency of DOX (%)</text>
<text x="47.85" y="385.8" font-size="7" fill="#4848ff" textLength="15.5" lengthAdjust="spacingAndGlyphs">49.82</text>
<rect x="67.65" y="379.9" width="22.9" height="6.1" fill="url(#cb)" stroke="#222" stroke-width="0.6"/>
<text x="94.15" y="385.8" font-size="7" fill="#ff4a4a" textLength="15.8" lengthAdjust="spacingAndGlyphs">85.37</text>
<text x="45.75" y="414" font-size="7" fill="#333" stroke="#333" stroke-width="0.28" textLength="56" lengthAdjust="spacingAndGlyphs">X1 = B: Cholesterol</text>
<text x="45.75" y="422.2" font-size="7" fill="#333" stroke="#333" stroke-width="0.28" textLength="58" lengthAdjust="spacingAndGlyphs">X2 = C: Egg Lecithin</text>
<text x="45.75" y="439.2" font-size="7" fill="#1a1a1a" stroke="#1a1a1a" stroke-width="0.28" font-weight="bold" textLength="40.3" lengthAdjust="spacingAndGlyphs">Coded Factor</text>
<text x="45.75" y="447.9" font-size="7" fill="#4a4a62" stroke="#4a4a62" stroke-width="0.28" textLength="55" lengthAdjust="spacingAndGlyphs">A: Span 60 = 0.000</text>
<text x="385.75" y="375.1" font-size="7.6" fill="#1a1a1a" stroke="#1a1a1a" stroke-width="0.28" font-weight="bold" textLength="104.4" lengthAdjust="spacingAndGlyphs">Entrapment Efficiency of DOX (%)</text>
<text x="387.85" y="385.8" font-size="7" fill="#4848ff" textLength="15.5" lengthAdjust="spacingAndGlyphs">49.82</text>
<rect x="407.65" y="379.9" width="22.9" height="6.1" fill="url(#cb)" stroke="#222" stroke-width="0.6"/>
<text x="434.15" y="385.8" font-size="7" fill="#ff4a4a" textLength="15.8" lengthAdjust="spacingAndGlyphs">85.37</text>
<text x="385.75" y="414" font-size="7" fill="#333" stroke="#333" stroke-width="0.28" textLength="46.75" lengthAdjust="spacingAndGlyphs">X1 = A: Span 60</text>
<text x="385.75" y="422.2" font-size="7" fill="#333" stroke="#333" stroke-width="0.28" textLength="58" lengthAdjust="spacingAndGlyphs">X2 = C: Egg Lecithin</text>
<text x="385.75" y="439.2" font-size="7" fill="#1a1a1a" stroke="#1a1a1a" stroke-width="0.28" font-weight="bold" textLength="40.3" lengthAdjust="spacingAndGlyphs">Coded Factor</text>
<text x="385.75" y="447.9" font-size="7" fill="#4a4a62" stroke="#4a4a62" stroke-width="0.28" textLength="63" lengthAdjust="spacingAndGlyphs">B: Cholesterol = 0.000</text>
<text x="385.2" y="94.44" font-size="9" fill="#333" stroke="#333" stroke-width="0.12" textLength="8.8" lengthAdjust="spacingAndGlyphs">95</text>
<text x="387" y="115.24" font-size="9" fill="#333" stroke="#333" stroke-width="0.12" textLength="8.7" lengthAdjust="spacingAndGlyphs">87</text>
<text x="389.2" y="136.24" font-size="9" fill="#333" stroke="#333" stroke-width="0.12" textLength="8.6" lengthAdjust="spacingAndGlyphs">79</text>
<text x="391" y="157.64" font-size="9" fill="#333" stroke="#333" stroke-width="0.12" textLength="8.2" lengthAdjust="spacingAndGlyphs">71</text>
<text x="393" y="178.54" font-size="9" fill="#333" stroke="#333" stroke-width="0.12" textLength="8.5" lengthAdjust="spacingAndGlyphs">63</text>
<text x="395" y="199.54" font-size="9" fill="#333" stroke="#333" stroke-width="0.12" textLength="8.8" lengthAdjust="spacingAndGlyphs">55</text>
<text x="47.1" y="462.54" font-size="9" fill="#333" stroke="#333" stroke-width="0.12" textLength="8.6" lengthAdjust="spacingAndGlyphs">95</text>
<text x="371.1" y="462.54" font-size="9" fill="#333" stroke="#333" stroke-width="0.12" textLength="8.6" lengthAdjust="spacingAndGlyphs">95</text>
<text x="48.7" y="482.74" font-size="9" fill="#333" stroke="#333" stroke-width="0.12" textLength="8.9" lengthAdjust="spacingAndGlyphs">87</text>
<text x="372.7" y="482.74" font-size="9" fill="#333" stroke="#333" stroke-width="0.12" textLength="8.9" lengthAdjust="spacingAndGlyphs">87</text>
<text x="51" y="503.24" font-size="9" fill="#333" stroke="#333" stroke-width="0.12" textLength="8.7" lengthAdjust="spacingAndGlyphs">79</text>
<text x="375" y="503.24" font-size="9" fill="#333" stroke="#333" stroke-width="0.12" textLength="8.7" lengthAdjust="spacingAndGlyphs">79</text>
<text x="53.4" y="523.04" font-size="9" fill="#333" stroke="#333" stroke-width="0.12" textLength="8.1" lengthAdjust="spacingAndGlyphs">71</text>
<text x="377.4" y="523.04" font-size="9" fill="#333" stroke="#333" stroke-width="0.12" textLength="8.1" lengthAdjust="spacingAndGlyphs">71</text>
<text x="55" y="543.24" font-size="9" fill="#333" stroke="#333" stroke-width="0.12" textLength="8.8" lengthAdjust="spacingAndGlyphs">63</text>
<text x="379" y="543.24" font-size="9" fill="#333" stroke="#333" stroke-width="0.12" textLength="8.8" lengthAdjust="spacingAndGlyphs">63</text>
<text x="57.6" y="564.24" font-size="9" fill="#333" stroke="#333" stroke-width="0.12" textLength="8.6" lengthAdjust="spacingAndGlyphs">55</text>
<text x="381.6" y="564.24" font-size="9" fill="#333" stroke="#333" stroke-width="0.12" textLength="8.6" lengthAdjust="spacingAndGlyphs">55</text>
<text transform="translate(367,226.8) rotate(-90)" x="0" y="0" font-size="8.3" fill="#2a2a2a" stroke="#2a2a2a" stroke-width="0.15" textLength="118" lengthAdjust="spacingAndGlyphs">Entrapment Efficiency of DOX (%)</text>
<text transform="translate(28.6,592.5) rotate(-90)" x="0" y="0" font-size="8.3" fill="#2a2a2a" stroke="#2a2a2a" stroke-width="0.15" textLength="117.6" lengthAdjust="spacingAndGlyphs">Entrapment Efficiency of DOX (%)</text>
<text transform="translate(352.9,592.5) rotate(-90)" x="0" y="0" font-size="8.3" fill="#2a2a2a" stroke="#2a2a2a" stroke-width="0.15" textLength="117.6" lengthAdjust="spacingAndGlyphs">Entrapment Efficiency of DOX (%)</text>
<text x="403" y="242.22" font-size="8.4" fill="#2a2a2a" stroke="#2a2a2a" stroke-width="0.2" textLength="2.7" lengthAdjust="spacingAndGlyphs">1</text>
<text x="423" y="263.22" font-size="8.4" fill="#2a2a2a" stroke="#2a2a2a" stroke-width="0.2" textLength="10.5" lengthAdjust="spacingAndGlyphs">0.5</text>
<text x="455.9" y="284.02" font-size="8.4" fill="#2a2a2a" stroke="#2a2a2a" stroke-width="0.2" textLength="4.2" lengthAdjust="spacingAndGlyphs">0</text>
<text x="474.3" y="305.02" font-size="8.4" fill="#2a2a2a" stroke="#2a2a2a" stroke-width="0.2" textLength="13" lengthAdjust="spacingAndGlyphs">-0.5</text>
<text x="508.2" y="325.32" font-size="8.4" fill="#2a2a2a" stroke="#2a2a2a" stroke-width="0.2" textLength="6.3" lengthAdjust="spacingAndGlyphs">-1</text>
<text x="396.7" y="305.42" font-size="8.4" fill="#2a2a2a" stroke="#2a2a2a" stroke-width="0.2" textLength="49.2" lengthAdjust="spacingAndGlyphs">B: Cholesterol</text>
<text x="641.5" y="247.52" font-size="8.4" fill="#2a2a2a" stroke="#2a2a2a" stroke-width="0.2" textLength="3" lengthAdjust="spacingAndGlyphs">1</text>
<text x="612" y="267.52" font-size="8.4" fill="#2a2a2a" stroke="#2a2a2a" stroke-width="0.2" textLength="9.5" lengthAdjust="spacingAndGlyphs">0.5</text>
<text x="582" y="286.27" font-size="8.4" fill="#2a2a2a" stroke="#2a2a2a" stroke-width="0.2" textLength="4.25" lengthAdjust="spacingAndGlyphs">0</text>
<text x="553.25" y="305.52" font-size="8.4" fill="#2a2a2a" stroke="#2a2a2a" stroke-width="0.2" textLength="12.5" lengthAdjust="spacingAndGlyphs">-0.5</text>
<text x="524.5" y="325.02" font-size="8.4" fill="#2a2a2a" stroke="#2a2a2a" stroke-width="0.2" textLength="5" lengthAdjust="spacingAndGlyphs">-1</text>
<text x="599" y="310.52" font-size="8.4" fill="#2a2a2a" stroke="#2a2a2a" stroke-width="0.2" textLength="36.75" lengthAdjust="spacingAndGlyphs">A: Span 60</text>
<text x="66.3" y="604.72" font-size="8.4" fill="#2a2a2a" stroke="#2a2a2a" stroke-width="0.2" textLength="2.7" lengthAdjust="spacingAndGlyphs">1</text>
<text x="390.3" y="604.72" font-size="8.4" fill="#2a2a2a" stroke="#2a2a2a" stroke-width="0.2" textLength="2.7" lengthAdjust="spacingAndGlyphs">1</text>
<text x="88.7" y="625.52" font-size="8.4" fill="#2a2a2a" stroke="#2a2a2a" stroke-width="0.2" textLength="11.2" lengthAdjust="spacingAndGlyphs">0.5</text>
<text x="412.7" y="625.52" font-size="8.4" fill="#2a2a2a" stroke="#2a2a2a" stroke-width="0.2" textLength="11.2" lengthAdjust="spacingAndGlyphs">0.5</text>
<text x="124.6" y="645.72" font-size="8.4" fill="#2a2a2a" stroke="#2a2a2a" stroke-width="0.2" textLength="3.8" lengthAdjust="spacingAndGlyphs">0</text>
<text x="448.6" y="645.72" font-size="8.4" fill="#2a2a2a" stroke="#2a2a2a" stroke-width="0.2" textLength="3.8" lengthAdjust="spacingAndGlyphs">0</text>
<text x="145.2" y="665.92" font-size="8.4" fill="#2a2a2a" stroke="#2a2a2a" stroke-width="0.2" textLength="13.5" lengthAdjust="spacingAndGlyphs">-0.5</text>
<text x="469.2" y="665.92" font-size="8.4" fill="#2a2a2a" stroke="#2a2a2a" stroke-width="0.2" textLength="13.5" lengthAdjust="spacingAndGlyphs">-0.5</text>
<text x="303.4" y="597.12" font-size="8.4" fill="#2a2a2a" stroke="#2a2a2a" stroke-width="0.2" textLength="2.7" lengthAdjust="spacingAndGlyphs">1</text>
<text x="627.4" y="597.12" font-size="8.4" fill="#2a2a2a" stroke="#2a2a2a" stroke-width="0.2" textLength="2.7" lengthAdjust="spacingAndGlyphs">1</text>
<text x="276.5" y="619.32" font-size="8.4" fill="#2a2a2a" stroke="#2a2a2a" stroke-width="0.2" textLength="10.5" lengthAdjust="spacingAndGlyphs">0.5</text>
<text x="600.5" y="619.32" font-size="8.4" fill="#2a2a2a" stroke="#2a2a2a" stroke-width="0.2" textLength="10.5" lengthAdjust="spacingAndGlyphs">0.5</text>
<text x="250" y="641.32" font-size="8.4" fill="#2a2a2a" stroke="#2a2a2a" stroke-width="0.2" textLength="4.5" lengthAdjust="spacingAndGlyphs">0</text>
<text x="574" y="641.32" font-size="8.4" fill="#2a2a2a" stroke="#2a2a2a" stroke-width="0.2" textLength="4.5" lengthAdjust="spacingAndGlyphs">0</text>
<text x="224.2" y="663.02" font-size="8.4" fill="#2a2a2a" stroke="#2a2a2a" stroke-width="0.2" textLength="13.5" lengthAdjust="spacingAndGlyphs">-0.5</text>
<text x="548.2" y="663.02" font-size="8.4" fill="#2a2a2a" stroke="#2a2a2a" stroke-width="0.2" textLength="13.5" lengthAdjust="spacingAndGlyphs">-0.5</text>
<text x="198.5" y="685.72" font-size="8.4" fill="#2a2a2a" stroke="#2a2a2a" stroke-width="0.2" textLength="5.5" lengthAdjust="spacingAndGlyphs">-1</text>
<text x="522.5" y="685.72" font-size="8.4" fill="#2a2a2a" stroke="#2a2a2a" stroke-width="0.2" textLength="5.5" lengthAdjust="spacingAndGlyphs">-1</text>
<text x="181.2" y="685.72" font-size="8.4" fill="#b8b8b8" stroke="#b8b8b8" stroke-width="0.2" textLength="6" lengthAdjust="spacingAndGlyphs">-1</text>
<text x="505.1" y="685.72" font-size="8.4" fill="#2a2a2a" stroke="#2a2a2a" stroke-width="0.2" textLength="6" lengthAdjust="spacingAndGlyphs">-1</text>
<text x="66.3" y="671.02" font-size="8.4" fill="#2a2a2a" stroke="#2a2a2a" stroke-width="0.2" textLength="52.4" lengthAdjust="spacingAndGlyphs">C: Egg Lecithin</text>
<text x="263" y="663.72" font-size="8.4" fill="#2a2a2a" stroke="#2a2a2a" stroke-width="0.2" textLength="49.4" lengthAdjust="spacingAndGlyphs">B: Cholesterol</text>
<text x="390" y="670.77" font-size="8.4" fill="#2a2a2a" stroke="#2a2a2a" stroke-width="0.2" textLength="52.5" lengthAdjust="spacingAndGlyphs">C: Egg Lecithin</text>
<text x="592.5" y="663.52" font-size="8.4" fill="#2a2a2a" stroke="#2a2a2a" stroke-width="0.2" textLength="38.25" lengthAdjust="spacingAndGlyphs">A: Span 60</text>
<rect x="121" y="683.5" width="1.5" height="1.2" fill="#3fd6b0"/><rect x="292" y="683.2" width="1.5" height="1.2" fill="#5fe6e6"/>
<text x="300.8" y="14" font-family="'Liberation Serif', 'DejaVu Serif', serif" font-size="18.5" fill="#111" textLength="19.5" lengthAdjust="spacingAndGlyphs">(a)</text>
<text x="646.4" y="16.4" font-family="'Liberation Serif', 'DejaVu Serif', serif" font-size="18.5" fill="#111" textLength="20.1" lengthAdjust="spacingAndGlyphs">(b)</text>
<text x="305.8" y="382.4" font-family="'Liberation Serif', 'DejaVu Serif', serif" font-size="18.5" fill="#111" textLength="19.5" lengthAdjust="spacingAndGlyphs">(c)</text>
<text x="640.8" y="382.4" font-family="'Liberation Serif', 'DejaVu Serif', serif" font-size="18.5" fill="#111" textLength="20.5" lengthAdjust="spacingAndGlyphs">(d)</text>
<text x="155.7" y="15.3" font-size="12" fill="#1a1a1a" stroke="#1a1a1a" stroke-width="0.28" textLength="67.5" lengthAdjust="spacingAndGlyphs">Pareto Chart</text>
<rect x="54.5" y="20.5" width="270.7" height="271.6" fill="none" stroke="#666" stroke-width="1"/>
<line x1="54.5" y1="20" x2="54.5" y2="292.6" stroke="#444" stroke-width="1"/>
<line x1="54" y1="292.1" x2="325.7" y2="292.1" stroke="#555" stroke-width="1"/>
<line x1="48" y1="278.5" x2="54.5" y2="278.5" stroke="#444" stroke-width="1"/>
<text x="30.3" y="279" font-size="8.4" fill="#333" stroke="#333" stroke-width="0.18" textLength="14" lengthAdjust="spacingAndGlyphs">0.00</text>
<line x1="48" y1="217.4" x2="54.5" y2="217.4" stroke="#444" stroke-width="1"/>
<text x="26.3" y="217.9" font-size="8.4" fill="#333" stroke="#333" stroke-width="0.18" textLength="18" lengthAdjust="spacingAndGlyphs">43.69</text>
<line x1="48" y1="156.31" x2="54.5" y2="156.31" stroke="#444" stroke-width="1"/>
<text x="26.3" y="156.81" font-size="8.4" fill="#333" stroke="#333" stroke-width="0.18" textLength="18" lengthAdjust="spacingAndGlyphs">87.37</text>
<line x1="48" y1="95.2" x2="54.5" y2="95.2" stroke="#444" stroke-width="1"/>
<text x="22.1" y="95.7" font-size="8.4" fill="#333" stroke="#333" stroke-width="0.18" textLength="22.2" lengthAdjust="spacingAndGlyphs">131.06</text>
<line x1="48" y1="34.1" x2="54.5" y2="34.1" stroke="#444" stroke-width="1"/>
<text x="21.9" y="34.6" font-size="8.4" fill="#333" stroke="#333" stroke-width="0.18" textLength="22.4" lengthAdjust="spacingAndGlyphs">174.75</text>
<line x1="68.15" y1="292.1" x2="68.15" y2="298.6" stroke="#444" stroke-width="1"/>
<text x="66.25" y="309.7" font-size="8.8" fill="#222" stroke="#222" stroke-width="0.28" textLength="3.8" lengthAdjust="spacingAndGlyphs">1</text>
<line x1="108.88" y1="292.1" x2="108.88" y2="298.6" stroke="#444" stroke-width="1"/>
<text x="106.98" y="309.7" font-size="8.8" fill="#222" stroke="#222" stroke-width="0.28" textLength="3.8" lengthAdjust="spacingAndGlyphs">2</text>
<line x1="149.61" y1="292.1" x2="149.61" y2="298.6" stroke="#444" stroke-width="1"/>
<text x="147.71" y="309.7" font-size="8.8" fill="#222" stroke="#222" stroke-width="0.28" textLength="3.8" lengthAdjust="spacingAndGlyphs">3</text>
<line x1="190.34" y1="292.1" x2="190.34" y2="298.6" stroke="#444" stroke-width="1"/>
<text x="188.44" y="309.7" font-size="8.8" fill="#222" stroke="#222" stroke-width="0.28" textLength="3.8" lengthAdjust="spacingAndGlyphs">4</text>
<line x1="231.07" y1="292.1" x2="231.07" y2="298.6" stroke="#444" stroke-width="1"/>
<text x="229.17" y="309.7" font-size="8.8" fill="#222" stroke="#222" stroke-width="0.28" textLength="3.8" lengthAdjust="spacingAndGlyphs">5</text>
<line x1="271.8" y1="292.1" x2="271.8" y2="298.6" stroke="#444" stroke-width="1"/>
<text x="269.9" y="309.7" font-size="8.8" fill="#222" stroke="#222" stroke-width="0.28" textLength="3.8" lengthAdjust="spacingAndGlyphs">6</text>
<line x1="312.53" y1="292.1" x2="312.53" y2="298.6" stroke="#444" stroke-width="1"/>
<text x="310.63" y="309.7" font-size="8.8" fill="#222" stroke="#222" stroke-width="0.28" textLength="3.8" lengthAdjust="spacingAndGlyphs">7</text>
<text x="179.1" y="329.7" font-size="10" fill="#222" stroke="#222" stroke-width="0.28" textLength="21.5" lengthAdjust="spacingAndGlyphs">Rank</text>
<text transform="translate(14.2,193.8) rotate(-90)" font-size="10.5" fill="#2a2a2a" stroke="#2a2a2a" stroke-width="0.2" textLength="78.2" lengthAdjust="spacingAndGlyphs">t-Value of |Effect|</text>
<line x1="55" y1="153.8" x2="325" y2="153.8" stroke="#e82028" stroke-width="1.5"/>
<line x1="55" y1="260.7" x2="325" y2="260.7" stroke="#2a2a2a" stroke-width="1.2"/>
<rect x="62.15" y="34.5" width="12" height="244" fill="#0a82ff" stroke="#00081a" stroke-width="0.8"/>
<rect x="65.15" y="37.5" width="6" height="238.1" fill="#fff" stroke="#00081a" stroke-width="0.6" stroke-opacity="0.8"/>
<rect x="102.88" y="163.52" width="12" height="114.98" fill="#0a82ff" stroke="#00081a" stroke-width="0.8"/>
<rect x="105.88" y="166.52" width="6" height="109.08" fill="#fff" stroke="#00081a" stroke-width="0.6" stroke-opacity="0.8"/>
<rect x="143.61" y="218.8" width="12" height="59.7" fill="#0a82ff" stroke="#00081a" stroke-width="0.8"/>
<rect x="146.61" y="221.8" width="6" height="53.8" fill="#fff" stroke="#00081a" stroke-width="0.6" stroke-opacity="0.8"/>
<rect x="184.34" y="222.9" width="12" height="55.6" fill="#ff8a00" stroke="#1a1000" stroke-width="0.8"/>
<rect x="187.34" y="225.9" width="6" height="49.7" fill="#fff" stroke="#1a1000" stroke-width="0.6" stroke-opacity="0.8"/>
<rect x="225.07" y="265.4" width="12" height="13.1" fill="#0a82ff" stroke="#00081a" stroke-width="0.8"/>
<rect x="228.07" y="268.4" width="6" height="7.2" fill="#fff" stroke="#00081a" stroke-width="0.6" stroke-opacity="0.8"/>
<rect x="265.8" y="265.61" width="12" height="12.89" fill="#0a82ff" stroke="#00081a" stroke-width="0.8"/>
<rect x="268.8" y="268.61" width="6" height="6.99" fill="#fff" stroke="#00081a" stroke-width="0.6" stroke-opacity="0.8"/>
<rect x="306" y="276.6" width="12" height="2" fill="#1a4aa0" stroke="#0a1f4a" stroke-width="0.5"/>
<text x="55.2" y="25.6" font-size="8.2" fill="#1a1a1a" stroke="#1a1a1a" stroke-width="0.28" textLength="48.5" lengthAdjust="spacingAndGlyphs">B-Cholesterol</text>
<text x="83.4" y="154.4" font-size="8.6" fill="#1a1a1a" stroke="#1a1a1a" stroke-width="0.28" textLength="52.1" lengthAdjust="spacingAndGlyphs">C-Egg Lecithin</text>
<text x="144.9" y="210.5" font-size="8.6" fill="#1a1a1a" stroke="#1a1a1a" stroke-width="0.28" textLength="8.9" lengthAdjust="spacingAndGlyphs">BC</text>
<text x="171.8" y="214" font-size="8.6" fill="#1a1a1a" stroke="#1a1a1a" stroke-width="0.28" textLength="37.1" lengthAdjust="spacingAndGlyphs">A-Span 60</text>
<text x="225.8" y="256.6" font-size="8.6" fill="#1a1a1a" stroke="#1a1a1a" stroke-width="0.28" textLength="10.5" lengthAdjust="spacingAndGlyphs">AC</text>
<text x="247.6" y="256.8" font-size="8.4" fill="#1a1a1a" stroke="#1a1a1a" stroke-width="0.28" textLength="74.4" lengthAdjust="spacingAndGlyphs">t-Value Limit 12.7062</text>
<text x="266" y="256.6" font-size="8.6" fill="#1a1a1a" stroke="#1a1a1a" stroke-width="0.28" textLength="9.8" lengthAdjust="spacingAndGlyphs">AB</text>
<text x="239.7" y="150.2" font-size="8.4" fill="#1a1a1a" stroke="#1a1a1a" stroke-width="0.28" textLength="81.8" lengthAdjust="spacingAndGlyphs">Bonferroni Limit 89.123</text>
<text x="224" y="32.8" font-size="7" fill="#1a1a1a" stroke="#1a1a1a" stroke-width="0.28" font-weight="bold" textLength="92.6" lengthAdjust="spacingAndGlyphs">Entrapment Efficiency of DOX</text>
<text x="224" y="49.9" font-size="7" fill="#333" stroke="#333" stroke-width="0.28" textLength="31" lengthAdjust="spacingAndGlyphs">A: Span 60</text>
<text x="224" y="58.3" font-size="7" fill="#333" stroke="#333" stroke-width="0.28" textLength="40" lengthAdjust="spacingAndGlyphs">B: Cholesterol</text>
<text x="224" y="66.5" font-size="7" fill="#333" stroke="#333" stroke-width="0.28" textLength="42.3" lengthAdjust="spacingAndGlyphs">C: Egg Lecithin</text>
<rect x="227.5" y="81.2" width="6.6" height="6" fill="#ff8a00" stroke="#1a1000" stroke-width="0.9"/>
<rect x="227.5" y="95.2" width="6.6" height="6" fill="#0a82ff" stroke="#00081a" stroke-width="0.9"/>
<text x="239.7" y="86.6" font-size="7" fill="#f07f1a" stroke="#f07f1a" stroke-width="0.28" textLength="42.4" lengthAdjust="spacingAndGlyphs">Positive Effects</text>
<text x="239.7" y="100.6" font-size="7" fill="#2a7ef0" stroke="#2a7ef0" stroke-width="0.28" textLength="46.5" lengthAdjust="spacingAndGlyphs">Negative Effects</text>
</svg></body></html>
